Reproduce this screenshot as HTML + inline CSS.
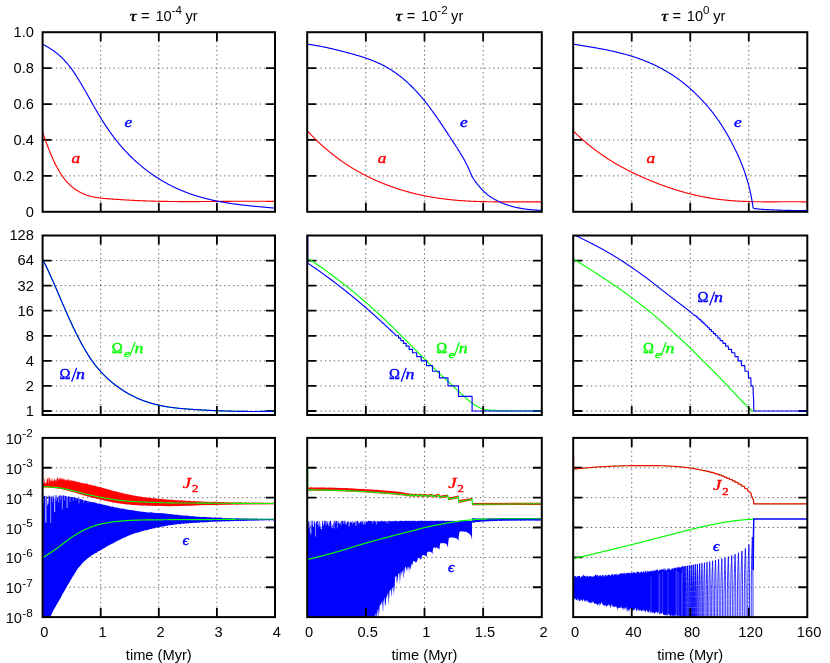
<!DOCTYPE html>
<html><head><meta charset="utf-8"><title>chart</title>
<style>html,body{margin:0;padding:0;background:#fff;}svg{display:block;}</style></head><body>
<svg width="830" height="663" viewBox="0 0 830 663">
<rect width="830" height="663" fill="#fff"/>
<g opacity="0.999">
<defs>
<clipPath id="cp00"><rect x="42.6" y="32.2" width="232.4" height="179.6"/></clipPath>
<clipPath id="cp01"><rect x="42.6" y="235.5" width="232.4" height="179.5"/></clipPath>
<clipPath id="cp02"><rect x="42.6" y="437.9" width="232.4" height="179.2"/></clipPath>
<clipPath id="cp10"><rect x="307.2" y="32.2" width="234.6" height="179.6"/></clipPath>
<clipPath id="cp11"><rect x="307.2" y="235.5" width="234.6" height="179.5"/></clipPath>
<clipPath id="cp12"><rect x="307.2" y="437.9" width="234.6" height="179.2"/></clipPath>
<clipPath id="cp20"><rect x="573.2" y="32.2" width="234.1" height="179.6"/></clipPath>
<clipPath id="cp21"><rect x="573.2" y="235.5" width="234.1" height="179.5"/></clipPath>
<clipPath id="cp22"><rect x="573.2" y="437.9" width="234.1" height="179.2"/></clipPath>
</defs>
<path d="M100.7 32.2 V211.8 M158.8 32.2 V211.8 M216.9 32.2 V211.8 M42.6 175.88 H275 M42.6 139.96 H275 M42.6 104.04 H275 M42.6 68.12 H275" stroke="#000" stroke-opacity="0.62" stroke-width="1" stroke-dasharray="1.35 3.08" fill="none"/>
<path d="M42.6 175.88 h9 M275 175.88 h-9 M42.6 139.96 h9 M275 139.96 h-9 M42.6 104.04 h9 M275 104.04 h-9 M42.6 68.12 h9 M275 68.12 h-9" stroke="#000" stroke-width="1.8" fill="none"/>
<g clip-path="url(#cp00)">
<path d="M42.56 132.08 L43.06 133.54 L43.57 134.98 L44.07 136.41 L44.57 137.83 L45.07 139.23 L45.57 140.61 L46.07 141.98 L46.57 143.34 L47.07 144.68 L47.57 146 L48.07 147.31 L48.57 148.6 L49.07 149.87 L49.58 151.12 L50.08 152.36 L50.58 153.57 L51.08 154.77 L51.58 155.95 L52.08 157.11 L52.58 158.25 L53.08 159.37 L53.58 160.46 L54.08 161.54 L54.58 162.6 L55.08 163.63 L55.58 164.64 L56.09 165.63 L56.59 166.59 L57.09 167.54 L57.59 168.46 L58.09 169.35 L58.59 170.23 L59.09 171.08 L59.59 171.92 L60.09 172.73 L60.59 173.52 L61.09 174.29 L61.59 175.04 L62.1 175.77 L62.6 176.48 L63.1 177.18 L63.6 177.85 L64.1 178.51 L64.6 179.15 L65.1 179.77 L65.6 180.38 L66.1 180.97 L66.6 181.54 L67.1 182.1 L67.6 182.64 L68.1 183.17 L68.61 183.68 L69.11 184.18 L69.61 184.66 L70.11 185.13 L70.61 185.59 L71.11 186.03 L71.61 186.47 L72.11 186.89 L72.61 187.3 L73.11 187.7 L73.61 188.08 L74.11 188.46 L74.62 188.83 L75.12 189.18 L75.62 189.53 L76.12 189.87 L76.62 190.2 L77.12 190.52 L77.62 190.83 L78.12 191.13 L78.62 191.43 L79.12 191.72 L79.62 191.99 L80.12 192.26 L80.62 192.52 L81.13 192.78 L81.63 193.03 L82.13 193.26 L82.63 193.5 L83.13 193.72 L83.63 193.94 L84.13 194.15 L84.63 194.35 L85.13 194.55 L85.63 194.74 L86.13 194.92 L86.63 195.1 L87.14 195.27 L87.64 195.44 L88.14 195.6 L88.64 195.75 L89.14 195.9 L89.64 196.04 L90.14 196.18 L90.64 196.31 L91.14 196.44 L91.64 196.56 L92.14 196.68 L92.64 196.79 L93.14 196.9 L93.65 197 L94.15 197.1 L94.65 197.2 L95.15 197.29 L95.65 197.38 L96.15 197.47 L96.65 197.55 L97.15 197.62 L97.65 197.7 L98.15 197.77 L98.65 197.84 L99.15 197.91 L99.66 197.97 L100.16 198.03 L100.66 198.09 L101.16 198.14 L101.66 198.2 L102.16 198.25 L102.66 198.3 L103.16 198.35 L103.66 198.39 L104.16 198.44 L104.66 198.48 L105.16 198.53 L105.66 198.57 L106.17 198.61 L106.67 198.65 L107.17 198.69 L107.67 198.73 L108.17 198.77 L108.67 198.81 L109.17 198.84 L109.67 198.88 L110.17 198.92 L110.67 198.96 L111.17 199 L111.67 199.03 L112.18 199.07 L112.68 199.11 L113.18 199.14 L113.68 199.18 L114.18 199.21 L114.68 199.25 L115.18 199.28 L115.68 199.32 L116.18 199.35 L116.68 199.39 L117.18 199.42 L117.68 199.45 L118.18 199.49 L118.69 199.52 L119.19 199.55 L119.69 199.59 L120.19 199.62 L120.69 199.65 L121.19 199.68 L121.69 199.71 L122.19 199.74 L122.69 199.78 L123.19 199.81 L123.69 199.84 L124.19 199.87 L124.7 199.9 L125.2 199.93 L125.7 199.95 L126.2 199.98 L126.7 200.01 L127.2 200.04 L127.7 200.07 L128.2 200.1 L128.7 200.12 L129.2 200.15 L129.7 200.18 L130.2 200.21 L130.7 200.23 L131.21 200.26 L131.71 200.28 L132.21 200.31 L132.71 200.33 L133.21 200.36 L133.71 200.38 L134.21 200.41 L134.71 200.43 L135.21 200.46 L135.71 200.48 L136.21 200.51 L136.71 200.53 L137.22 200.55 L137.72 200.57 L138.22 200.6 L138.72 200.62 L139.22 200.64 L139.72 200.66 L140.22 200.68 L140.72 200.7 L141.22 200.73 L141.72 200.75 L142.22 200.77 L142.72 200.79 L143.22 200.81 L143.73 200.83 L144.23 200.84 L144.73 200.86 L145.23 200.88 L145.73 200.9 L146.23 200.92 L146.73 200.94 L147.23 200.95 L147.73 200.97 L148.23 200.99 L148.73 201.01 L149.23 201.02 L149.74 201.04 L150.24 201.05 L150.74 201.07 L151.24 201.09 L151.74 201.1 L152.24 201.12 L152.74 201.13 L153.24 201.14 L153.74 201.16 L154.24 201.17 L154.74 201.19 L155.24 201.2 L155.74 201.21 L156.25 201.23 L156.75 201.24 L157.25 201.25 L157.75 201.26 L158.25 201.27 L158.75 201.29 L159.25 201.3 L159.75 201.31 L160.25 201.32 L160.75 201.33 L161.25 201.34 L161.75 201.35 L162.26 201.36 L162.76 201.37 L163.26 201.38 L163.76 201.39 L164.26 201.4 L164.76 201.4 L165.26 201.41 L165.76 201.42 L166.26 201.43 L166.76 201.44 L167.26 201.44 L167.76 201.45 L168.26 201.46 L168.77 201.46 L169.27 201.47 L169.77 201.48 L170.27 201.48 L170.77 201.49 L171.27 201.5 L171.77 201.5 L172.27 201.51 L172.77 201.51 L173.27 201.52 L173.77 201.52 L174.27 201.52 L174.78 201.53 L175.28 201.53 L175.78 201.54 L176.28 201.54 L176.78 201.54 L177.28 201.55 L177.78 201.55 L178.28 201.55 L178.78 201.56 L179.28 201.56 L179.78 201.56 L180.28 201.56 L180.78 201.57 L181.29 201.57 L181.79 201.57 L182.29 201.57 L182.79 201.57 L183.29 201.57 L183.79 201.57 L184.29 201.58 L184.79 201.58 L185.29 201.58 L185.79 201.58 L186.29 201.58 L186.79 201.58 L187.3 201.58 L187.8 201.58 L188.3 201.58 L188.8 201.58 L189.3 201.58 L189.8 201.58 L190.3 201.58 L190.8 201.58 L191.3 201.58 L191.8 201.57 L192.3 201.57 L192.8 201.57 L193.3 201.57 L193.81 201.57 L194.31 201.57 L194.81 201.57 L195.31 201.56 L195.81 201.56 L196.31 201.56 L196.81 201.56 L197.31 201.56 L197.81 201.55 L198.31 201.55 L198.81 201.55 L199.31 201.55 L199.82 201.54 L200.32 201.54 L200.82 201.54 L201.32 201.53 L201.82 201.53 L202.32 201.53 L202.82 201.53 L203.32 201.52 L203.82 201.52 L204.32 201.52 L204.82 201.51 L205.32 201.51 L205.82 201.51 L206.33 201.5 L206.83 201.5 L207.33 201.49 L207.83 201.49 L208.33 201.49 L208.83 201.48 L209.33 201.48 L209.83 201.48 L210.33 201.47 L210.83 201.47 L211.33 201.46 L211.83 201.46 L212.34 201.46 L212.84 201.45 L213.34 201.45 L213.84 201.44 L214.34 201.44 L214.84 201.43 L215.34 201.43 L215.84 201.43 L216.34 201.42 L216.84 201.42 L217.34 201.41 L217.84 201.41 L218.34 201.4 L218.85 201.4 L219.35 201.4 L219.85 201.39 L220.35 201.39 L220.85 201.38 L221.35 201.38 L221.85 201.37 L222.35 201.37 L222.85 201.37 L223.35 201.36 L223.85 201.36 L224.35 201.35 L224.86 201.35 L225.36 201.35 L225.86 201.34 L226.36 201.34 L226.86 201.33 L227.36 201.33 L227.86 201.33 L228.36 201.32 L228.86 201.32 L229.36 201.31 L229.86 201.31 L230.36 201.31 L230.86 201.3 L231.37 201.3 L231.87 201.3 L232.37 201.29 L232.87 201.29 L233.37 201.29 L233.87 201.28 L234.37 201.28 L234.87 201.28 L235.37 201.27 L235.87 201.27 L236.37 201.27 L236.87 201.26 L237.38 201.26 L237.88 201.26 L238.38 201.26 L238.88 201.25 L239.38 201.25 L239.88 201.25 L240.38 201.25 L240.88 201.24 L241.38 201.24 L241.88 201.24 L242.38 201.24 L242.88 201.24 L243.38 201.23 L243.89 201.23 L244.39 201.23 L244.89 201.23 L245.39 201.23 L245.89 201.23 L246.39 201.23 L246.89 201.22 L247.39 201.22 L247.89 201.22 L248.39 201.22 L248.89 201.22 L249.39 201.22 L249.9 201.22 L250.4 201.22 L250.9 201.22 L251.4 201.22 L251.9 201.22 L252.4 201.22 L252.9 201.22 L253.4 201.22 L253.9 201.23 L254.4 201.23 L254.9 201.23 L255.4 201.23 L255.9 201.23 L256.41 201.23 L256.91 201.23 L257.41 201.24 L257.91 201.24 L258.41 201.24 L258.91 201.24 L259.41 201.25 L259.91 201.25 L260.41 201.25 L260.91 201.26 L261.41 201.26 L261.91 201.26 L262.42 201.27 L262.92 201.27 L263.42 201.28 L263.92 201.28 L264.42 201.28 L264.92 201.29 L265.42 201.29 L265.92 201.3 L266.42 201.31 L266.92 201.31 L267.42 201.32 L267.92 201.32 L268.42 201.33 L268.93 201.34 L269.43 201.34 L269.93 201.35 L270.43 201.36 L270.93 201.36 L271.43 201.37 L271.93 201.38 L272.43 201.39 L272.93 201.4 L273.43 201.4 L273.93 201.41 L274.43 201.42 L274.94 201.43 L275.44 201.44" fill="none" stroke="#ff0000" stroke-width="1.15" stroke-linejoin="round" />
<path d="M42.56 44.29 L43.06 44.55 L43.57 44.8 L44.07 45.06 L44.57 45.32 L45.07 45.59 L45.57 45.86 L46.07 46.13 L46.57 46.41 L47.07 46.69 L47.57 46.98 L48.07 47.27 L48.57 47.57 L49.07 47.87 L49.58 48.17 L50.08 48.49 L50.58 48.8 L51.08 49.13 L51.58 49.45 L52.08 49.79 L52.58 50.13 L53.08 50.47 L53.58 50.83 L54.08 51.18 L54.58 51.55 L55.08 51.92 L55.58 52.3 L56.09 52.69 L56.59 53.08 L57.09 53.48 L57.59 53.89 L58.09 54.31 L58.59 54.73 L59.09 55.17 L59.59 55.61 L60.09 56.05 L60.59 56.51 L61.09 56.98 L61.59 57.45 L62.1 57.94 L62.6 58.43 L63.1 58.93 L63.6 59.44 L64.1 59.97 L64.6 60.5 L65.1 61.04 L65.6 61.59 L66.1 62.15 L66.6 62.72 L67.1 63.31 L67.6 63.9 L68.1 64.5 L68.61 65.12 L69.11 65.74 L69.61 66.38 L70.11 67.03 L70.61 67.69 L71.11 68.36 L71.61 69.05 L72.11 69.74 L72.61 70.45 L73.11 71.17 L73.61 71.89 L74.11 72.63 L74.62 73.37 L75.12 74.13 L75.62 74.89 L76.12 75.67 L76.62 76.45 L77.12 77.24 L77.62 78.03 L78.12 78.84 L78.62 79.65 L79.12 80.47 L79.62 81.29 L80.12 82.12 L80.62 82.96 L81.13 83.8 L81.63 84.65 L82.13 85.5 L82.63 86.36 L83.13 87.22 L83.63 88.09 L84.13 88.96 L84.63 89.83 L85.13 90.71 L85.63 91.59 L86.13 92.47 L86.63 93.36 L87.14 94.24 L87.64 95.13 L88.14 96.02 L88.64 96.91 L89.14 97.8 L89.64 98.69 L90.14 99.58 L90.64 100.47 L91.14 101.37 L91.64 102.26 L92.14 103.15 L92.64 104.03 L93.14 104.92 L93.65 105.8 L94.15 106.68 L94.65 107.56 L95.15 108.44 L95.65 109.31 L96.15 110.18 L96.65 111.05 L97.15 111.91 L97.65 112.77 L98.15 113.62 L98.65 114.47 L99.15 115.31 L99.66 116.14 L100.16 116.97 L100.66 117.8 L101.16 118.62 L101.66 119.43 L102.16 120.23 L102.66 121.03 L103.16 121.82 L103.66 122.6 L104.16 123.38 L104.66 124.15 L105.16 124.92 L105.66 125.68 L106.17 126.43 L106.67 127.18 L107.17 127.92 L107.67 128.65 L108.17 129.38 L108.67 130.11 L109.17 130.82 L109.67 131.53 L110.17 132.24 L110.67 132.94 L111.17 133.63 L111.67 134.31 L112.18 135 L112.68 135.67 L113.18 136.34 L113.68 137.01 L114.18 137.66 L114.68 138.32 L115.18 138.96 L115.68 139.61 L116.18 140.24 L116.68 140.87 L117.18 141.5 L117.68 142.12 L118.18 142.73 L118.69 143.34 L119.19 143.95 L119.69 144.55 L120.19 145.14 L120.69 145.73 L121.19 146.32 L121.69 146.9 L122.19 147.47 L122.69 148.04 L123.19 148.6 L123.69 149.16 L124.19 149.72 L124.7 150.27 L125.2 150.81 L125.7 151.35 L126.2 151.89 L126.7 152.42 L127.2 152.95 L127.7 153.47 L128.2 153.99 L128.7 154.5 L129.2 155.01 L129.7 155.52 L130.2 156.02 L130.7 156.51 L131.21 157.01 L131.71 157.49 L132.21 157.98 L132.71 158.46 L133.21 158.93 L133.71 159.4 L134.21 159.87 L134.71 160.33 L135.21 160.79 L135.71 161.25 L136.21 161.7 L136.71 162.15 L137.22 162.59 L137.72 163.03 L138.22 163.47 L138.72 163.91 L139.22 164.33 L139.72 164.76 L140.22 165.18 L140.72 165.6 L141.22 166.02 L141.72 166.43 L142.22 166.84 L142.72 167.25 L143.22 167.65 L143.73 168.05 L144.23 168.44 L144.73 168.84 L145.23 169.23 L145.73 169.61 L146.23 170 L146.73 170.38 L147.23 170.76 L147.73 171.13 L148.23 171.51 L148.73 171.87 L149.23 172.24 L149.74 172.6 L150.24 172.97 L150.74 173.32 L151.24 173.68 L151.74 174.03 L152.24 174.38 L152.74 174.73 L153.24 175.07 L153.74 175.41 L154.24 175.75 L154.74 176.09 L155.24 176.42 L155.74 176.75 L156.25 177.08 L156.75 177.41 L157.25 177.73 L157.75 178.05 L158.25 178.37 L158.75 178.68 L159.25 178.99 L159.75 179.3 L160.25 179.61 L160.75 179.92 L161.25 180.22 L161.75 180.52 L162.26 180.81 L162.76 181.11 L163.26 181.4 L163.76 181.69 L164.26 181.98 L164.76 182.26 L165.26 182.55 L165.76 182.83 L166.26 183.1 L166.76 183.38 L167.26 183.65 L167.76 183.92 L168.26 184.19 L168.77 184.45 L169.27 184.72 L169.77 184.98 L170.27 185.24 L170.77 185.49 L171.27 185.75 L171.77 186 L172.27 186.25 L172.77 186.5 L173.27 186.74 L173.77 186.99 L174.27 187.23 L174.78 187.47 L175.28 187.7 L175.78 187.94 L176.28 188.17 L176.78 188.4 L177.28 188.63 L177.78 188.85 L178.28 189.08 L178.78 189.3 L179.28 189.52 L179.78 189.73 L180.28 189.95 L180.78 190.16 L181.29 190.37 L181.79 190.58 L182.29 190.79 L182.79 191 L183.29 191.2 L183.79 191.4 L184.29 191.6 L184.79 191.8 L185.29 192 L185.79 192.19 L186.29 192.38 L186.79 192.57 L187.3 192.76 L187.8 192.95 L188.3 193.13 L188.8 193.31 L189.3 193.49 L189.8 193.67 L190.3 193.85 L190.8 194.03 L191.3 194.2 L191.8 194.37 L192.3 194.54 L192.8 194.71 L193.3 194.88 L193.81 195.05 L194.31 195.21 L194.81 195.37 L195.31 195.53 L195.81 195.69 L196.31 195.85 L196.81 196 L197.31 196.16 L197.81 196.31 L198.31 196.46 L198.81 196.61 L199.31 196.76 L199.82 196.9 L200.32 197.05 L200.82 197.19 L201.32 197.33 L201.82 197.47 L202.32 197.61 L202.82 197.75 L203.32 197.88 L203.82 198.02 L204.32 198.15 L204.82 198.28 L205.32 198.41 L205.82 198.54 L206.33 198.67 L206.83 198.8 L207.33 198.92 L207.83 199.04 L208.33 199.17 L208.83 199.29 L209.33 199.41 L209.83 199.52 L210.33 199.64 L210.83 199.76 L211.33 199.87 L211.83 199.99 L212.34 200.1 L212.84 200.21 L213.34 200.32 L213.84 200.43 L214.34 200.53 L214.84 200.64 L215.34 200.74 L215.84 200.85 L216.34 200.95 L216.84 201.05 L217.34 201.15 L217.84 201.25 L218.34 201.35 L218.85 201.45 L219.35 201.54 L219.85 201.64 L220.35 201.73 L220.85 201.82 L221.35 201.92 L221.85 202.01 L222.35 202.1 L222.85 202.19 L223.35 202.27 L223.85 202.36 L224.35 202.45 L224.86 202.53 L225.36 202.61 L225.86 202.7 L226.36 202.78 L226.86 202.86 L227.36 202.94 L227.86 203.02 L228.36 203.1 L228.86 203.18 L229.36 203.25 L229.86 203.33 L230.36 203.41 L230.86 203.48 L231.37 203.55 L231.87 203.63 L232.37 203.7 L232.87 203.77 L233.37 203.84 L233.87 203.91 L234.37 203.98 L234.87 204.05 L235.37 204.11 L235.87 204.18 L236.37 204.25 L236.87 204.31 L237.38 204.38 L237.88 204.44 L238.38 204.51 L238.88 204.57 L239.38 204.63 L239.88 204.69 L240.38 204.75 L240.88 204.81 L241.38 204.87 L241.88 204.93 L242.38 204.99 L242.88 205.05 L243.38 205.11 L243.89 205.17 L244.39 205.22 L244.89 205.28 L245.39 205.33 L245.89 205.39 L246.39 205.44 L246.89 205.5 L247.39 205.55 L247.89 205.6 L248.39 205.66 L248.89 205.71 L249.39 205.76 L249.9 205.81 L250.4 205.87 L250.9 205.92 L251.4 205.97 L251.9 206.02 L252.4 206.07 L252.9 206.12 L253.4 206.17 L253.9 206.22 L254.4 206.26 L254.9 206.31 L255.4 206.36 L255.9 206.41 L256.41 206.46 L256.91 206.5 L257.41 206.55 L257.91 206.6 L258.41 206.64 L258.91 206.69 L259.41 206.74 L259.91 206.78 L260.41 206.83 L260.91 206.88 L261.41 206.92 L261.91 206.97 L262.42 207.01 L262.92 207.06 L263.42 207.1 L263.92 207.15 L264.42 207.19 L264.92 207.24 L265.42 207.28 L265.92 207.33 L266.42 207.37 L266.92 207.42 L267.42 207.46 L267.92 207.51 L268.42 207.56 L268.93 207.6 L269.43 207.65 L269.93 207.69 L270.43 207.74 L270.93 207.78 L271.43 207.83 L271.93 207.87 L272.43 207.92 L272.93 207.96 L273.43 208.01 L273.93 208.06 L274.43 208.1 L274.94 208.15 L275.44 208.2" fill="none" stroke="#0000ff" stroke-width="1.15" stroke-linejoin="round" />
</g>
<text transform="translate(124.4 127) scale(1.2 1)" font-family='"Liberation Serif", serif' font-size="14.4" fill="#0000ff" stroke="#0000ff" stroke-width="0.42" font-style="italic" >e</text>
<text transform="translate(71.6 163.2) scale(1.2 1)" font-family='"Liberation Serif", serif' font-size="14.4" fill="#ff0000" stroke="#ff0000" stroke-width="0.42" font-style="italic" >a</text>
<path d="M100.7 211.8 v-9 M100.7 32.2 v9 M158.8 211.8 v-9 M158.8 32.2 v9 M216.9 211.8 v-9 M216.9 32.2 v9" stroke="#000" stroke-width="1.8" fill="none"/>
<rect x="42.6" y="32.2" width="232.4" height="179.6" fill="none" stroke="#000" stroke-width="2"/>
<path d="M365.85 32.2 V211.8 M424.5 32.2 V211.8 M483.15 32.2 V211.8 M307.2 175.88 H541.8 M307.2 139.96 H541.8 M307.2 104.04 H541.8 M307.2 68.12 H541.8" stroke="#000" stroke-opacity="0.62" stroke-width="1" stroke-dasharray="1.35 3.08" fill="none"/>
<path d="M307.2 175.88 h9 M541.8 175.88 h-9 M307.2 139.96 h9 M541.8 139.96 h-9 M307.2 104.04 h9 M541.8 104.04 h-9 M307.2 68.12 h9 M541.8 68.12 h-9" stroke="#000" stroke-width="1.8" fill="none"/>
<g clip-path="url(#cp10)">
<path d="M307.57 131.08 L308.07 131.62 L308.57 132.15 L309.07 132.68 L309.57 133.21 L310.07 133.74 L310.57 134.26 L311.07 134.78 L311.57 135.29 L312.07 135.8 L312.57 136.31 L313.07 136.82 L313.58 137.32 L314.08 137.82 L314.58 138.32 L315.08 138.82 L315.58 139.31 L316.08 139.8 L316.58 140.28 L317.08 140.76 L317.58 141.24 L318.08 141.72 L318.58 142.19 L319.08 142.66 L319.59 143.13 L320.09 143.6 L320.59 144.06 L321.09 144.52 L321.59 144.98 L322.09 145.43 L322.59 145.88 L323.09 146.33 L323.59 146.77 L324.09 147.22 L324.59 147.66 L325.09 148.09 L325.59 148.53 L326.1 148.96 L326.6 149.39 L327.1 149.82 L327.6 150.24 L328.1 150.66 L328.6 151.08 L329.1 151.49 L329.6 151.91 L330.1 152.32 L330.6 152.73 L331.1 153.13 L331.6 153.53 L332.1 153.93 L332.61 154.33 L333.11 154.73 L333.61 155.12 L334.11 155.51 L334.61 155.9 L335.11 156.28 L335.61 156.66 L336.11 157.04 L336.61 157.42 L337.11 157.8 L337.61 158.17 L338.11 158.54 L338.62 158.91 L339.12 159.27 L339.62 159.64 L340.12 160 L340.62 160.35 L341.12 160.71 L341.62 161.06 L342.12 161.42 L342.62 161.76 L343.12 162.11 L343.62 162.46 L344.12 162.8 L344.62 163.14 L345.13 163.47 L345.63 163.81 L346.13 164.14 L346.63 164.47 L347.13 164.8 L347.63 165.13 L348.13 165.45 L348.63 165.78 L349.13 166.1 L349.63 166.41 L350.13 166.73 L350.63 167.04 L351.13 167.35 L351.64 167.66 L352.14 167.97 L352.64 168.28 L353.14 168.58 L353.64 168.88 L354.14 169.18 L354.64 169.48 L355.14 169.77 L355.64 170.07 L356.14 170.36 L356.64 170.65 L357.14 170.93 L357.64 171.22 L358.15 171.5 L358.65 171.78 L359.15 172.06 L359.65 172.34 L360.15 172.62 L360.65 172.89 L361.15 173.16 L361.65 173.43 L362.15 173.7 L362.65 173.97 L363.15 174.23 L363.65 174.5 L364.16 174.76 L364.66 175.02 L365.16 175.27 L365.66 175.53 L366.16 175.78 L366.66 176.04 L367.16 176.29 L367.66 176.54 L368.16 176.78 L368.66 177.03 L369.16 177.27 L369.66 177.52 L370.16 177.76 L370.67 178 L371.17 178.23 L371.67 178.47 L372.17 178.71 L372.67 178.94 L373.17 179.17 L373.67 179.4 L374.17 179.63 L374.67 179.85 L375.17 180.08 L375.67 180.3 L376.17 180.52 L376.67 180.75 L377.18 180.96 L377.68 181.18 L378.18 181.4 L378.68 181.61 L379.18 181.83 L379.68 182.04 L380.18 182.25 L380.68 182.46 L381.18 182.67 L381.68 182.87 L382.18 183.08 L382.68 183.28 L383.19 183.48 L383.69 183.68 L384.19 183.88 L384.69 184.08 L385.19 184.28 L385.69 184.47 L386.19 184.67 L386.69 184.86 L387.19 185.05 L387.69 185.24 L388.19 185.43 L388.69 185.62 L389.19 185.8 L389.7 185.99 L390.2 186.17 L390.7 186.35 L391.2 186.53 L391.7 186.71 L392.2 186.89 L392.7 187.07 L393.2 187.24 L393.7 187.42 L394.2 187.59 L394.7 187.76 L395.2 187.93 L395.7 188.1 L396.21 188.27 L396.71 188.43 L397.21 188.6 L397.71 188.76 L398.21 188.92 L398.71 189.08 L399.21 189.24 L399.71 189.4 L400.21 189.56 L400.71 189.72 L401.21 189.87 L401.71 190.02 L402.21 190.18 L402.72 190.33 L403.22 190.48 L403.72 190.63 L404.22 190.77 L404.72 190.92 L405.22 191.06 L405.72 191.21 L406.22 191.35 L406.72 191.49 L407.22 191.63 L407.72 191.77 L408.22 191.91 L408.73 192.05 L409.23 192.18 L409.73 192.32 L410.23 192.45 L410.73 192.58 L411.23 192.71 L411.73 192.84 L412.23 192.97 L412.73 193.1 L413.23 193.22 L413.73 193.35 L414.23 193.47 L414.73 193.59 L415.24 193.72 L415.74 193.84 L416.24 193.96 L416.74 194.07 L417.24 194.19 L417.74 194.31 L418.24 194.42 L418.74 194.54 L419.24 194.65 L419.74 194.76 L420.24 194.87 L420.74 194.98 L421.24 195.09 L421.75 195.2 L422.25 195.3 L422.75 195.41 L423.25 195.51 L423.75 195.61 L424.25 195.72 L424.75 195.82 L425.25 195.92 L425.75 196.02 L426.25 196.11 L426.75 196.21 L427.25 196.31 L427.76 196.4 L428.26 196.5 L428.76 196.59 L429.26 196.68 L429.76 196.77 L430.26 196.86 L430.76 196.95 L431.26 197.04 L431.76 197.12 L432.26 197.21 L432.76 197.29 L433.26 197.38 L433.76 197.46 L434.27 197.54 L434.77 197.62 L435.27 197.7 L435.77 197.78 L436.27 197.86 L436.77 197.94 L437.27 198.01 L437.77 198.09 L438.27 198.16 L438.77 198.23 L439.27 198.31 L439.77 198.38 L440.27 198.45 L440.78 198.52 L441.28 198.59 L441.78 198.65 L442.28 198.72 L442.78 198.79 L443.28 198.85 L443.78 198.92 L444.28 198.98 L444.78 199.04 L445.28 199.1 L445.78 199.16 L446.28 199.22 L446.79 199.28 L447.29 199.34 L447.79 199.4 L448.29 199.45 L448.79 199.51 L449.29 199.56 L449.79 199.62 L450.29 199.67 L450.79 199.72 L451.29 199.77 L451.79 199.82 L452.29 199.87 L452.79 199.92 L453.3 199.97 L453.8 200.02 L454.3 200.06 L454.8 200.11 L455.3 200.15 L455.8 200.2 L456.3 200.24 L456.8 200.29 L457.3 200.33 L457.8 200.37 L458.3 200.41 L458.8 200.45 L459.3 200.49 L459.81 200.53 L460.31 200.56 L460.81 200.6 L461.31 200.64 L461.81 200.67 L462.31 200.71 L462.81 200.74 L463.31 200.77 L463.81 200.81 L464.31 200.84 L464.81 200.87 L465.31 200.9 L465.81 200.93 L466.32 200.96 L466.82 200.99 L467.32 201.02 L467.82 201.05 L468.32 201.07 L468.82 201.1 L469.32 201.13 L469.82 201.15 L470.32 201.18 L470.82 201.2 L471.32 201.22 L471.82 201.25 L472.33 201.27 L472.83 201.29 L473.33 201.31 L473.83 201.33 L474.33 201.36 L474.83 201.38 L475.33 201.39 L475.83 201.41 L476.33 201.43 L476.83 201.45 L477.33 201.47 L477.83 201.48 L478.33 201.5 L478.84 201.52 L479.34 201.53 L479.84 201.55 L480.34 201.56 L480.84 201.58 L481.34 201.59 L481.84 201.6 L482.34 201.62 L482.84 201.63 L483.34 201.64 L483.84 201.65 L484.34 201.66 L484.84 201.67 L485.35 201.68 L485.85 201.69 L486.35 201.7 L486.85 201.71 L487.35 201.72 L487.85 201.73 L488.35 201.74 L488.85 201.75 L489.35 201.75 L489.85 201.76 L490.35 201.77 L490.85 201.77 L491.36 201.78 L491.86 201.79 L492.36 201.79 L492.86 201.8 L493.36 201.8 L493.86 201.81 L494.36 201.81 L494.86 201.81 L495.36 201.82 L495.86 201.82 L496.36 201.83 L496.86 201.83 L497.36 201.83 L497.87 201.83 L498.37 201.84 L498.87 201.84 L499.37 201.84 L499.87 201.84 L500.37 201.84 L500.87 201.85 L501.37 201.85 L501.87 201.85 L502.37 201.85 L502.87 201.85 L503.37 201.85 L503.87 201.85 L504.38 201.85 L504.88 201.85 L505.38 201.85 L505.88 201.85 L506.38 201.85 L506.88 201.85 L507.38 201.85 L507.88 201.85 L508.38 201.85 L508.88 201.85 L509.38 201.84 L509.88 201.84 L510.38 201.84 L510.89 201.84 L511.39 201.84 L511.89 201.84 L512.39 201.84 L512.89 201.84 L513.39 201.83 L513.89 201.83 L514.39 201.83 L514.89 201.83 L515.39 201.83 L515.89 201.83 L516.39 201.83 L516.9 201.82 L517.4 201.82 L517.9 201.82 L518.4 201.82 L518.9 201.82 L519.4 201.82 L519.9 201.81 L520.4 201.81 L520.9 201.81 L521.4 201.81 L521.9 201.81 L522.4 201.81 L522.9 201.81 L523.41 201.81 L523.91 201.81 L524.41 201.8 L524.91 201.8 L525.41 201.8 L525.91 201.8 L526.41 201.8 L526.91 201.8 L527.41 201.8 L527.91 201.8 L528.41 201.8 L528.91 201.8 L529.41 201.8 L529.92 201.81 L530.42 201.81 L530.92 201.81 L531.42 201.81 L531.92 201.81 L532.42 201.81 L532.92 201.81 L533.42 201.82 L533.92 201.82 L534.42 201.82 L534.92 201.82 L535.42 201.83 L535.93 201.83 L536.43 201.83 L536.93 201.84 L537.43 201.84 L537.93 201.85 L538.43 201.85 L538.93 201.86 L539.43 201.86 L539.93 201.87 L540.43 201.87 L540.93 201.88 L541.43 201.88" fill="none" stroke="#ff0000" stroke-width="1.15" stroke-linejoin="round" />
<path d="M307.57 44.22 L308.07 44.28 L308.57 44.35 L309.07 44.41 L309.57 44.48 L310.07 44.55 L310.57 44.62 L311.07 44.69 L311.57 44.76 L312.07 44.84 L312.57 44.91 L313.07 44.99 L313.57 45.07 L314.07 45.15 L314.58 45.23 L315.08 45.31 L315.58 45.4 L316.08 45.48 L316.58 45.57 L317.08 45.66 L317.58 45.75 L318.08 45.84 L318.58 45.93 L319.08 46.02 L319.58 46.11 L320.08 46.21 L320.58 46.3 L321.08 46.4 L321.58 46.5 L322.09 46.6 L322.59 46.7 L323.09 46.8 L323.59 46.9 L324.09 47 L324.59 47.11 L325.09 47.21 L325.59 47.32 L326.09 47.43 L326.59 47.54 L327.09 47.64 L327.59 47.75 L328.09 47.87 L328.59 47.98 L329.09 48.09 L329.6 48.2 L330.1 48.32 L330.6 48.43 L331.1 48.55 L331.6 48.67 L332.1 48.78 L332.6 48.9 L333.1 49.02 L333.6 49.14 L334.1 49.26 L334.6 49.38 L335.1 49.51 L335.6 49.63 L336.1 49.75 L336.6 49.88 L337.11 50 L337.61 50.12 L338.11 50.25 L338.61 50.38 L339.11 50.5 L339.61 50.63 L340.11 50.76 L340.61 50.89 L341.11 51.02 L341.61 51.15 L342.11 51.28 L342.61 51.41 L343.11 51.54 L343.61 51.67 L344.11 51.8 L344.62 51.93 L345.12 52.07 L345.62 52.2 L346.12 52.33 L346.62 52.47 L347.12 52.6 L347.62 52.73 L348.12 52.87 L348.62 53 L349.12 53.14 L349.62 53.27 L350.12 53.41 L350.62 53.54 L351.12 53.68 L351.62 53.82 L352.13 53.96 L352.63 54.09 L353.13 54.23 L353.63 54.37 L354.13 54.51 L354.63 54.65 L355.13 54.79 L355.63 54.94 L356.13 55.08 L356.63 55.22 L357.13 55.37 L357.63 55.52 L358.13 55.66 L358.63 55.81 L359.13 55.96 L359.64 56.11 L360.14 56.26 L360.64 56.42 L361.14 56.57 L361.64 56.73 L362.14 56.88 L362.64 57.04 L363.14 57.2 L363.64 57.37 L364.14 57.53 L364.64 57.69 L365.14 57.86 L365.64 58.03 L366.14 58.2 L366.64 58.37 L367.14 58.55 L367.65 58.72 L368.15 58.9 L368.65 59.08 L369.15 59.26 L369.65 59.44 L370.15 59.63 L370.65 59.82 L371.15 60.01 L371.65 60.2 L372.15 60.4 L372.65 60.59 L373.15 60.79 L373.65 61 L374.15 61.2 L374.65 61.41 L375.16 61.62 L375.66 61.83 L376.16 62.04 L376.66 62.26 L377.16 62.48 L377.66 62.71 L378.16 62.93 L378.66 63.16 L379.16 63.39 L379.66 63.63 L380.16 63.86 L380.66 64.11 L381.16 64.35 L381.66 64.6 L382.16 64.85 L382.67 65.1 L383.17 65.36 L383.67 65.62 L384.17 65.88 L384.67 66.15 L385.17 66.42 L385.67 66.69 L386.17 66.97 L386.67 67.25 L387.17 67.54 L387.67 67.82 L388.17 68.12 L388.67 68.41 L389.17 68.71 L389.67 69.02 L390.18 69.32 L390.68 69.63 L391.18 69.95 L391.68 70.27 L392.18 70.59 L392.68 70.92 L393.18 71.25 L393.68 71.59 L394.18 71.92 L394.68 72.27 L395.18 72.62 L395.68 72.97 L396.18 73.32 L396.68 73.68 L397.18 74.05 L397.69 74.42 L398.19 74.79 L398.69 75.16 L399.19 75.55 L399.69 75.93 L400.19 76.32 L400.69 76.71 L401.19 77.11 L401.69 77.52 L402.19 77.92 L402.69 78.33 L403.19 78.75 L403.69 79.17 L404.19 79.59 L404.69 80.02 L405.2 80.46 L405.7 80.9 L406.2 81.34 L406.7 81.79 L407.2 82.24 L407.7 82.69 L408.2 83.15 L408.7 83.62 L409.2 84.09 L409.7 84.57 L410.2 85.04 L410.7 85.53 L411.2 86.02 L411.7 86.51 L412.2 87.01 L412.71 87.51 L413.21 88.02 L413.71 88.54 L414.21 89.05 L414.71 89.58 L415.21 90.1 L415.71 90.64 L416.21 91.17 L416.71 91.72 L417.21 92.26 L417.71 92.82 L418.21 93.37 L418.71 93.94 L419.21 94.5 L419.71 95.08 L420.22 95.65 L420.72 96.24 L421.22 96.82 L421.72 97.42 L422.22 98.02 L422.72 98.62 L423.22 99.23 L423.72 99.84 L424.22 100.46 L424.72 101.08 L425.22 101.71 L425.72 102.35 L426.22 102.98 L426.72 103.63 L427.22 104.27 L427.72 104.92 L428.23 105.58 L428.73 106.24 L429.23 106.9 L429.73 107.57 L430.23 108.24 L430.73 108.92 L431.23 109.6 L431.73 110.28 L432.23 110.97 L432.73 111.66 L433.23 112.36 L433.73 113.06 L434.23 113.76 L434.73 114.46 L435.23 115.17 L435.74 115.88 L436.24 116.6 L436.74 117.31 L437.24 118.03 L437.74 118.76 L438.24 119.48 L438.74 120.21 L439.24 120.94 L439.74 121.67 L440.24 122.41 L440.74 123.15 L441.24 123.89 L441.74 124.63 L442.24 125.37 L442.74 126.12 L443.25 126.87 L443.75 127.62 L444.25 128.37 L444.75 129.12 L445.25 129.88 L445.75 130.64 L446.25 131.39 L446.75 132.15 L447.25 132.91 L447.75 133.68 L448.25 134.44 L448.75 135.2 L449.25 135.97 L449.75 136.73 L450.25 137.5 L450.76 138.27 L451.26 139.04 L451.76 139.8 L452.26 140.57 L452.76 141.34 L453.26 142.11 L453.76 142.88 L454.26 143.65 L454.76 144.42 L455.26 145.19 L455.76 145.96 L456.26 146.73 L456.76 147.5 L457.26 148.28 L457.76 149.05 L458.27 149.84 L458.77 150.62 L459.27 151.42 L459.77 152.22 L460.27 153.02 L460.77 153.84 L461.27 154.67 L461.77 155.51 L462.27 156.36 L462.77 157.22 L463.27 158.1 L463.77 158.99 L464.27 159.89 L464.77 160.81 L465.27 161.75 L465.78 162.71 L466.28 163.69 L466.78 164.69 L467.28 165.7 L467.78 166.74 L468.28 167.81 L468.78 168.89 L469.28 170.01 L469.78 171.14 L470.28 172.31 L470.78 173.5 L471.28 174.72 L471.78 175.97 L471.78 176.09 L472.28 176.9 L472.79 177.69 L473.29 178.47 L473.79 179.23 L474.29 179.97 L474.79 180.7 L475.29 181.41 L475.79 182.11 L476.29 182.79 L476.79 183.46 L477.3 184.11 L477.8 184.75 L478.3 185.37 L478.8 185.98 L479.3 186.58 L479.8 187.16 L480.3 187.73 L480.8 188.28 L481.3 188.83 L481.8 189.36 L482.31 189.88 L482.81 190.38 L483.31 190.88 L483.81 191.36 L484.31 191.83 L484.81 192.3 L485.31 192.74 L485.81 193.18 L486.31 193.61 L486.82 194.03 L487.32 194.44 L487.82 194.84 L488.32 195.22 L488.82 195.6 L489.32 195.97 L489.82 196.33 L490.32 196.69 L490.82 197.03 L491.33 197.37 L491.83 197.69 L492.33 198.01 L492.83 198.33 L493.33 198.63 L493.83 198.93 L494.33 199.22 L494.83 199.5 L495.33 199.78 L495.84 200.05 L496.34 200.32 L496.84 200.58 L497.34 200.83 L497.84 201.08 L498.34 201.32 L498.84 201.56 L499.34 201.8 L499.84 202.03 L500.34 202.25 L500.85 202.47 L501.35 202.69 L501.85 202.9 L502.35 203.11 L502.85 203.31 L503.35 203.52 L503.85 203.71 L504.35 203.91 L504.85 204.09 L505.36 204.28 L505.86 204.46 L506.36 204.64 L506.86 204.81 L507.36 204.98 L507.86 205.15 L508.36 205.31 L508.86 205.47 L509.36 205.63 L509.87 205.78 L510.37 205.93 L510.87 206.07 L511.37 206.22 L511.87 206.36 L512.37 206.49 L512.87 206.62 L513.37 206.75 L513.87 206.88 L514.38 207 L514.88 207.13 L515.38 207.24 L515.88 207.36 L516.38 207.47 L516.88 207.58 L517.38 207.68 L517.88 207.79 L518.38 207.89 L518.88 207.99 L519.39 208.08 L519.89 208.18 L520.39 208.27 L520.89 208.35 L521.39 208.44 L521.89 208.52 L522.39 208.6 L522.89 208.68 L523.39 208.76 L523.9 208.83 L524.4 208.9 L524.9 208.97 L525.4 209.04 L525.9 209.11 L526.4 209.17 L526.9 209.23 L527.4 209.29 L527.9 209.35 L528.41 209.41 L528.91 209.46 L529.41 209.51 L529.91 209.56 L530.41 209.61 L530.91 209.66 L531.41 209.71 L531.91 209.75 L532.41 209.79 L532.92 209.84 L533.42 209.88 L533.92 209.91 L534.42 209.95 L534.92 209.99 L535.42 210.02 L535.92 210.06 L536.42 210.09 L536.92 210.12 L537.43 210.15 L537.93 210.18 L538.43 210.21 L538.93 210.24 L539.43 210.27 L539.93 210.29 L540.43 210.32 L540.93 210.34 L541.43 210.37" fill="none" stroke="#0000ff" stroke-width="1.15" stroke-linejoin="round" />
</g>
<text transform="translate(460 127) scale(1.2 1)" font-family='"Liberation Serif", serif' font-size="14.4" fill="#0000ff" stroke="#0000ff" stroke-width="0.42" font-style="italic" >e</text>
<text transform="translate(377.8 163.2) scale(1.2 1)" font-family='"Liberation Serif", serif' font-size="14.4" fill="#ff0000" stroke="#ff0000" stroke-width="0.42" font-style="italic" >a</text>
<path d="M365.85 211.8 v-9 M365.85 32.2 v9 M424.5 211.8 v-9 M424.5 32.2 v9 M483.15 211.8 v-9 M483.15 32.2 v9" stroke="#000" stroke-width="1.8" fill="none"/>
<rect x="307.2" y="32.2" width="234.6" height="179.6" fill="none" stroke="#000" stroke-width="2"/>
<path d="M631.73 32.2 V211.8 M690.25 32.2 V211.8 M748.77 32.2 V211.8 M573.2 175.88 H807.3 M573.2 139.96 H807.3 M573.2 104.04 H807.3 M573.2 68.12 H807.3" stroke="#000" stroke-opacity="0.62" stroke-width="1" stroke-dasharray="1.35 3.08" fill="none"/>
<path d="M573.2 175.88 h9 M807.3 175.88 h-9 M573.2 139.96 h9 M807.3 139.96 h-9 M573.2 104.04 h9 M807.3 104.04 h-9 M573.2 68.12 h9 M807.3 68.12 h-9" stroke="#000" stroke-width="1.8" fill="none"/>
<g clip-path="url(#cp20)">
<path d="M573.57 131.26 L574.07 131.75 L574.57 132.24 L575.07 132.73 L575.57 133.21 L576.07 133.7 L576.57 134.17 L577.07 134.65 L577.57 135.12 L578.07 135.59 L578.57 136.05 L579.07 136.52 L579.58 136.98 L580.08 137.44 L580.58 137.89 L581.08 138.34 L581.58 138.79 L582.08 139.24 L582.58 139.68 L583.08 140.12 L583.58 140.56 L584.08 140.99 L584.58 141.43 L585.08 141.86 L585.59 142.28 L586.09 142.71 L586.59 143.13 L587.09 143.55 L587.59 143.97 L588.09 144.38 L588.59 144.79 L589.09 145.2 L589.59 145.61 L590.09 146.01 L590.59 146.41 L591.09 146.81 L591.59 147.21 L592.1 147.6 L592.6 147.99 L593.1 148.38 L593.6 148.77 L594.1 149.15 L594.6 149.53 L595.1 149.91 L595.6 150.29 L596.1 150.66 L596.6 151.04 L597.1 151.41 L597.6 151.77 L598.1 152.14 L598.61 152.5 L599.11 152.86 L599.61 153.22 L600.11 153.58 L600.61 153.93 L601.11 154.28 L601.61 154.63 L602.11 154.98 L602.61 155.32 L603.11 155.67 L603.61 156.01 L604.11 156.35 L604.62 156.68 L605.12 157.02 L605.62 157.35 L606.12 157.68 L606.62 158.01 L607.12 158.34 L607.62 158.66 L608.12 158.98 L608.62 159.3 L609.12 159.62 L609.62 159.94 L610.12 160.25 L610.62 160.56 L611.13 160.88 L611.63 161.18 L612.13 161.49 L612.63 161.8 L613.13 162.1 L613.63 162.4 L614.13 162.7 L614.63 163 L615.13 163.29 L615.63 163.59 L616.13 163.88 L616.63 164.17 L617.13 164.46 L617.64 164.75 L618.14 165.03 L618.64 165.32 L619.14 165.6 L619.64 165.88 L620.14 166.16 L620.64 166.44 L621.14 166.71 L621.64 166.99 L622.14 167.26 L622.64 167.53 L623.14 167.8 L623.64 168.07 L624.15 168.33 L624.65 168.6 L625.15 168.86 L625.65 169.12 L626.15 169.39 L626.65 169.64 L627.15 169.9 L627.65 170.16 L628.15 170.41 L628.65 170.67 L629.15 170.92 L629.65 171.17 L630.16 171.42 L630.66 171.67 L631.16 171.91 L631.66 172.16 L632.16 172.4 L632.66 172.65 L633.16 172.89 L633.66 173.13 L634.16 173.37 L634.66 173.61 L635.16 173.84 L635.66 174.08 L636.16 174.31 L636.67 174.55 L637.17 174.78 L637.67 175.01 L638.17 175.24 L638.67 175.47 L639.17 175.7 L639.67 175.93 L640.17 176.15 L640.67 176.38 L641.17 176.6 L641.67 176.83 L642.17 177.05 L642.67 177.27 L643.18 177.49 L643.68 177.71 L644.18 177.93 L644.68 178.14 L645.18 178.36 L645.68 178.58 L646.18 178.79 L646.68 179 L647.18 179.22 L647.68 179.43 L648.18 179.64 L648.68 179.85 L649.19 180.06 L649.69 180.27 L650.19 180.48 L650.69 180.68 L651.19 180.89 L651.69 181.09 L652.19 181.3 L652.69 181.5 L653.19 181.7 L653.69 181.9 L654.19 182.1 L654.69 182.3 L655.19 182.5 L655.7 182.69 L656.2 182.89 L656.7 183.09 L657.2 183.28 L657.7 183.47 L658.2 183.67 L658.7 183.86 L659.2 184.05 L659.7 184.24 L660.2 184.43 L660.7 184.61 L661.2 184.8 L661.7 184.99 L662.21 185.17 L662.71 185.35 L663.21 185.54 L663.71 185.72 L664.21 185.9 L664.71 186.08 L665.21 186.26 L665.71 186.44 L666.21 186.61 L666.71 186.79 L667.21 186.96 L667.71 187.14 L668.21 187.31 L668.72 187.48 L669.22 187.65 L669.72 187.82 L670.22 187.99 L670.72 188.16 L671.22 188.33 L671.72 188.49 L672.22 188.66 L672.72 188.82 L673.22 188.98 L673.72 189.14 L674.22 189.31 L674.73 189.47 L675.23 189.62 L675.73 189.78 L676.23 189.94 L676.73 190.09 L677.23 190.25 L677.73 190.4 L678.23 190.56 L678.73 190.71 L679.23 190.86 L679.73 191.01 L680.23 191.16 L680.73 191.3 L681.24 191.45 L681.74 191.6 L682.24 191.74 L682.74 191.88 L683.24 192.03 L683.74 192.17 L684.24 192.31 L684.74 192.45 L685.24 192.58 L685.74 192.72 L686.24 192.86 L686.74 192.99 L687.24 193.13 L687.75 193.26 L688.25 193.39 L688.75 193.52 L689.25 193.65 L689.75 193.78 L690.25 193.91 L690.75 194.03 L691.25 194.16 L691.75 194.28 L692.25 194.41 L692.75 194.53 L693.25 194.65 L693.76 194.77 L694.26 194.89 L694.76 195.01 L695.26 195.12 L695.76 195.24 L696.26 195.35 L696.76 195.47 L697.26 195.58 L697.76 195.69 L698.26 195.8 L698.76 195.91 L699.26 196.02 L699.76 196.12 L700.27 196.23 L700.77 196.34 L701.27 196.44 L701.77 196.54 L702.27 196.64 L702.77 196.74 L703.27 196.84 L703.77 196.94 L704.27 197.04 L704.77 197.13 L705.27 197.23 L705.77 197.32 L706.27 197.41 L706.78 197.5 L707.28 197.59 L707.78 197.68 L708.28 197.77 L708.78 197.86 L709.28 197.94 L709.78 198.03 L710.28 198.11 L710.78 198.19 L711.28 198.28 L711.78 198.35 L712.28 198.43 L712.79 198.51 L713.29 198.59 L713.79 198.66 L714.29 198.74 L714.79 198.81 L715.29 198.88 L715.79 198.95 L716.29 199.02 L716.79 199.09 L717.29 199.16 L717.79 199.22 L718.29 199.29 L718.79 199.35 L719.3 199.42 L719.8 199.48 L720.3 199.54 L720.8 199.6 L721.3 199.66 L721.8 199.72 L722.3 199.77 L722.8 199.83 L723.3 199.88 L723.8 199.94 L724.3 199.99 L724.8 200.04 L725.3 200.09 L725.81 200.14 L726.31 200.19 L726.81 200.24 L727.31 200.29 L727.81 200.33 L728.31 200.38 L728.81 200.42 L729.31 200.47 L729.81 200.51 L730.31 200.55 L730.81 200.59 L731.31 200.63 L731.81 200.67 L732.32 200.71 L732.82 200.75 L733.32 200.78 L733.82 200.82 L734.32 200.86 L734.82 200.89 L735.32 200.92 L735.82 200.96 L736.32 200.99 L736.82 201.02 L737.32 201.05 L737.82 201.08 L738.33 201.11 L738.83 201.14 L739.33 201.16 L739.83 201.19 L740.33 201.22 L740.83 201.24 L741.33 201.27 L741.83 201.29 L742.33 201.31 L742.83 201.34 L743.33 201.36 L743.83 201.38 L744.33 201.4 L744.84 201.42 L745.34 201.44 L745.84 201.46 L746.34 201.48 L746.84 201.5 L747.34 201.51 L747.84 201.53 L748.34 201.54 L748.84 201.56 L749.34 201.57 L749.84 201.59 L750.34 201.6 L750.84 201.62 L751.35 201.63 L751.85 201.64 L752.35 201.65 L752.85 201.66 L753.35 201.67 L753.85 201.69 L754.35 201.7 L754.85 201.7 L755.35 201.71 L755.85 201.72 L756.35 201.73 L756.85 201.74 L757.36 201.74 L757.86 201.75 L758.36 201.76 L758.86 201.76 L759.36 201.77 L759.86 201.78 L760.36 201.78 L760.86 201.78 L761.36 201.79 L761.86 201.79 L762.36 201.8 L762.86 201.8 L763.36 201.8 L763.87 201.81 L764.37 201.81 L764.87 201.81 L765.37 201.81 L765.87 201.81 L766.37 201.82 L766.87 201.82 L767.37 201.82 L767.87 201.82 L768.37 201.82 L768.87 201.82 L769.37 201.82 L769.87 201.82 L770.38 201.82 L770.88 201.82 L771.38 201.82 L771.88 201.82 L772.38 201.82 L772.88 201.81 L773.38 201.81 L773.88 201.81 L774.38 201.81 L774.88 201.81 L775.38 201.81 L775.88 201.81 L776.38 201.8 L776.89 201.8 L777.39 201.8 L777.89 201.8 L778.39 201.8 L778.89 201.79 L779.39 201.79 L779.89 201.79 L780.39 201.79 L780.89 201.78 L781.39 201.78 L781.89 201.78 L782.39 201.78 L782.9 201.78 L783.4 201.77 L783.9 201.77 L784.4 201.77 L784.9 201.77 L785.4 201.77 L785.9 201.76 L786.4 201.76 L786.9 201.76 L787.4 201.76 L787.9 201.76 L788.4 201.76 L788.9 201.76 L789.41 201.76 L789.91 201.75 L790.41 201.75 L790.91 201.75 L791.41 201.75 L791.91 201.75 L792.41 201.75 L792.91 201.75 L793.41 201.75 L793.91 201.76 L794.41 201.76 L794.91 201.76 L795.41 201.76 L795.92 201.76 L796.42 201.76 L796.92 201.77 L797.42 201.77 L797.92 201.77 L798.42 201.77 L798.92 201.78 L799.42 201.78 L799.92 201.79 L800.42 201.79 L800.92 201.8 L801.42 201.8 L801.93 201.81 L802.43 201.81 L802.93 201.82 L803.43 201.83 L803.93 201.83 L804.43 201.84 L804.93 201.85 L805.43 201.86 L805.93 201.87 L806.43 201.87 L806.93 201.88 L807.43 201.89" fill="none" stroke="#ff0000" stroke-width="1.15" stroke-linejoin="round" />
<path d="M573.57 44.2 L574.07 44.28 L574.57 44.36 L575.07 44.44 L575.57 44.52 L576.07 44.61 L576.57 44.69 L577.07 44.77 L577.57 44.85 L578.07 44.93 L578.57 45.01 L579.07 45.09 L579.57 45.18 L580.07 45.26 L580.57 45.34 L581.07 45.42 L581.57 45.5 L582.07 45.58 L582.57 45.66 L583.07 45.74 L583.57 45.83 L584.07 45.91 L584.57 45.99 L585.07 46.07 L585.57 46.15 L586.07 46.23 L586.57 46.32 L587.07 46.4 L587.57 46.48 L588.07 46.56 L588.57 46.65 L589.07 46.73 L589.57 46.81 L590.07 46.9 L590.57 46.98 L591.07 47.07 L591.57 47.15 L592.07 47.24 L592.57 47.32 L593.07 47.41 L593.57 47.49 L594.07 47.58 L594.57 47.67 L595.07 47.76 L595.57 47.84 L596.07 47.93 L596.57 48.02 L597.07 48.11 L597.57 48.2 L598.07 48.29 L598.57 48.38 L599.07 48.47 L599.57 48.56 L600.07 48.65 L600.57 48.75 L601.07 48.84 L601.57 48.93 L602.07 49.03 L602.57 49.12 L603.07 49.22 L603.57 49.31 L604.07 49.41 L604.57 49.51 L605.07 49.61 L605.57 49.71 L606.07 49.81 L606.57 49.91 L607.07 50.01 L607.57 50.11 L608.07 50.21 L608.57 50.32 L609.07 50.42 L609.57 50.53 L610.07 50.63 L610.57 50.74 L611.07 50.85 L611.57 50.95 L612.07 51.06 L612.57 51.17 L613.07 51.29 L613.57 51.4 L614.07 51.51 L614.57 51.62 L615.07 51.74 L615.57 51.86 L616.07 51.97 L616.57 52.09 L617.07 52.21 L617.57 52.33 L618.07 52.45 L618.57 52.57 L619.07 52.7 L619.57 52.82 L620.07 52.95 L620.57 53.07 L621.07 53.2 L621.57 53.33 L622.07 53.46 L622.57 53.59 L623.07 53.72 L623.57 53.85 L624.07 53.99 L624.57 54.12 L625.07 54.26 L625.57 54.4 L626.07 54.54 L626.57 54.68 L627.07 54.82 L627.57 54.97 L628.07 55.11 L628.57 55.26 L629.07 55.41 L629.57 55.55 L630.07 55.7 L630.57 55.86 L631.07 56.01 L631.57 56.16 L632.07 56.32 L632.57 56.48 L633.07 56.64 L633.57 56.8 L634.07 56.96 L634.57 57.12 L635.07 57.29 L635.57 57.45 L636.07 57.62 L636.57 57.79 L637.07 57.96 L637.57 58.13 L638.07 58.31 L638.57 58.48 L639.07 58.66 L639.57 58.84 L640.07 59.02 L640.57 59.2 L641.07 59.39 L641.57 59.57 L642.07 59.76 L642.57 59.95 L643.07 60.14 L643.57 60.33 L644.07 60.53 L644.57 60.72 L645.07 60.92 L645.57 61.12 L646.07 61.32 L646.57 61.53 L647.07 61.73 L647.57 61.94 L648.07 62.15 L648.57 62.36 L649.07 62.57 L649.57 62.79 L650.07 63 L650.57 63.22 L651.07 63.44 L651.57 63.67 L652.07 63.89 L652.57 64.12 L653.07 64.35 L653.57 64.58 L654.07 64.81 L654.57 65.05 L655.07 65.29 L655.57 65.53 L656.07 65.77 L656.57 66.01 L657.07 66.26 L657.57 66.51 L658.07 66.76 L658.57 67.02 L659.07 67.27 L659.57 67.53 L660.07 67.79 L660.57 68.05 L661.07 68.32 L661.57 68.59 L662.07 68.86 L662.57 69.13 L663.07 69.41 L663.57 69.68 L664.07 69.96 L664.57 70.25 L665.07 70.53 L665.57 70.82 L666.07 71.11 L666.57 71.4 L667.07 71.7 L667.57 72 L668.07 72.3 L668.57 72.6 L669.07 72.91 L669.57 73.22 L670.07 73.53 L670.57 73.85 L671.07 74.17 L671.57 74.49 L672.07 74.81 L672.57 75.14 L673.07 75.47 L673.57 75.8 L674.07 76.13 L674.57 76.47 L675.07 76.81 L675.57 77.16 L676.07 77.5 L676.57 77.85 L677.07 78.21 L677.57 78.56 L678.07 78.92 L678.57 79.28 L679.07 79.65 L679.57 80.02 L680.07 80.39 L680.57 80.76 L681.07 81.14 L681.57 81.52 L682.07 81.91 L682.57 82.3 L683.07 82.69 L683.57 83.08 L684.07 83.48 L684.57 83.88 L685.07 84.28 L685.57 84.69 L686.07 85.1 L686.57 85.52 L687.07 85.94 L687.57 86.36 L688.07 86.78 L688.57 87.21 L689.07 87.64 L689.57 88.08 L690.07 88.52 L690.57 88.96 L691.07 89.4 L691.57 89.85 L692.07 90.31 L692.57 90.76 L693.07 91.23 L693.57 91.69 L694.07 92.16 L694.57 92.63 L695.07 93.1 L695.57 93.58 L696.07 94.07 L696.57 94.55 L697.07 95.04 L697.57 95.54 L698.07 96.04 L698.57 96.54 L699.07 97.05 L699.57 97.56 L700.07 98.07 L700.57 98.59 L701.07 99.11 L701.57 99.64 L702.07 100.17 L702.57 100.7 L703.07 101.24 L703.57 101.79 L704.07 102.34 L704.57 102.89 L705.07 103.45 L705.57 104.01 L706.07 104.58 L706.57 105.15 L707.07 105.73 L707.57 106.32 L708.07 106.91 L708.57 107.5 L709.07 108.1 L709.57 108.71 L710.07 109.32 L710.57 109.94 L711.07 110.56 L711.57 111.19 L712.07 111.83 L712.57 112.47 L713.07 113.12 L713.57 113.77 L714.07 114.43 L714.57 115.1 L715.07 115.77 L715.57 116.46 L716.07 117.14 L716.57 117.84 L717.07 118.54 L717.57 119.25 L718.07 119.96 L718.57 120.68 L719.07 121.41 L719.57 122.15 L720.07 122.9 L720.57 123.65 L721.07 124.41 L721.57 125.18 L722.07 125.95 L722.57 126.74 L723.07 127.53 L723.57 128.33 L724.07 129.13 L724.57 129.95 L725.07 130.77 L725.57 131.61 L726.07 132.45 L726.57 133.3 L727.07 134.16 L727.57 135.02 L728.07 135.9 L728.57 136.79 L729.07 137.68 L729.57 138.58 L730.07 139.5 L730.57 140.42 L731.07 141.35 L731.57 142.29 L732.07 143.24 L732.57 144.2 L733.07 145.17 L733.57 146.15 L734.07 147.14 L734.57 148.14 L735.07 149.14 L735.57 150.16 L736.07 151.2 L736.57 152.24 L737.07 153.3 L737.57 154.37 L738.07 155.46 L738.57 156.57 L739.07 157.7 L739.57 158.86 L740.07 160.03 L740.57 161.23 L741.07 162.46 L741.57 163.71 L742.07 164.99 L742.57 166.3 L743.07 167.64 L743.57 169.02 L744.07 170.43 L744.57 171.88 L745.07 173.36 L745.57 174.89 L746.07 176.45 L746.57 178.06 L747.07 179.71 L747.57 181.4 L748.07 183.14 L748.57 184.94 L749.07 186.83 L749.57 188.83 L750.07 190.94 L750.57 193.21 L751.07 195.64 L751.57 198.27 L752.07 201.1 L752.57 204.16 L753.07 207.48 L753.07 207.83 L753.58 208.12 L754.08 208.36 L754.58 208.47 L755.09 208.56 L755.59 208.65 L756.09 208.73 L756.6 208.8 L757.1 208.87 L757.6 208.93 L758.11 208.99 L758.61 209.05 L759.11 209.1 L759.62 209.14 L760.12 209.19 L760.62 209.23 L761.13 209.26 L761.63 209.3 L762.13 209.33 L762.64 209.36 L763.14 209.39 L763.64 209.42 L764.15 209.45 L764.65 209.47 L765.15 209.5 L765.66 209.53 L766.16 209.56 L766.66 209.59 L767.17 209.62 L767.67 209.64 L768.17 209.67 L768.68 209.69 L769.18 209.72 L769.68 209.75 L770.19 209.77 L770.69 209.79 L771.19 209.82 L771.7 209.84 L772.2 209.86 L772.7 209.89 L773.21 209.91 L773.71 209.93 L774.21 209.95 L774.72 209.97 L775.22 209.99 L775.72 210.01 L776.23 210.03 L776.73 210.05 L777.23 210.07 L777.74 210.08 L778.24 210.1 L778.74 210.12 L779.25 210.14 L779.75 210.15 L780.25 210.17 L780.76 210.18 L781.26 210.2 L781.76 210.21 L782.27 210.23 L782.77 210.24 L783.27 210.26 L783.78 210.27 L784.28 210.28 L784.78 210.3 L785.29 210.31 L785.79 210.32 L786.29 210.33 L786.8 210.34 L787.3 210.35 L787.8 210.37 L788.31 210.38 L788.81 210.39 L789.31 210.4 L789.82 210.41 L790.32 210.42 L790.82 210.43 L791.33 210.44 L791.83 210.45 L792.33 210.46 L792.84 210.47 L793.34 210.48 L793.84 210.49 L794.35 210.5 L794.85 210.5 L795.35 210.51 L795.86 210.52 L796.36 210.53 L796.86 210.54 L797.37 210.55 L797.87 210.56 L798.37 210.56 L798.88 210.57 L799.38 210.58 L799.88 210.59 L800.39 210.59 L800.89 210.6 L801.39 210.61 L801.9 210.61 L802.4 210.62 L802.9 210.62 L803.41 210.63 L803.91 210.63 L804.41 210.64 L804.92 210.64 L805.42 210.65 L805.92 210.65 L806.43 210.65 L806.93 210.65 L807.43 210.66" fill="none" stroke="#0000ff" stroke-width="1.15" stroke-linejoin="round" />
</g>
<text transform="translate(734 127) scale(1.2 1)" font-family='"Liberation Serif", serif' font-size="14.4" fill="#0000ff" stroke="#0000ff" stroke-width="0.42" font-style="italic" >e</text>
<text transform="translate(646.6 163.2) scale(1.2 1)" font-family='"Liberation Serif", serif' font-size="14.4" fill="#ff0000" stroke="#ff0000" stroke-width="0.42" font-style="italic" >a</text>
<path d="M631.73 211.8 v-9 M631.73 32.2 v9 M690.25 211.8 v-9 M690.25 32.2 v9 M748.77 211.8 v-9 M748.77 32.2 v9" stroke="#000" stroke-width="1.8" fill="none"/>
<rect x="573.2" y="32.2" width="234.1" height="179.6" fill="none" stroke="#000" stroke-width="2"/>
<path d="M100.7 235.5 V415 M158.8 235.5 V415 M216.9 235.5 V415 M42.6 411 H275 M42.6 385.93 H275 M42.6 360.86 H275 M42.6 335.79 H275 M42.6 310.71 H275 M42.6 285.64 H275 M42.6 260.57 H275" stroke="#000" stroke-opacity="0.62" stroke-width="1" stroke-dasharray="1.35 3.08" fill="none"/>
<path d="M42.6 411 h9 M275 411 h-9 M42.6 385.93 h9 M275 385.93 h-9 M42.6 360.86 h9 M275 360.86 h-9 M42.6 335.79 h9 M275 335.79 h-9 M42.6 310.71 h9 M275 310.71 h-9 M42.6 285.64 h9 M275 285.64 h-9 M42.6 260.57 h9 M275 260.57 h-9" stroke="#000" stroke-width="1.8" fill="none"/>
<g clip-path="url(#cp01)">
<path d="M42.85 259.84 L43.35 260.8 L43.85 261.78 L44.35 262.76 L44.85 263.76 L45.35 264.77 L45.85 265.79 L46.35 266.82 L46.85 267.86 L47.35 268.91 L47.85 269.97 L48.35 271.04 L48.85 272.11 L49.35 273.2 L49.85 274.29 L50.35 275.39 L50.85 276.5 L51.35 277.61 L51.85 278.73 L52.35 279.86 L52.85 280.99 L53.35 282.13 L53.85 283.27 L54.35 284.41 L54.85 285.56 L55.35 286.71 L55.85 287.87 L56.35 289.03 L56.85 290.19 L57.35 291.35 L57.85 292.52 L58.35 293.69 L58.85 294.85 L59.35 296.02 L59.85 297.19 L60.35 298.36 L60.85 299.52 L61.35 300.69 L61.85 301.86 L62.35 303.02 L62.85 304.18 L63.35 305.34 L63.85 306.49 L64.35 307.64 L64.85 308.79 L65.35 309.94 L65.85 311.08 L66.35 312.21 L66.86 313.34 L67.36 314.47 L67.86 315.59 L68.36 316.7 L68.86 317.81 L69.36 318.91 L69.86 320.01 L70.36 321.1 L70.86 322.18 L71.36 323.26 L71.86 324.33 L72.36 325.4 L72.86 326.45 L73.36 327.51 L73.86 328.55 L74.36 329.59 L74.86 330.62 L75.36 331.64 L75.86 332.66 L76.36 333.67 L76.86 334.67 L77.36 335.66 L77.86 336.65 L78.36 337.62 L78.86 338.59 L79.36 339.56 L79.86 340.51 L80.36 341.45 L80.86 342.39 L81.36 343.31 L81.86 344.23 L82.36 345.14 L82.86 346.04 L83.36 346.93 L83.86 347.81 L84.36 348.68 L84.86 349.54 L85.36 350.39 L85.86 351.24 L86.36 352.07 L86.86 352.89 L87.36 353.7 L87.86 354.5 L88.36 355.29 L88.86 356.07 L89.36 356.84 L89.86 357.6 L90.36 358.34 L90.86 359.08 L91.36 359.81 L91.86 360.52 L92.37 361.23 L92.87 361.92 L93.37 362.61 L93.87 363.28 L94.37 363.95 L94.87 364.6 L95.37 365.25 L95.87 365.89 L96.37 366.52 L96.87 367.14 L97.37 367.75 L97.87 368.35 L98.37 368.94 L98.87 369.53 L99.37 370.1 L99.87 370.67 L100.37 371.23 L100.87 371.79 L101.37 372.33 L101.87 372.87 L102.37 373.4 L102.87 373.92 L103.37 374.44 L103.87 374.95 L104.37 375.45 L104.87 375.95 L105.37 376.43 L105.87 376.92 L106.37 377.39 L106.87 377.86 L107.37 378.33 L107.87 378.78 L108.37 379.24 L108.87 379.68 L109.37 380.12 L109.87 380.56 L110.37 380.99 L110.87 381.42 L111.37 381.84 L111.87 382.26 L112.37 382.67 L112.87 383.07 L113.37 383.48 L113.87 383.88 L114.37 384.27 L114.87 384.66 L115.37 385.05 L115.87 385.43 L116.37 385.81 L116.87 386.18 L117.37 386.55 L117.87 386.91 L118.38 387.27 L118.88 387.63 L119.38 387.98 L119.88 388.33 L120.38 388.68 L120.88 389.02 L121.38 389.35 L121.88 389.69 L122.38 390.02 L122.88 390.34 L123.38 390.66 L123.88 390.98 L124.38 391.29 L124.88 391.6 L125.38 391.91 L125.88 392.21 L126.38 392.51 L126.88 392.8 L127.38 393.1 L127.88 393.38 L128.38 393.67 L128.88 393.95 L129.38 394.23 L129.88 394.5 L130.38 394.77 L130.88 395.03 L131.38 395.3 L131.88 395.56 L132.38 395.81 L132.88 396.07 L133.38 396.32 L133.88 396.56 L134.38 396.81 L134.88 397.04 L135.38 397.28 L135.88 397.51 L136.38 397.74 L136.88 397.97 L137.38 398.19 L137.88 398.42 L138.38 398.63 L138.88 398.85 L139.38 399.06 L139.88 399.27 L140.38 399.47 L140.88 399.67 L141.38 399.87 L141.88 400.07 L142.38 400.26 L142.88 400.45 L143.38 400.64 L143.89 400.83 L144.39 401.01 L144.89 401.19 L145.39 401.37 L145.89 401.54 L146.39 401.71 L146.89 401.88 L147.39 402.05 L147.89 402.21 L148.39 402.37 L148.89 402.53 L149.39 402.69 L149.89 402.84 L150.39 402.99 L150.89 403.14 L151.39 403.28 L151.89 403.43 L152.39 403.57 L152.89 403.71 L153.39 403.84 L153.89 403.98 L154.39 404.11 L154.89 404.24 L155.39 404.37 L155.89 404.49 L156.39 404.61 L156.89 404.73 L157.39 404.85 L157.89 404.97 L158.39 405.08 L158.89 405.2 L159.39 405.31 L159.89 405.42 L160.39 405.52 L160.89 405.63 L161.39 405.73 L161.89 405.83 L162.39 405.93 L162.89 406.03 L163.39 406.12 L163.89 406.21 L164.39 406.31 L164.89 406.4 L165.39 406.48 L165.89 406.57 L166.39 406.65 L166.89 406.74 L167.39 406.82 L167.89 406.9 L168.39 406.98 L168.89 407.05 L169.39 407.13 L169.9 407.2 L170.4 407.27 L170.9 407.35 L171.4 407.41 L171.9 407.48 L172.4 407.55 L172.9 407.61 L173.4 407.68 L173.9 407.74 L174.4 407.8 L174.9 407.86 L175.4 407.92 L175.9 407.98 L176.4 408.04 L176.9 408.09 L177.4 408.15 L177.9 408.2 L178.4 408.25 L178.9 408.3 L179.4 408.35 L179.9 408.4 L180.4 408.45 L180.9 408.5 L181.4 408.54 L181.9 408.59 L182.4 408.63 L182.9 408.68 L183.4 408.72 L183.9 408.76 L184.4 408.81 L184.9 408.85 L185.4 408.89 L185.9 408.93 L186.4 408.96 L186.9 409 L187.4 409.04 L187.9 409.08 L188.4 409.11 L188.9 409.15 L189.4 409.18 L189.9 409.22 L190.4 409.25 L190.9 409.29 L191.4 409.32 L191.9 409.35 L192.4 409.39 L192.9 409.42 L193.4 409.45 L193.9 409.48 L194.4 409.52 L194.9 409.55 L195.41 409.58 L195.91 409.61 L196.41 409.64 L196.91 409.67 L197.41 409.7 L197.91 409.73 L198.41 409.76 L198.91 409.79 L199.41 409.82 L199.91 409.85 L200.41 409.88 L200.91 409.91 L201.41 409.93 L201.91 409.96 L202.41 409.99 L202.91 410.02 L203.41 410.05 L203.91 410.07 L204.41 410.1 L204.91 410.13 L205.41 410.15 L205.91 410.18 L206.41 410.2 L206.91 410.23 L207.41 410.26 L207.91 410.28 L208.41 410.31 L208.91 410.33 L209.41 410.36 L209.91 410.38 L210.41 410.4 L210.91 410.43 L211.41 410.45 L211.91 410.47 L212.41 410.5 L212.91 410.52 L213.41 410.54 L213.91 410.56 L214.41 410.59 L214.91 410.61 L215.41 410.63 L215.91 410.65 L216.41 410.67 L216.91 410.69 L217.41 410.71 L217.91 410.73 L218.41 410.75 L218.91 410.77 L219.41 410.79 L219.91 410.81 L220.41 410.83 L220.91 410.85 L221.42 410.86 L221.92 410.88 L222.42 410.9 L222.92 410.92 L223.42 410.93 L223.92 410.95 L224.42 410.97 L224.92 410.98 L225.42 411 L225.92 411.02 L226.42 411.03 L226.92 411.05 L227.42 411.06 L227.92 411.08 L228.42 411.09 L228.92 411.11 L229.42 411.12 L229.92 411.13 L230.42 411.15 L230.92 411.16 L231.42 411.17 L231.92 411.19 L232.42 411.2 L232.92 411.21 L233.42 411.22 L233.92 411.23 L234.42 411.24 L234.92 411.26 L235.42 411.27 L235.92 411.28 L236.42 411.29 L236.92 411.3 L237.42 411.31 L237.92 411.32 L238.42 411.33 L238.92 411.33 L239.42 411.34 L239.92 411.35 L240.42 411.36 L240.92 411.37 L241.42 411.37 L241.92 411.38 L242.42 411.39 L242.92 411.39 L243.42 411.4 L243.92 411.41 L244.42 411.41 L244.92 411.42 L245.42 411.42 L245.92 411.43 L246.42 411.43 L246.93 411.44 L247.43 411.44 L247.93 411.45 L248.43 411.45 L248.93 411.45 L249.43 411.45 L249.93 411.46 L250.43 411.46 L250.93 411.46 L251.43 411.46 L251.93 411.47 L252.43 411.47 L252.93 411.47 L253.43 411.47 L253.93 411.47 L254.43 411.47 L254.93 411.47 L255.43 411.47 L255.93 411.47 L256.43 411.47 L256.93 411.46 L257.43 411.46 L257.93 411.46 L258.43 411.46 L258.93 411.46 L259.43 411.45 L259.93 411.45 L260.43 411.45 L260.93 411.44 L261.43 411.44 L261.93 411.43 L262.43 411.43 L262.93 411.42 L263.43 411.42 L263.93 411.41 L264.43 411.41 L264.93 411.4 L265.43 411.4 L265.93 411.39 L266.43 411.38 L266.93 411.37 L267.43 411.37 L267.93 411.36 L268.43 411.35 L268.93 411.34 L269.43 411.33 L269.93 411.32 L270.43 411.31 L270.93 411.31 L271.43 411.3 L271.93 411.28 L272.43 411.27 L272.94 411.26 L273.44 411.25 L273.94 411.24 L274.44 411.23 L274.94 411.22 L275.44 411.2" fill="none" stroke="#00ff00" stroke-width="1.15" stroke-linejoin="round" />
<path d="M42.85 259.84 L43.35 260.8 L43.85 261.78 L44.35 262.76 L44.85 263.76 L45.35 264.77 L45.85 265.79 L46.35 266.82 L46.85 267.86 L47.35 268.91 L47.85 269.97 L48.35 271.04 L48.85 272.11 L49.35 273.2 L49.85 274.29 L50.35 275.39 L50.85 276.5 L51.35 277.61 L51.85 278.73 L52.35 279.86 L52.85 280.99 L53.35 282.13 L53.85 283.27 L54.35 284.41 L54.85 285.56 L55.35 286.71 L55.85 287.87 L56.35 289.03 L56.85 290.19 L57.35 291.35 L57.85 292.52 L58.35 293.69 L58.85 294.85 L59.35 296.02 L59.85 297.19 L60.35 298.36 L60.85 299.52 L61.35 300.69 L61.85 301.86 L62.35 303.02 L62.85 304.18 L63.35 305.34 L63.85 306.49 L64.35 307.64 L64.85 308.79 L65.35 309.94 L65.85 311.08 L66.35 312.21 L66.86 313.34 L67.36 314.47 L67.86 315.59 L68.36 316.7 L68.86 317.81 L69.36 318.91 L69.86 320.01 L70.36 321.1 L70.86 322.18 L71.36 323.26 L71.86 324.33 L72.36 325.4 L72.86 326.45 L73.36 327.51 L73.86 328.55 L74.36 329.59 L74.86 330.62 L75.36 331.64 L75.86 332.66 L76.36 333.67 L76.86 334.67 L77.36 335.66 L77.86 336.65 L78.36 337.62 L78.86 338.59 L79.36 339.56 L79.86 340.51 L80.36 341.45 L80.86 342.39 L81.36 343.31 L81.86 344.23 L82.36 345.14 L82.86 346.04 L83.36 346.93 L83.86 347.81 L84.36 348.68 L84.86 349.54 L85.36 350.39 L85.86 351.24 L86.36 352.07 L86.86 352.89 L87.36 353.7 L87.86 354.5 L88.36 355.29 L88.86 356.07 L89.36 356.84 L89.86 357.6 L90.36 358.34 L90.86 359.08 L91.36 359.81 L91.86 360.52 L92.37 361.23 L92.87 361.92 L93.37 362.61 L93.87 363.28 L94.37 363.95 L94.87 364.6 L95.37 365.25 L95.87 365.89 L96.37 366.52 L96.87 367.14 L97.37 367.75 L97.87 368.35 L98.37 368.94 L98.87 369.53 L99.37 370.1 L99.87 370.67 L100.37 371.23 L100.87 371.79 L101.37 372.33 L101.87 372.87 L102.37 373.4 L102.87 373.92 L103.37 374.44 L103.87 374.95 L104.37 375.45 L104.87 375.95 L105.37 376.43 L105.87 376.92 L106.37 377.39 L106.87 377.86 L107.37 378.33 L107.87 378.78 L108.37 379.24 L108.87 379.68 L109.37 380.12 L109.87 380.56 L110.37 380.99 L110.87 381.42 L111.37 381.84 L111.87 382.26 L112.37 382.67 L112.87 383.07 L113.37 383.48 L113.87 383.88 L114.37 384.27 L114.87 384.66 L115.37 385.05 L115.87 385.43 L116.37 385.81 L116.87 386.18 L117.37 386.55 L117.87 386.91 L118.38 387.27 L118.88 387.63 L119.38 387.98 L119.88 388.33 L120.38 388.68 L120.88 389.02 L121.38 389.35 L121.88 389.69 L122.38 390.02 L122.88 390.34 L123.38 390.66 L123.88 390.98 L124.38 391.29 L124.88 391.6 L125.38 391.91 L125.88 392.21 L126.38 392.51 L126.88 392.8 L127.38 393.1 L127.88 393.38 L128.38 393.67 L128.88 393.95 L129.38 394.23 L129.88 394.5 L130.38 394.77 L130.88 395.03 L131.38 395.3 L131.88 395.56 L132.38 395.81 L132.88 396.07 L133.38 396.32 L133.88 396.56 L134.38 396.81 L134.88 397.04 L135.38 397.28 L135.88 397.51 L136.38 397.74 L136.88 397.97 L137.38 398.19 L137.88 398.42 L138.38 398.63 L138.88 398.85 L139.38 399.06 L139.88 399.27 L140.38 399.47 L140.88 399.67 L141.38 399.87 L141.88 400.07 L142.38 400.26 L142.88 400.45 L143.38 400.64 L143.89 400.83 L144.39 401.01 L144.89 401.19 L145.39 401.37 L145.89 401.54 L146.39 401.71 L146.89 401.88 L147.39 402.05 L147.89 402.21 L148.39 402.37 L148.89 402.53 L149.39 402.69 L149.89 402.84 L150.39 402.99 L150.89 403.14 L151.39 403.28 L151.89 403.43 L152.39 403.57 L152.89 403.71 L153.39 403.84 L153.89 403.98 L154.39 404.11 L154.89 404.24 L155.39 404.37 L155.89 404.49 L156.39 404.61 L156.89 404.73 L157.39 404.85 L157.89 404.97 L158.39 405.08 L158.89 405.2 L159.39 405.31 L159.89 405.42 L160.39 405.52 L160.89 405.63 L161.39 405.73 L161.89 405.83 L162.39 405.93 L162.89 406.03 L163.39 406.12 L163.89 406.21 L164.39 406.31 L164.89 406.4 L165.39 406.48 L165.89 406.57 L166.39 406.65 L166.89 406.74 L167.39 406.82 L167.89 406.9 L168.39 406.98 L168.89 407.05 L169.39 407.13 L169.9 407.2 L170.4 407.27 L170.9 407.35 L171.4 407.41 L171.9 407.48 L172.4 407.55 L172.9 407.61 L173.4 407.68 L173.9 407.74 L174.4 407.8 L174.9 407.86 L175.4 407.92 L175.9 407.98 L176.4 408.04 L176.9 408.09 L177.4 408.15 L177.9 408.2 L178.4 408.25 L178.9 408.3 L179.4 408.35 L179.9 408.4 L180.4 408.45 L180.9 408.5 L181.4 408.54 L181.9 408.59 L182.4 408.63 L182.9 408.68 L183.4 408.72 L183.9 408.76 L184.4 408.81 L184.9 408.85 L185.4 408.89 L185.9 408.93 L186.4 408.96 L186.9 409 L187.4 409.04 L187.9 409.08 L188.4 409.11 L188.9 409.15 L189.4 409.18 L189.9 409.22 L190.4 409.25 L190.9 409.29 L191.4 409.32 L191.9 409.35 L192.4 409.39 L192.9 409.42 L193.4 409.45 L193.9 409.48 L194.4 409.52 L194.9 409.55 L195.41 409.58 L195.91 409.61 L196.41 409.64 L196.91 409.67 L197.41 409.7 L197.91 409.73 L198.41 409.76 L198.91 409.79 L199.41 409.82 L199.91 409.85 L200.41 409.88 L200.91 409.91 L201.41 409.93 L201.91 409.96 L202.41 409.99 L202.91 410.02 L203.41 410.05 L203.91 410.07 L204.41 410.1 L204.91 410.13 L205.41 410.15 L205.91 410.18 L206.41 410.2 L206.91 410.23 L207.41 410.26 L207.91 410.28 L208.41 410.31 L208.91 410.33 L209.41 410.36 L209.91 410.38 L210.41 410.4 L210.91 410.43 L211.41 410.45 L211.91 410.47 L212.41 410.5 L212.91 410.52 L213.41 410.54 L213.91 410.56 L214.41 410.59 L214.91 410.61 L215.41 410.63 L215.91 410.65 L216.41 410.67 L216.91 410.69 L217.41 410.71 L217.91 410.73 L218.41 410.75 L218.91 410.77 L219.41 410.79 L219.91 410.81 L220.41 410.83 L220.91 410.85 L221.42 410.86 L221.92 410.88 L222.42 410.9 L222.92 410.92 L223.42 410.93 L223.92 410.95 L224.42 410.97 L224.92 410.98 L225.42 411 L225.92 411.02 L226.42 411.03 L226.92 411.05 L227.42 411.06 L227.92 411.08 L228.42 411.09 L228.92 411.11 L229.42 411.12 L229.92 411.13 L230.42 411.15 L230.92 411.16 L231.42 411.17 L231.92 411.19 L232.42 411.2 L232.92 411.21 L233.42 411.22 L233.92 411.23 L234.42 411.24 L234.92 411.26 L235.42 411.27 L235.92 411.28 L236.42 411.29 L236.92 411.3 L237.42 411.31 L237.92 411.32 L238.42 411.33 L238.92 411.33 L239.42 411.34 L239.92 411.35 L240.42 411.36 L240.92 411.37 L241.42 411.37 L241.92 411.38 L242.42 411.39 L242.92 411.39 L243.42 411.4 L243.92 411.41 L244.42 411.41 L244.92 411.42 L245.42 411.42 L245.92 411.43 L246.42 411.43 L246.93 411.44 L247.43 411.44 L247.93 411.45 L248.43 411.45 L248.93 411.45 L249.43 411.45 L249.93 411.46 L250.43 411.46 L250.93 411.46 L251.43 411.46 L251.93 411.47 L252.43 411.47 L252.93 411.47 L253.43 411.47 L253.93 411.47 L254.43 411.47 L254.93 411.47 L255.43 411.47 L255.93 411.47 L256.43 411.47 L256.93 411.46 L257.43 411.46 L257.93 411.46 L258.43 411.46 L258.93 411.46 L259.43 411.45 L259.93 411.45 L260.43 411.45 L260.93 411.44 L261.43 411.44 L261.93 411.43 L262.43 411.43 L262.93 411.42 L263.43 411.42 L263.93 411.41 L264.43 411.41 L264.93 411.4 L265.43 411.4 L265.93 411.39 L266.43 411.38 L266.93 411.37 L267.43 411.37 L267.93 411.36 L268.43 411.35 L268.93 411.34 L269.43 411.33 L269.93 411.32 L270.43 411.31 L270.93 411.31 L271.43 411.3 L271.93 411.28 L272.43 411.27 L272.94 411.26 L273.44 411.25 L273.94 411.24 L274.44 411.23 L274.94 411.22 L275.44 411.2" fill="none" stroke="#0000ff" stroke-width="1.15" stroke-linejoin="round" />
</g>
<text transform="translate(111.8 352.8) scale(1.08 1)" font-family='"Liberation Serif", serif' font-size="13.6" fill="#00ff00" stroke="#00ff00" stroke-width="0.42" >&#937;</text>
<text transform="translate(124 357.4) scale(1.2 1)" font-family='"Liberation Serif", serif' font-size="11.2" fill="#00ff00" stroke="#00ff00" stroke-width="0.42" font-style="italic" >e</text>
<path d="M130.1 355.4L134.8 342.5" stroke="#00ff00" stroke-width="1.25" stroke-linecap="round" fill="none"/>
<text transform="translate(134.4 352.8) scale(1.22 1)" font-family='"Liberation Serif", serif' font-size="14.6" fill="#00ff00" stroke="#00ff00" stroke-width="0.42" font-style="italic" >n</text>
<text transform="translate(59.4 378.6) scale(1.08 1)" font-family='"Liberation Serif", serif' font-size="13.6" fill="#0000ff" stroke="#0000ff" stroke-width="0.42" >&#937;</text>
<path d="M71.8 381.2L76.5 368.3" stroke="#0000ff" stroke-width="1.25" stroke-linecap="round" fill="none"/>
<text transform="translate(76.1 378.6) scale(1.22 1)" font-family='"Liberation Serif", serif' font-size="14.6" fill="#0000ff" stroke="#0000ff" stroke-width="0.42" font-style="italic" >n</text>
<path d="M100.7 415 v-9 M100.7 235.5 v9 M158.8 415 v-9 M158.8 235.5 v9 M216.9 415 v-9 M216.9 235.5 v9" stroke="#000" stroke-width="1.8" fill="none"/>
<rect x="42.6" y="235.5" width="232.4" height="179.5" fill="none" stroke="#000" stroke-width="2"/>
<path d="M365.85 235.5 V415 M424.5 235.5 V415 M483.15 235.5 V415 M307.2 411 H541.8 M307.2 385.93 H541.8 M307.2 360.86 H541.8 M307.2 335.79 H541.8 M307.2 310.71 H541.8 M307.2 285.64 H541.8 M307.2 260.57 H541.8" stroke="#000" stroke-opacity="0.62" stroke-width="1" stroke-dasharray="1.35 3.08" fill="none"/>
<path d="M307.2 411 h9 M541.8 411 h-9 M307.2 385.93 h9 M541.8 385.93 h-9 M307.2 360.86 h9 M541.8 360.86 h-9 M307.2 335.79 h9 M541.8 335.79 h-9 M307.2 310.71 h9 M541.8 310.71 h-9 M307.2 285.64 h9 M541.8 285.64 h-9 M307.2 260.57 h9 M541.8 260.57 h-9" stroke="#000" stroke-width="1.8" fill="none"/>
<g clip-path="url(#cp11)">
<path d="M307.6 258.37 L308.1 258.68 L308.6 258.99 L309.1 259.3 L309.6 259.61 L310.1 259.93 L310.6 260.24 L311.1 260.56 L311.6 260.88 L312.1 261.2 L312.6 261.52 L313.1 261.84 L313.61 262.17 L314.11 262.5 L314.61 262.82 L315.11 263.15 L315.61 263.49 L316.11 263.82 L316.61 264.15 L317.11 264.49 L317.61 264.82 L318.11 265.16 L318.61 265.5 L319.11 265.84 L319.61 266.19 L320.11 266.53 L320.61 266.88 L321.11 267.22 L321.61 267.57 L322.11 267.92 L322.61 268.27 L323.11 268.62 L323.61 268.98 L324.11 269.33 L324.61 269.69 L325.11 270.04 L325.62 270.4 L326.12 270.76 L326.62 271.12 L327.12 271.48 L327.62 271.85 L328.12 272.21 L328.62 272.58 L329.12 272.94 L329.62 273.31 L330.12 273.68 L330.62 274.05 L331.12 274.42 L331.62 274.79 L332.12 275.17 L332.62 275.54 L333.12 275.92 L333.62 276.29 L334.12 276.67 L334.62 277.05 L335.12 277.43 L335.62 277.81 L336.12 278.19 L336.62 278.57 L337.13 278.96 L337.63 279.34 L338.13 279.72 L338.63 280.11 L339.13 280.5 L339.63 280.89 L340.13 281.27 L340.63 281.66 L341.13 282.05 L341.63 282.44 L342.13 282.84 L342.63 283.23 L343.13 283.62 L343.63 284.02 L344.13 284.41 L344.63 284.81 L345.13 285.2 L345.63 285.6 L346.13 286 L346.63 286.4 L347.13 286.8 L347.63 287.2 L348.13 287.6 L348.64 288 L349.14 288.41 L349.64 288.81 L350.14 289.22 L350.64 289.62 L351.14 290.03 L351.64 290.44 L352.14 290.85 L352.64 291.26 L353.14 291.67 L353.64 292.08 L354.14 292.49 L354.64 292.9 L355.14 293.32 L355.64 293.73 L356.14 294.15 L356.64 294.56 L357.14 294.98 L357.64 295.4 L358.14 295.82 L358.64 296.24 L359.14 296.66 L359.64 297.08 L360.14 297.5 L360.65 297.93 L361.15 298.35 L361.65 298.78 L362.15 299.21 L362.65 299.63 L363.15 300.06 L363.65 300.49 L364.15 300.92 L364.65 301.35 L365.15 301.79 L365.65 302.22 L366.15 302.66 L366.65 303.09 L367.15 303.53 L367.65 303.97 L368.15 304.41 L368.65 304.85 L369.15 305.29 L369.65 305.73 L370.15 306.17 L370.65 306.62 L371.15 307.06 L371.65 307.51 L372.16 307.95 L372.66 308.4 L373.16 308.85 L373.66 309.3 L374.16 309.75 L374.66 310.21 L375.16 310.66 L375.66 311.11 L376.16 311.57 L376.66 312.03 L377.16 312.49 L377.66 312.94 L378.16 313.4 L378.66 313.87 L379.16 314.33 L379.66 314.79 L380.16 315.26 L380.66 315.72 L381.16 316.19 L381.66 316.66 L382.16 317.13 L382.66 317.6 L383.16 318.07 L383.66 318.54 L384.17 319.01 L384.67 319.49 L385.17 319.96 L385.67 320.44 L386.17 320.91 L386.67 321.39 L387.17 321.87 L387.67 322.35 L388.17 322.83 L388.67 323.31 L389.17 323.79 L389.67 324.27 L390.17 324.75 L390.67 325.24 L391.17 325.72 L391.67 326.21 L392.17 326.69 L392.67 327.18 L393.17 327.67 L393.67 328.16 L394.17 328.65 L394.67 329.13 L395.17 329.62 L395.68 330.12 L396.18 330.61 L396.68 331.1 L397.18 331.59 L397.68 332.09 L398.18 332.58 L398.68 333.07 L399.18 333.57 L399.68 334.06 L400.18 334.56 L400.68 335.06 L401.18 335.55 L401.68 336.05 L402.18 336.55 L402.68 337.05 L403.18 337.55 L403.68 338.04 L404.18 338.54 L404.68 339.04 L405.18 339.54 L405.68 340.04 L406.18 340.55 L406.68 341.05 L407.19 341.55 L407.69 342.05 L408.19 342.55 L408.69 343.06 L409.19 343.56 L409.69 344.06 L410.19 344.56 L410.69 345.07 L411.19 345.57 L411.69 346.07 L412.19 346.58 L412.69 347.08 L413.19 347.59 L413.69 348.09 L414.19 348.6 L414.69 349.1 L415.19 349.6 L415.69 350.11 L416.19 350.61 L416.69 351.12 L417.19 351.62 L417.69 352.13 L418.19 352.63 L418.69 353.13 L419.2 353.64 L419.7 354.14 L420.2 354.65 L420.7 355.15 L421.2 355.65 L421.7 356.15 L422.2 356.65 L422.7 357.16 L423.2 357.66 L423.7 358.16 L424.2 358.66 L424.7 359.16 L425.2 359.65 L425.7 360.15 L426.2 360.65 L426.7 361.15 L427.2 361.64 L427.7 362.14 L428.2 362.63 L428.7 363.13 L429.2 363.62 L429.7 364.11 L430.2 364.6 L430.71 365.09 L431.21 365.58 L431.71 366.07 L432.21 366.56 L432.71 367.04 L433.21 367.53 L433.71 368.01 L434.21 368.49 L434.71 368.98 L435.21 369.46 L435.71 369.93 L436.21 370.41 L436.71 370.89 L437.21 371.36 L437.71 371.84 L438.21 372.31 L438.71 372.78 L439.21 373.25 L439.71 373.72 L440.21 374.19 L440.71 374.66 L441.21 375.13 L441.71 375.59 L442.21 376.06 L442.72 376.53 L443.22 376.99 L443.72 377.45 L444.22 377.92 L444.72 378.38 L445.22 378.85 L445.72 379.31 L446.22 379.77 L446.72 380.24 L447.22 380.7 L447.72 381.16 L448.22 381.63 L448.72 382.09 L449.22 382.55 L449.72 383.02 L450.22 383.48 L450.72 383.95 L451.22 384.41 L451.72 384.88 L452.22 385.35 L452.72 385.81 L453.22 386.28 L453.72 386.75 L454.23 387.22 L454.73 387.69 L455.23 388.16 L455.73 388.64 L456.23 389.11 L456.73 389.59 L457.23 390.06 L457.73 390.54 L458.23 391.01 L458.73 391.49 L459.23 391.96 L459.73 392.43 L460.23 392.9 L460.73 393.37 L461.23 393.84 L461.73 394.31 L462.23 394.77 L462.73 395.23 L463.23 395.69 L463.73 396.15 L464.23 396.6 L464.73 397.05 L465.23 397.5 L465.74 397.94 L466.24 398.38 L466.74 398.81 L467.24 399.24 L467.74 399.66 L468.24 400.08 L468.74 400.49 L469.24 400.9 L469.74 401.3 L470.24 401.7 L470.74 402.09 L471.24 402.47 L471.74 402.84 L472.24 403.21 L472.74 403.57 L473.24 403.92 L473.74 404.27 L474.24 404.6 L474.74 404.93 L475.24 405.25 L475.74 405.56 L476.24 405.87 L476.74 406.16 L477.24 406.45 L477.75 406.72 L478.25 406.99 L478.75 407.25 L479.25 407.49 L479.75 407.73 L480.25 407.96 L480.75 408.17 L481.25 408.38 L481.75 408.57 L482.25 408.76 L482.75 408.93 L483.25 409.09 L483.75 409.24 L484.25 409.38 L484.75 409.51 L485.25 409.62 L485.75 409.72 L486.25 409.81 L486.75 409.89 L487.25 409.96 L487.75 410.01 L488.25 410.06 L488.75 410.1 L489.26 410.14 L489.76 410.17 L490.26 410.19 L490.76 410.21 L491.26 410.22 L491.76 410.23 L492.26 410.24 L492.76 410.24 L493.26 410.25 L493.76 410.26 L494.26 410.26 L494.76 410.27 L495.26 410.71 L495.76 410.73 L496.26 410.74 L496.76 410.76 L497.26 410.77 L497.76 410.79 L498.26 410.8 L498.76 410.81 L499.26 410.82 L499.76 410.83 L500.26 410.84 L500.76 410.85 L501.27 410.86 L501.77 410.87 L502.27 410.88 L502.77 410.89 L503.27 410.89 L503.77 410.9 L504.27 410.91 L504.77 410.91 L505.27 410.92 L505.77 410.92 L506.27 410.93 L506.77 410.93 L507.27 410.94 L507.77 410.94 L508.27 410.94 L508.77 410.95 L509.27 410.95 L509.77 410.95 L510.27 410.96 L510.77 410.96 L511.27 410.96 L511.77 410.96 L512.27 410.97 L512.78 410.97 L513.28 410.97 L513.78 410.97 L514.28 410.97 L514.78 410.97 L515.28 410.98 L515.78 410.98 L516.28 410.98 L516.78 410.98 L517.28 410.98 L517.78 410.98 L518.28 410.98 L518.78 410.98 L519.28 410.99 L519.78 410.99 L520.28 410.99 L520.78 410.99 L521.28 410.99 L521.78 410.99 L522.28 410.99 L522.78 410.99 L523.28 410.99 L523.78 410.99 L524.29 410.99 L524.79 410.99 L525.29 410.99 L525.79 410.99 L526.29 410.99 L526.79 410.99 L527.29 410.99 L527.79 411 L528.29 411 L528.79 411 L529.29 411 L529.79 411 L530.29 411 L530.79 411 L531.29 411 L531.79 411 L532.29 411 L532.79 411 L533.29 411 L533.79 411 L534.29 411 L534.79 411 L535.29 411 L535.79 411 L536.3 411 L536.8 411 L537.3 411 L537.8 411 L538.3 411 L538.8 411 L539.3 411 L539.8 411 L540.3 411 L540.8 411 L541.3 411 L541.8 411" fill="none" stroke="#00ff00" stroke-width="1.15" stroke-linejoin="round" />
<path d="M307.8 235.5 L307.8 263.14 L307.6 263.14 L308.1 263.47 L308.6 263.79 L309.11 264.12 L309.61 264.45 L310.11 264.78 L310.61 265.11 L311.11 265.45 L311.61 265.78 L312.12 266.12 L312.62 266.46 L313.12 266.8 L313.62 267.14 L314.12 267.48 L314.62 267.82 L315.13 268.17 L315.63 268.51 L316.13 268.86 L316.63 269.21 L317.13 269.56 L317.63 269.91 L318.14 270.26 L318.64 270.62 L319.14 270.97 L319.64 271.33 L320.14 271.69 L320.64 272.04 L321.15 272.4 L321.65 272.76 L322.15 273.13 L322.65 273.49 L323.15 273.85 L323.65 274.22 L324.16 274.58 L324.66 274.95 L325.16 275.32 L325.66 275.69 L326.16 276.06 L326.66 276.43 L327.17 276.8 L327.67 277.17 L328.17 277.54 L328.67 277.92 L329.17 278.29 L329.67 278.67 L330.18 279.05 L330.68 279.42 L331.18 279.8 L331.68 280.18 L332.18 280.56 L332.68 280.94 L333.19 281.32 L333.69 281.7 L334.19 282.08 L334.69 282.47 L335.19 282.85 L335.69 283.23 L336.2 283.62 L336.7 284 L337.2 284.39 L337.7 284.77 L338.2 285.16 L338.71 285.55 L339.21 285.94 L339.71 286.33 L340.21 286.72 L340.71 287.11 L341.21 287.5 L341.72 287.89 L342.22 288.28 L342.72 288.68 L343.22 289.07 L343.72 289.46 L344.22 289.86 L344.73 290.26 L345.23 290.65 L345.73 291.05 L346.23 291.45 L346.73 291.85 L347.23 292.25 L347.74 292.65 L348.24 293.05 L348.74 293.46 L349.24 293.86 L349.74 294.26 L350.24 294.67 L350.75 295.08 L351.25 295.48 L351.75 295.89 L352.25 296.3 L352.75 296.71 L353.25 297.12 L353.76 297.53 L354.26 297.94 L354.76 298.36 L355.26 298.77 L355.76 299.19 L356.26 299.6 L356.77 300.02 L357.27 300.44 L357.77 300.86 L358.27 301.28 L358.77 301.7 L359.27 302.12 L359.78 302.54 L360.28 302.97 L360.78 303.39 L361.28 303.82 L361.78 304.24 L362.28 304.67 L362.79 305.1 L363.29 305.53 L363.79 305.96 L364.29 306.39 L364.79 306.83 L365.29 307.26 L365.8 307.7 L366.3 308.13 L366.8 308.57 L367.3 309.01 L367.8 309.45 L368.31 309.88 L368.81 310.33 L369.31 310.77 L369.81 311.21 L370.31 311.65 L370.81 312.1 L371.32 312.54 L371.82 312.99 L372.32 313.43 L372.82 313.88 L373.32 314.33 L373.82 314.78 L374.33 315.23 L374.83 315.68 L375.33 316.13 L375.83 316.59 L376.33 317.04 L376.83 317.49 L377.34 317.95 L377.84 318.4 L378.34 318.86 L378.84 319.32 L379.34 319.78 L379.84 320.23 L380.35 320.69 L380.85 321.15 L381.35 321.62 L381.85 322.08 L382.35 322.54 L382.85 323 L383.36 323.47 L383.86 323.93 L384.36 324.4 L384.86 324.86 L385.36 325.33 L385.86 325.8 L386.37 326.26 L386.87 326.73 L387.37 327.2 L387.87 327.67 L388.37 328.14 L388.87 328.61 L389.38 329.08 L389.88 329.56 L390.38 330.03 L390.88 330.5 L391.38 330.98 L391.88 331.45 L392.39 331.93 L392.89 332.4 L393.39 332.88 L393.89 333.35 L394.39 333.83 L394.89 334.31 L395.4 334.79 L395.9 335.27 L396.4 335.75 L396.4 335.79 L398.6 335.79 L398.6 338.12 L400.8 338.12 L400.8 340.62 L403.5 340.62 L403.5 343.3 L406.1 343.3 L406.1 346.19 L409.1 346.19 L409.1 349.34 L412.5 349.34 L412.5 352.79 L416.7 352.79 L416.7 356.6 L421.2 356.6 L421.2 360.86 L426.5 360.86 L426.5 365.69 L432.5 365.69 L432.5 371.26 L439.4 371.26 L439.4 377.86 L448 377.86 L448 385.93 L458.5 385.93 L458.5 396.33 L472.1 396.33 L472.1 411 L541.8 411" fill="none" stroke="#0000ff" stroke-width="1.15" stroke-linejoin="round" stroke-linejoin="miter"/>
</g>
<text transform="translate(436.2 353) scale(1.08 1)" font-family='"Liberation Serif", serif' font-size="13.6" fill="#00ff00" stroke="#00ff00" stroke-width="0.42" >&#937;</text>
<text transform="translate(448.4 357.6) scale(1.2 1)" font-family='"Liberation Serif", serif' font-size="11.2" fill="#00ff00" stroke="#00ff00" stroke-width="0.42" font-style="italic" >e</text>
<path d="M454.5 355.6L459.2 342.7" stroke="#00ff00" stroke-width="1.25" stroke-linecap="round" fill="none"/>
<text transform="translate(458.8 353) scale(1.22 1)" font-family='"Liberation Serif", serif' font-size="14.6" fill="#00ff00" stroke="#00ff00" stroke-width="0.42" font-style="italic" >n</text>
<text transform="translate(388.9 378.6) scale(1.08 1)" font-family='"Liberation Serif", serif' font-size="13.6" fill="#0000ff" stroke="#0000ff" stroke-width="0.42" >&#937;</text>
<path d="M401.3 381.2L406 368.3" stroke="#0000ff" stroke-width="1.25" stroke-linecap="round" fill="none"/>
<text transform="translate(405.6 378.6) scale(1.22 1)" font-family='"Liberation Serif", serif' font-size="14.6" fill="#0000ff" stroke="#0000ff" stroke-width="0.42" font-style="italic" >n</text>
<path d="M365.85 415 v-9 M365.85 235.5 v9 M424.5 415 v-9 M424.5 235.5 v9 M483.15 415 v-9 M483.15 235.5 v9" stroke="#000" stroke-width="1.8" fill="none"/>
<rect x="307.2" y="235.5" width="234.6" height="179.5" fill="none" stroke="#000" stroke-width="2"/>
<path d="M631.73 235.5 V415 M690.25 235.5 V415 M748.77 235.5 V415 M573.2 411 H807.3 M573.2 385.93 H807.3 M573.2 360.86 H807.3 M573.2 335.79 H807.3 M573.2 310.71 H807.3 M573.2 285.64 H807.3 M573.2 260.57 H807.3" stroke="#000" stroke-opacity="0.62" stroke-width="1" stroke-dasharray="1.35 3.08" fill="none"/>
<path d="M573.2 411 h9 M807.3 411 h-9 M573.2 385.93 h9 M807.3 385.93 h-9 M573.2 360.86 h9 M807.3 360.86 h-9 M573.2 335.79 h9 M807.3 335.79 h-9 M573.2 310.71 h9 M807.3 310.71 h-9 M573.2 285.64 h9 M807.3 285.64 h-9 M573.2 260.57 h9 M807.3 260.57 h-9" stroke="#000" stroke-width="1.8" fill="none"/>
<g clip-path="url(#cp21)">
<path d="M573.57 259.07 L574.07 259.38 L574.57 259.68 L575.07 259.99 L575.57 260.3 L576.07 260.61 L576.57 260.92 L577.07 261.23 L577.57 261.55 L578.07 261.86 L578.57 262.17 L579.07 262.48 L579.57 262.79 L580.07 263.1 L580.57 263.42 L581.07 263.73 L581.57 264.04 L582.07 264.36 L582.57 264.67 L583.07 264.98 L583.57 265.3 L584.07 265.61 L584.57 265.93 L585.07 266.24 L585.57 266.56 L586.07 266.87 L586.57 267.19 L587.07 267.5 L587.57 267.82 L588.07 268.14 L588.57 268.45 L589.07 268.77 L589.57 269.09 L590.07 269.4 L590.57 269.72 L591.07 270.04 L591.57 270.36 L592.07 270.68 L592.57 270.99 L593.07 271.31 L593.57 271.63 L594.07 271.95 L594.57 272.27 L595.07 272.59 L595.57 272.91 L596.07 273.23 L596.57 273.55 L597.07 273.88 L597.57 274.2 L598.07 274.52 L598.57 274.84 L599.07 275.17 L599.57 275.49 L600.07 275.81 L600.57 276.14 L601.07 276.46 L601.57 276.79 L602.07 277.11 L602.57 277.43 L603.07 277.76 L603.57 278.08 L604.07 278.41 L604.57 278.73 L605.07 279.06 L605.57 279.38 L606.07 279.71 L606.57 280.03 L607.07 280.36 L607.57 280.68 L608.07 281.01 L608.57 281.34 L609.07 281.66 L609.57 281.99 L610.07 282.32 L610.57 282.65 L611.07 282.99 L611.57 283.32 L612.07 283.65 L612.57 283.99 L613.07 284.33 L613.57 284.66 L614.07 285 L614.57 285.34 L615.07 285.69 L615.57 286.03 L616.07 286.38 L616.57 286.72 L617.07 287.07 L617.57 287.42 L618.07 287.77 L618.57 288.13 L619.07 288.48 L619.57 288.83 L620.07 289.19 L620.57 289.55 L621.07 289.91 L621.57 290.27 L622.07 290.63 L622.57 290.99 L623.07 291.35 L623.57 291.71 L624.07 292.08 L624.57 292.44 L625.07 292.81 L625.57 293.17 L626.07 293.54 L626.57 293.91 L627.07 294.27 L627.57 294.64 L628.07 295.01 L628.57 295.38 L629.07 295.75 L629.57 296.13 L630.07 296.5 L630.57 296.87 L631.07 297.24 L631.57 297.61 L632.07 297.99 L632.57 298.36 L633.07 298.74 L633.57 299.11 L634.07 299.49 L634.57 299.86 L635.07 300.24 L635.57 300.62 L636.07 301 L636.57 301.37 L637.07 301.75 L637.57 302.14 L638.07 302.52 L638.57 302.9 L639.07 303.28 L639.57 303.67 L640.07 304.05 L640.57 304.44 L641.07 304.82 L641.57 305.21 L642.07 305.6 L642.57 305.99 L643.07 306.38 L643.57 306.77 L644.07 307.17 L644.57 307.56 L645.07 307.95 L645.57 308.35 L646.07 308.75 L646.57 309.14 L647.07 309.54 L647.57 309.94 L648.07 310.34 L648.57 310.75 L649.07 311.15 L649.57 311.55 L650.07 311.96 L650.57 312.37 L651.07 312.77 L651.57 313.18 L652.07 313.59 L652.57 314 L653.07 314.42 L653.57 314.83 L654.07 315.25 L654.57 315.67 L655.07 316.09 L655.57 316.51 L656.07 316.93 L656.57 317.35 L657.07 317.78 L657.57 318.21 L658.07 318.64 L658.57 319.07 L659.07 319.5 L659.57 319.94 L660.07 320.38 L660.57 320.82 L661.07 321.26 L661.57 321.7 L662.07 322.15 L662.57 322.59 L663.07 323.04 L663.57 323.49 L664.07 323.94 L664.57 324.4 L665.07 324.85 L665.57 325.3 L666.07 325.76 L666.57 326.22 L667.07 326.67 L667.57 327.13 L668.07 327.59 L668.57 328.04 L669.07 328.5 L669.57 328.96 L670.07 329.41 L670.57 329.87 L671.07 330.33 L671.57 330.78 L672.07 331.24 L672.57 331.7 L673.07 332.15 L673.57 332.61 L674.07 333.06 L674.57 333.51 L675.07 333.97 L675.57 334.42 L676.07 334.88 L676.57 335.33 L677.07 335.78 L677.57 336.24 L678.07 336.69 L678.57 337.15 L679.07 337.6 L679.57 338.06 L680.07 338.51 L680.57 338.97 L681.07 339.43 L681.57 339.89 L682.07 340.34 L682.57 340.8 L683.07 341.26 L683.57 341.73 L684.07 342.19 L684.57 342.65 L685.07 343.12 L685.57 343.58 L686.07 344.05 L686.57 344.52 L687.07 344.99 L687.57 345.46 L688.07 345.93 L688.57 346.41 L689.07 346.88 L689.57 347.36 L690.07 347.84 L690.57 348.32 L691.07 348.8 L691.57 349.29 L692.07 349.78 L692.57 350.28 L693.07 350.77 L693.57 351.27 L694.07 351.77 L694.57 352.27 L695.07 352.78 L695.57 353.28 L696.07 353.78 L696.57 354.29 L697.07 354.8 L697.57 355.3 L698.07 355.81 L698.57 356.31 L699.07 356.82 L699.57 357.32 L700.07 357.82 L700.57 358.32 L701.07 358.82 L701.57 359.32 L702.07 359.82 L702.57 360.32 L703.07 360.82 L703.57 361.31 L704.07 361.81 L704.57 362.31 L705.07 362.8 L705.57 363.3 L706.07 363.8 L706.57 364.29 L707.07 364.79 L707.57 365.29 L708.07 365.79 L708.57 366.28 L709.07 366.78 L709.57 367.28 L710.07 367.78 L710.57 368.28 L711.07 368.79 L711.57 369.29 L712.07 369.79 L712.57 370.3 L713.07 370.8 L713.57 371.31 L714.07 371.81 L714.57 372.32 L715.07 372.83 L715.57 373.35 L716.07 373.86 L716.57 374.37 L717.07 374.89 L717.57 375.4 L718.07 375.92 L718.57 376.43 L719.07 376.95 L719.57 377.47 L720.07 377.99 L720.57 378.51 L721.07 379.03 L721.57 379.55 L722.07 380.07 L722.57 380.59 L723.07 381.12 L723.57 381.64 L724.07 382.16 L724.57 382.69 L725.07 383.21 L725.57 383.73 L726.07 384.26 L726.57 384.78 L727.07 385.31 L727.57 385.83 L728.07 386.36 L728.57 386.88 L729.07 387.41 L729.57 387.94 L730.07 388.47 L730.57 389 L731.07 389.54 L731.57 390.07 L732.07 390.61 L732.57 391.15 L733.07 391.69 L733.57 392.23 L734.07 392.77 L734.57 393.31 L735.07 393.85 L735.57 394.39 L736.07 394.93 L736.57 395.47 L737.07 396.01 L737.57 396.54 L738.07 397.08 L738.57 397.61 L739.07 398.14 L739.57 398.66 L740.07 399.18 L740.57 399.7 L741.07 400.22 L741.57 400.73 L742.07 401.24 L742.57 401.74 L743.07 402.24 L743.57 402.74 L744.07 403.23 L744.57 403.72 L745.07 404.21 L745.57 404.69 L746.07 405.17 L746.57 405.65 L747.07 406.13 L747.57 406.61 L748.07 407.08 L748.57 407.55 L749.07 408.02 L749.57 408.48 L750.07 408.95 L750.57 409.41 L751.07 409.86 L751.57 410.32 L752.07 410.77 L752.57 411.23 L753.07 411.67" fill="none" stroke="#00ff00" stroke-width="1.15" stroke-linejoin="round" />
<path d="M573.57 234.43 L573.82 234.56 L574.07 234.68 L574.32 234.8 L574.57 234.93 L574.82 235.05 L575.07 235.17 L575.32 235.29 L575.57 235.42 L575.82 235.54 L576.07 235.67 L576.32 235.79 L576.57 235.91 L576.82 236.04 L577.07 236.16 L577.32 236.28 L577.57 236.41 L577.82 236.53 L578.07 236.66 L578.32 236.78 L578.57 236.91 L578.82 237.03 L579.07 237.15 L579.32 237.28 L579.57 237.4 L579.82 237.53 L580.07 237.65 L580.32 237.78 L580.57 237.9 L580.82 238.03 L581.08 238.16 L581.33 238.28 L581.58 238.41 L581.83 238.53 L582.08 238.66 L582.33 238.78 L582.58 238.91 L582.83 239.04 L583.08 239.16 L583.33 239.29 L583.58 239.41 L583.83 239.54 L584.08 239.67 L584.33 239.79 L584.58 239.92 L584.83 240.05 L585.08 240.17 L585.33 240.3 L585.58 240.43 L585.83 240.55 L586.08 240.68 L586.33 240.81 L586.58 240.94 L586.83 241.06 L587.08 241.19 L587.33 241.32 L587.58 241.45 L587.83 241.57 L588.08 241.7 L588.33 241.83 L588.58 241.96 L588.83 242.08 L589.08 242.21 L589.33 242.34 L589.59 242.46 L589.84 242.59 L590.09 242.72 L590.34 242.85 L590.59 242.97 L590.84 243.1 L591.09 243.23 L591.34 243.36 L591.59 243.48 L591.84 243.61 L592.09 243.74 L592.34 243.87 L592.59 244 L592.84 244.12 L593.09 244.25 L593.34 244.38 L593.59 244.51 L593.84 244.64 L594.09 244.77 L594.34 244.9 L594.59 245.03 L594.84 245.15 L595.09 245.28 L595.34 245.41 L595.59 245.54 L595.84 245.67 L596.09 245.8 L596.34 245.93 L596.59 246.07 L596.84 246.2 L597.09 246.33 L597.34 246.46 L597.59 246.59 L597.85 246.72 L598.1 246.86 L598.35 246.99 L598.6 247.12 L598.85 247.26 L599.1 247.39 L599.35 247.52 L599.6 247.66 L599.85 247.79 L600.1 247.93 L600.35 248.06 L600.6 248.2 L600.85 248.34 L601.1 248.47 L601.35 248.61 L601.6 248.75 L601.85 248.89 L602.1 249.02 L602.35 249.16 L602.6 249.3 L602.85 249.44 L603.1 249.58 L603.35 249.72 L603.6 249.86 L603.85 250 L604.1 250.14 L604.35 250.28 L604.6 250.42 L604.85 250.56 L605.1 250.7 L605.35 250.84 L605.6 250.98 L605.85 251.12 L606.1 251.27 L606.36 251.41 L606.61 251.55 L606.86 251.69 L607.11 251.84 L607.36 251.98 L607.61 252.13 L607.86 252.27 L608.11 252.41 L608.36 252.56 L608.61 252.7 L608.86 252.85 L609.11 253 L609.36 253.14 L609.61 253.29 L609.86 253.43 L610.11 253.58 L610.36 253.73 L610.61 253.88 L610.86 254.02 L611.11 254.17 L611.36 254.32 L611.61 254.47 L611.86 254.62 L612.11 254.77 L612.36 254.92 L612.61 255.07 L612.86 255.22 L613.11 255.37 L613.36 255.52 L613.61 255.67 L613.86 255.82 L614.11 255.97 L614.36 256.13 L614.61 256.28 L614.87 256.43 L615.12 256.58 L615.37 256.74 L615.62 256.89 L615.87 257.05 L616.12 257.2 L616.37 257.36 L616.62 257.51 L616.87 257.67 L617.12 257.82 L617.37 257.98 L617.62 258.14 L617.87 258.29 L618.12 258.45 L618.37 258.61 L618.62 258.77 L618.87 258.93 L619.12 259.09 L619.37 259.24 L619.62 259.4 L619.87 259.56 L620.12 259.73 L620.37 259.89 L620.62 260.05 L620.87 260.21 L621.12 260.37 L621.37 260.53 L621.62 260.69 L621.87 260.86 L622.12 261.02 L622.37 261.18 L622.62 261.35 L622.87 261.51 L623.13 261.68 L623.38 261.84 L623.63 262 L623.88 262.17 L624.13 262.33 L624.38 262.5 L624.63 262.67 L624.88 262.83 L625.13 263 L625.38 263.16 L625.63 263.33 L625.88 263.5 L626.13 263.66 L626.38 263.83 L626.63 264 L626.88 264.17 L627.13 264.33 L627.38 264.5 L627.63 264.67 L627.88 264.84 L628.13 265.01 L628.38 265.18 L628.63 265.35 L628.88 265.51 L629.13 265.68 L629.38 265.85 L629.63 266.02 L629.88 266.19 L630.13 266.36 L630.38 266.53 L630.63 266.7 L630.88 266.87 L631.13 267.04 L631.38 267.21 L631.64 267.39 L631.89 267.56 L632.14 267.73 L632.39 267.9 L632.64 268.07 L632.89 268.24 L633.14 268.41 L633.39 268.59 L633.64 268.76 L633.89 268.93 L634.14 269.1 L634.39 269.28 L634.64 269.45 L634.89 269.62 L635.14 269.8 L635.39 269.97 L635.64 270.14 L635.89 270.32 L636.14 270.49 L636.39 270.67 L636.64 270.84 L636.89 271.02 L637.14 271.2 L637.39 271.37 L637.64 271.55 L637.89 271.72 L638.14 271.9 L638.39 272.08 L638.64 272.25 L638.89 272.43 L639.14 272.61 L639.39 272.79 L639.64 272.97 L639.89 273.14 L640.15 273.32 L640.4 273.5 L640.65 273.68 L640.9 273.86 L641.15 274.04 L641.4 274.22 L641.65 274.4 L641.9 274.58 L642.15 274.76 L642.4 274.94 L642.65 275.12 L642.9 275.31 L643.15 275.49 L643.4 275.67 L643.65 275.85 L643.9 276.04 L644.15 276.22 L644.4 276.4 L644.65 276.59 L644.9 276.77 L645.15 276.95 L645.4 277.14 L645.65 277.32 L645.9 277.51 L646.15 277.69 L646.4 277.88 L646.65 278.06 L646.9 278.25 L647.15 278.44 L647.4 278.63 L647.65 278.81 L647.9 279 L648.15 279.19 L648.41 279.38 L648.66 279.57 L648.91 279.76 L649.16 279.96 L649.41 280.15 L649.66 280.34 L649.91 280.53 L650.16 280.73 L650.41 280.92 L650.66 281.11 L650.91 281.31 L651.16 281.5 L651.41 281.7 L651.66 281.89 L651.91 282.09 L652.16 282.28 L652.41 282.48 L652.66 282.68 L652.91 282.87 L653.16 283.07 L653.41 283.27 L653.66 283.46 L653.91 283.66 L654.16 283.85 L654.41 284.05 L654.66 284.25 L654.91 284.44 L655.16 284.64 L655.41 284.84 L655.66 285.03 L655.91 285.23 L656.16 285.43 L656.41 285.62 L656.66 285.82 L656.92 286.01 L657.17 286.21 L657.42 286.41 L657.67 286.6 L657.92 286.8 L658.17 286.99 L658.42 287.18 L658.67 287.38 L658.92 287.57 L659.17 287.77 L659.42 287.96 L659.67 288.16 L659.92 288.35 L660.17 288.55 L660.42 288.74 L660.67 288.94 L660.92 289.14 L661.17 289.33 L661.42 289.53 L661.67 289.72 L661.92 289.92 L662.17 290.11 L662.42 290.31 L662.67 290.5 L662.92 290.7 L663.17 290.9 L663.42 291.09 L663.67 291.29 L663.92 291.48 L664.17 291.68 L664.42 291.87 L664.67 292.07 L664.92 292.27 L665.17 292.46 L665.43 292.66 L665.68 292.85 L665.93 293.05 L666.18 293.24 L666.43 293.44 L666.68 293.64 L666.93 293.83 L667.18 294.03 L667.43 294.22 L667.68 294.42 L667.93 294.61 L668.18 294.81 L668.43 295 L668.68 295.2 L668.93 295.39 L669.18 295.59 L669.43 295.78 L669.68 295.98 L669.93 296.17 L670.18 296.37 L670.43 296.56 L670.68 296.76 L670.93 296.95 L671.18 297.15 L671.43 297.34 L671.68 297.53 L671.93 297.73 L672.18 297.92 L672.43 298.12 L672.68 298.31 L672.93 298.5 L673.18 298.69 L673.43 298.89 L673.69 299.08 L673.94 299.27 L674.19 299.46 L674.44 299.65 L674.69 299.84 L674.94 300.03 L675.19 300.22 L675.44 300.41 L675.69 300.6 L675.94 300.79 L676.19 300.97 L676.44 301.16 L676.69 301.35 L676.94 301.54 L677.19 301.73 L677.44 301.91 L677.69 302.1 L677.94 302.29 L678.19 302.48 L678.44 302.66 L678.69 302.85 L678.94 303.04 L679.19 303.23 L679.44 303.41 L679.69 303.6 L679.94 303.79 L680.19 303.98 L680.44 304.17 L680.69 304.35 L680.94 304.54 L681.19 304.73 L681.44 304.92 L681.69 305.11 L681.94 305.3 L682.2 305.49 L682.45 305.67 L682.7 305.86 L682.95 306.05 L683.2 306.24 L683.45 306.43 L683.7 306.63 L683.95 306.82 L684.2 307.01 L684.45 307.2 L684.7 307.39 L684.95 307.59 L685.2 307.78 L685.45 307.97 L685.7 308.17 L685.95 308.36 L686.2 308.56 L686.45 308.75 L686.7 308.95 L686.95 309.15 L687.2 309.34 L687.45 309.54 L687.7 309.74 L687.95 309.94 L688.2 310.14 L688.45 310.34 L688.7 310.54 L688.95 310.75 L689.2 310.95 L689.45 311.15 L689.7 311.36 L689.95 311.56 L690.2 311.77 L690.45 311.97 L690.71 312.18 L690.96 312.39 L691.21 312.6 L691.46 312.81 L691.71 313.02 L691.96 313.24 L692.21 313.45 L692.46 313.66 L692.71 313.88 L692.96 314.09 L693.21 314.31 L693.46 314.53 L693.71 314.74 L693.96 314.96 L694.21 315.18 L694.46 315.4 L694.71 315.54 L694.96 315.54 L695.21 315.54 L695.46 315.54 L695.71 315.54 L695.96 315.54 L696.21 316.86 L696.46 316.86 L696.71 316.86 L696.96 316.86 L697.21 316.86 L697.46 316.86 L697.71 318.22 L697.96 318.22 L698.21 318.22 L698.46 318.22 L698.71 318.22 L698.97 318.22 L699.22 319.64 L699.47 319.64 L699.72 319.64 L699.97 319.64 L700.22 319.64 L700.47 319.64 L700.72 319.64 L700.97 321.12 L701.22 321.12 L701.47 321.12 L701.72 321.12 L701.97 321.12 L702.22 321.12 L702.47 322.66 L702.72 322.66 L702.97 322.66 L703.22 322.66 L703.47 322.66 L703.72 322.66 L703.97 322.66 L704.22 324.27 L704.47 324.27 L704.72 324.27 L704.97 324.27 L705.22 324.27 L705.47 324.27 L705.72 324.27 L705.97 325.95 L706.22 325.95 L706.47 325.95 L706.72 325.95 L706.97 325.95 L707.22 325.95 L707.48 325.95 L707.73 327.71 L707.98 327.71 L708.23 327.71 L708.48 327.71 L708.73 327.71 L708.98 327.71 L709.23 327.71 L709.48 329.57 L709.73 329.57 L709.98 329.57 L710.23 329.57 L710.48 329.57 L710.73 329.57 L710.98 329.57 L711.23 329.57 L711.48 331.53 L711.73 331.53 L711.98 331.53 L712.23 331.53 L712.48 331.53 L712.73 331.53 L712.98 331.53 L713.23 331.53 L713.48 333.59 L713.73 333.59 L713.98 333.59 L714.23 333.59 L714.48 333.59 L714.73 333.59 L714.98 333.59 L715.23 333.59 L715.48 333.59 L715.73 335.79 L715.99 335.79 L716.24 335.79 L716.49 335.79 L716.74 335.79 L716.99 335.79 L717.24 335.79 L717.49 335.79 L717.74 335.79 L717.99 338.12 L718.24 338.12 L718.49 338.12 L718.74 338.12 L718.99 338.12 L719.24 338.12 L719.49 338.12 L719.74 338.12 L719.99 338.12 L720.24 340.62 L720.49 340.62 L720.74 340.62 L720.99 340.62 L721.24 340.62 L721.49 340.62 L721.74 340.62 L721.99 340.62 L722.24 340.62 L722.49 340.62 L722.74 340.62 L722.99 343.3 L723.24 343.3 L723.49 343.3 L723.74 343.3 L723.99 343.3 L724.25 343.3 L724.5 343.3 L724.75 343.3 L725 343.3 L725.25 343.3 L725.5 343.3 L725.75 346.19 L726 346.19 L726.25 346.19 L726.5 346.19 L726.75 346.19 L727 346.19 L727.25 346.19 L727.5 346.19 L727.75 346.19 L728 346.19 L728.25 346.19 L728.5 349.34 L728.75 349.34 L729 349.34 L729.25 349.34 L729.5 349.34 L729.75 349.34 L730 349.34 L730.25 349.34 L730.5 349.34 L730.75 349.34 L731 349.34 L731.25 349.34 L731.5 349.34 L731.75 352.79 L732 352.79 L732.25 352.79 L732.5 352.79 L732.76 352.79 L733.01 352.79 L733.26 352.79 L733.51 352.79 L733.76 352.79 L734.01 352.79 L734.26 352.79 L734.51 352.79 L734.76 352.79 L735.01 356.6 L735.26 356.6 L735.51 356.6 L735.76 356.6 L736.01 356.6 L736.26 356.6 L736.51 356.6 L736.76 356.6 L737.01 356.6 L737.26 356.6 L737.51 356.6 L737.76 356.6 L738.01 356.6 L738.26 360.86 L738.51 360.86 L738.76 360.86 L739.01 360.86 L739.26 360.86 L739.51 360.86 L739.76 360.86 L740.01 360.86 L740.26 360.86 L740.51 360.86 L740.76 360.86 L741.01 360.86 L741.27 360.86 L741.52 365.69 L741.77 365.69 L742.02 365.69 L742.27 365.69 L742.52 365.69 L742.77 365.69 L743.02 365.69 L743.27 365.69 L743.52 365.69 L743.77 365.69 L744.02 365.69 L744.27 365.69 L744.52 365.69 L744.77 365.69 L745.02 371.26 L745.27 371.26 L745.52 371.26 L745.77 371.26 L746.02 371.26 L746.27 371.26 L746.52 371.26 L746.77 371.26 L747.02 371.26 L747.27 371.26 L747.52 371.26 L747.77 371.26 L748.02 371.26 L748.27 371.26 L748.52 377.86 L748.77 377.86 L749.02 377.86 L749.27 377.86 L749.53 377.86 L749.78 377.86 L750.03 377.86 L750.28 377.86 L750.53 377.86 L750.78 377.86 L751.03 385.93 L751.28 385.93 L751.53 385.93 L751.78 385.93 L752.03 385.93 L752.28 385.93 L752.53 385.93 L752.78 385.93 L753.03 385.93 L753.28 396.33 L753.53 396.33 L753.78 411 L807.3 411" fill="none" stroke="#0000ff" stroke-width="1.15" stroke-linejoin="round" />
</g>
<text transform="translate(642.9 353) scale(1.08 1)" font-family='"Liberation Serif", serif' font-size="13.6" fill="#00ff00" stroke="#00ff00" stroke-width="0.42" >&#937;</text>
<text transform="translate(655.1 357.6) scale(1.2 1)" font-family='"Liberation Serif", serif' font-size="11.2" fill="#00ff00" stroke="#00ff00" stroke-width="0.42" font-style="italic" >e</text>
<path d="M661.2 355.6L665.9 342.7" stroke="#00ff00" stroke-width="1.25" stroke-linecap="round" fill="none"/>
<text transform="translate(665.5 353) scale(1.22 1)" font-family='"Liberation Serif", serif' font-size="14.6" fill="#00ff00" stroke="#00ff00" stroke-width="0.42" font-style="italic" >n</text>
<text transform="translate(697.4 302.4) scale(1.08 1)" font-family='"Liberation Serif", serif' font-size="13.6" fill="#0000ff" stroke="#0000ff" stroke-width="0.42" >&#937;</text>
<path d="M709.8 305L714.5 292.1" stroke="#0000ff" stroke-width="1.25" stroke-linecap="round" fill="none"/>
<text transform="translate(714.1 302.4) scale(1.22 1)" font-family='"Liberation Serif", serif' font-size="14.6" fill="#0000ff" stroke="#0000ff" stroke-width="0.42" font-style="italic" >n</text>
<path d="M631.73 415 v-9 M631.73 235.5 v9 M690.25 415 v-9 M690.25 235.5 v9 M748.77 415 v-9 M748.77 235.5 v9" stroke="#000" stroke-width="1.8" fill="none"/>
<rect x="573.2" y="235.5" width="234.1" height="179.5" fill="none" stroke="#000" stroke-width="2"/>
<path d="M100.7 437.9 V617.1 M158.8 437.9 V617.1 M216.9 437.9 V617.1 M42.6 467.77 H275 M42.6 497.63 H275 M42.6 527.5 H275 M42.6 557.37 H275 M42.6 587.23 H275" stroke="#000" stroke-opacity="0.62" stroke-width="1" stroke-dasharray="1.35 3.08" fill="none"/>
<path d="M42.6 467.77 h9 M275 467.77 h-9 M42.6 497.63 h9 M275 497.63 h-9 M42.6 527.5 h9 M275 527.5 h-9 M42.6 557.37 h9 M275 557.37 h-9 M42.6 587.23 h9 M275 587.23 h-9" stroke="#000" stroke-width="1.8" fill="none"/>
<g clip-path="url(#cp02)">
<path d="M42.6 497.83 L43.1 503.43 L43.6 500.52 L44.1 495.93 L44.6 495.84 L45.1 495.8 L45.6 496.01 L46.1 495.76 L46.6 496.25 L47.1 499.12 L47.6 506.33 L48.1 503.16 L48.6 495.49 L49.1 495.42 L49.6 495.48 L50.1 498.47 L50.6 497.38 L51.1 495.18 L51.6 498.29 L52.1 495.66 L52.6 496.24 L53.1 498.82 L53.6 495.32 L54.1 495.24 L54.6 497.66 L55.1 499.79 L55.6 495.11 L56.1 495.07 L56.6 495 L57.1 497.21 L57.6 497.82 L58.1 496.62 L58.6 496.05 L59.1 495.38 L59.6 495.67 L60.1 495.12 L60.6 495.31 L61.1 496.86 L61.6 495.55 L62.1 495.3 L62.6 495.4 L63.1 495.42 L63.6 495.51 L64.1 495.59 L64.6 495.63 L65.1 495.77 L65.6 495.93 L66.1 495.94 L66.6 495.96 L67.1 497.22 L67.6 496.13 L68.1 496.24 L68.6 496.62 L69.1 496.36 L69.6 496.56 L70.1 497.39 L70.6 496.83 L71.1 497.07 L71.6 496.89 L72.1 496.97 L72.6 497.06 L73.1 497.07 L73.6 497.16 L74.1 497.28 L74.6 497.42 L75.1 497.48 L75.6 497.6 L76.1 497.72 L76.6 498 L77.1 497.99 L77.6 498.14 L78.1 498.27 L78.6 498.43 L79.1 498.5 L79.6 498.67 L80.1 498.99 L80.6 498.93 L81.1 499.54 L81.6 499.47 L82.1 499.42 L82.6 499.76 L83.1 499.64 L83.6 500.03 L84.1 500.39 L84.6 500.47 L85.1 500.52 L85.6 500.43 L86.1 500.61 L86.6 500.64 L87.1 501.06 L87.6 501.06 L88.1 501.3 L88.6 501.2 L89.1 501.26 L89.6 501.67 L90.1 501.87 L90.6 501.92 L91.1 502.01 L91.6 502.13 L92.1 502.2 L92.6 502.06 L93.1 502.31 L93.6 502.34 L94.1 502.29 L94.6 502.4 L95.1 502.64 L95.6 502.74 L96.1 503.07 L96.6 503.31 L97.1 503.17 L97.6 503.52 L98.1 503.66 L98.6 503.75 L99.1 503.57 L99.6 503.61 L100.1 503.72 L100.6 503.82 L101.1 503.94 L101.6 504.26 L102.1 504.51 L102.6 504.6 L103.1 504.54 L103.6 504.74 L104.1 504.93 L104.6 504.69 L105.1 505.09 L105.6 505.34 L106.1 505.39 L106.6 505.49 L107.1 505.47 L107.6 505.44 L108.1 505.86 L108.6 505.75 L109.1 506.1 L109.6 506.3 L110.1 506.13 L110.6 506.25 L111.1 506.63 L111.6 506.63 L112.1 506.47 L112.6 506.56 L113.1 506.68 L113.6 507.17 L114.1 507.23 L114.6 507 L115.1 507.45 L115.6 507.63 L116.1 507.57 L116.6 507.52 L117.1 507.72 L117.6 507.6 L118.1 507.64 L118.6 508.22 L119.1 508.15 L119.6 508.19 L120.1 508.48 L120.6 508.33 L121.1 508.64 L121.6 508.71 L122.1 508.49 L122.6 508.6 L123.1 508.71 L123.6 508.78 L124.1 509.04 L124.6 508.96 L125.1 509.13 L125.6 509.07 L126.1 509.54 L126.6 509.35 L127.1 509.49 L127.6 509.63 L128.1 509.87 L128.6 509.71 L129.1 510.04 L129.6 509.91 L130.1 510 L130.6 510.08 L131.1 509.9 L131.6 510.19 L132.1 510.13 L132.6 510.12 L133.1 510.59 L133.6 510.35 L134.1 510.57 L134.6 510.77 L135.1 510.76 L135.6 510.71 L136.1 510.88 L136.6 510.97 L137.1 511.15 L137.6 510.88 L138.1 511.18 L138.6 511.09 L139.1 511.17 L139.6 511.49 L140.1 511.42 L140.6 511.51 L141.1 511.67 L141.6 511.81 L142.1 511.64 L142.6 511.79 L143.1 511.79 L143.6 511.85 L144.1 512 L144.6 511.93 L145.1 512.03 L145.6 512.05 L146.1 512.34 L146.6 512.26 L147.1 512.4 L147.6 512.48 L148.1 512.18 L148.6 512.38 L149.1 512.61 L149.6 512.6 L150.1 512.28 L150.6 512.31 L151.1 512.51 L151.6 512.36 L152.1 512.48 L152.6 512.43 L153.1 512.76 L153.6 512.85 L154.1 512.93 L154.6 512.6 L155.1 512.91 L155.6 512.91 L156.1 512.69 L156.6 513.09 L157.1 513.17 L157.6 512.83 L158.1 513.23 L158.6 512.99 L159.1 513.07 L159.6 513.36 L160.1 513.32 L160.6 513.03 L161.1 513.21 L161.6 513.29 L162.1 513.25 L162.6 513.22 L163.1 513.33 L163.6 513.58 L164.1 513.28 L164.6 513.59 L165.1 513.58 L165.6 513.42 L166.1 513.63 L166.6 513.82 L167.1 513.82 L167.6 513.64 L168.1 514.15 L168.6 514.1 L169.1 514.25 L169.6 513.86 L170.1 513.99 L170.6 513.93 L171.1 514.35 L171.6 514.15 L172.1 514.13 L172.6 514.33 L173.1 514.62 L173.6 514.63 L174.1 514.41 L174.6 514.41 L175.1 514.84 L175.6 514.73 L176.1 514.85 L176.6 514.59 L177.1 514.63 L177.6 515 L178.1 514.93 L178.6 514.8 L179.1 515.29 L179.6 515.19 L180.1 515.33 L180.6 515.02 L181.1 515.46 L181.6 515.12 L182.1 515.57 L182.6 515.41 L183.1 515.4 L183.6 515.56 L184.1 515.79 L184.6 515.51 L185.1 515.48 L185.6 515.72 L186.1 515.62 L186.6 515.6 L187.1 515.67 L187.6 515.66 L188.1 515.77 L188.6 515.87 L189.1 515.91 L189.6 516.18 L190.1 515.98 L190.6 516.13 L191.1 516 L191.6 516.13 L192.1 516 L192.6 516.15 L193.1 516.07 L193.6 516.47 L194.1 516.42 L194.6 516.27 L195.1 516.45 L195.6 516.72 L196.1 516.34 L196.6 516.73 L197.1 516.57 L197.6 516.63 L198.1 516.83 L198.6 516.65 L199.1 516.73 L199.6 516.86 L200.1 517.03 L200.6 516.75 L201.1 517.02 L201.6 516.99 L202.1 516.98 L202.6 516.9 L203.1 516.9 L203.6 516.78 L204.1 516.85 L204.6 516.85 L205.1 517.21 L205.6 517 L206.1 516.98 L206.6 516.97 L207.1 517.37 L207.6 517.41 L208.1 517.34 L208.6 517.17 L209.1 517.18 L209.6 517.23 L210.1 517.34 L210.6 517.21 L211.1 517.38 L211.6 517.31 L212.1 517.69 L212.6 517.72 L213.1 517.53 L213.6 517.4 L214.1 517.78 L214.6 517.48 L215.1 517.52 L215.6 517.37 L216.1 517.58 L216.6 517.65 L217.1 517.68 L217.6 517.55 L218.1 517.72 L218.6 517.49 L219.1 517.65 L219.6 517.58 L220.1 517.75 L220.6 517.6 L221.1 517.61 L221.6 517.77 L222.1 517.75 L222.6 517.95 L223.1 517.94 L223.6 518.07 L224.1 518.04 L224.6 518.09 L225.1 518.19 L225.6 517.97 L226.1 517.95 L226.6 518.3 L227.1 517.9 L227.6 518.21 L228.1 518.19 L228.6 517.91 L229.1 518.32 L229.6 518.37 L230.1 518.25 L230.6 518.32 L231.1 518.38 L231.6 518.06 L232.1 518.27 L232.6 518.27 L233.1 518.46 L233.6 518.46 L234.1 518.48 L234.6 518.38 L235.1 518.55 L235.6 518.46 L236.1 518.48 L236.6 518.26 L237.1 518.18 L237.6 518.24 L238.1 518.37 L238.6 518.25 L239.1 518.63 L239.6 518.51 L240.1 518.55 L240.6 518.56 L241.1 518.6 L241.6 518.52 L242.1 518.29 L242.6 518.7 L243.1 518.68 L243.6 518.57 L244.1 518.6 L244.6 518.67 L245.1 518.38 L245.6 518.73 L246.1 518.5 L246.6 518.42 L247.1 518.53 L247.6 518.77 L248.1 518.52 L248.6 518.79 L249.1 518.92 L249.6 518.69 L250.1 518.65 L250.6 518.7 L251.1 518.82 L251.6 518.87 L252.1 518.8 L252.6 518.83 L253.1 518.55 L253.6 518.6 L254.1 518.66 L254.6 518.91 L255.1 518.7 L255.6 518.84 L256.1 518.58 L256.6 518.61 L257.1 518.72 L257.6 518.93 L258.1 518.95 L258.6 518.95 L259.1 518.77 L259.6 518.89 L260.1 518.87 L260.6 518.88 L261.1 518.71 L261.6 519.11 L262.1 518.77 L262.6 519.16 L263.1 519.15 L263.6 518.7 L264.1 518.93 L264.6 519.11 L265.1 519.19 L265.6 518.94 L266.1 518.86 L266.6 518.83 L267.1 519.21 L267.6 518.84 L268.1 519.04 L268.6 518.82 L269.1 519.02 L269.6 519.24 L270.1 518.83 L270.6 519.18 L271.1 519.03 L271.6 519.22 L272.1 519.13 L272.6 518.9 L273.1 519.24 L273.6 519.03 L274.1 518.81 L274.6 518.8 L274.6 520.41 L274.1 520.38 L273.6 520.52 L273.1 520.45 L272.6 520.1 L272.1 520.51 L271.6 520.23 L271.1 520.3 L270.6 520.09 L270.1 520.32 L269.6 520.46 L269.1 520.45 L268.6 520.13 L268.1 520.41 L267.6 520.12 L267.1 520.37 L266.6 520.34 L266.1 520.17 L265.6 520.35 L265.1 520.21 L264.6 520.2 L264.1 520.4 L263.6 520.26 L263.1 520.41 L262.6 520.58 L262.1 520.58 L261.6 520.32 L261.1 520.46 L260.6 520.53 L260.1 520.24 L259.6 520.46 L259.1 520.47 L258.6 520.59 L258.1 520.48 L257.6 520.57 L257.1 520.5 L256.6 520.45 L256.1 520.62 L255.6 520.59 L255.1 520.63 L254.6 520.4 L254.1 520.77 L253.6 520.38 L253.1 520.75 L252.6 520.66 L252.1 520.41 L251.6 520.85 L251.1 520.77 L250.6 520.55 L250.1 520.49 L249.6 520.64 L249.1 520.71 L248.6 520.67 L248.1 520.59 L247.6 520.58 L247.1 520.91 L246.6 520.93 L246.1 520.72 L245.6 520.64 L245.1 520.94 L244.6 520.64 L244.1 520.98 L243.6 520.89 L243.1 521.04 L242.6 520.8 L242.1 521.08 L241.6 520.65 L241.1 520.88 L240.6 521.14 L240.1 521.13 L239.6 520.74 L239.1 520.79 L238.6 521.18 L238.1 521.11 L237.6 520.97 L237.1 520.79 L236.6 521.21 L236.1 521.02 L235.6 520.92 L235.1 520.86 L234.6 521.06 L234.1 521 L233.6 521.14 L233.1 520.89 L232.6 521.31 L232.1 521.19 L231.6 521.16 L231.1 520.91 L230.6 521 L230.1 521.16 L229.6 521.39 L229.1 521.16 L228.6 521.39 L228.1 521.2 L227.6 521.46 L227.1 521.03 L226.6 521.14 L226.1 521.42 L225.6 521.17 L225.1 521.27 L224.6 521.6 L224.1 521.55 L223.6 521.34 L223.1 521.33 L222.6 521.45 L222.1 521.34 L221.6 521.68 L221.1 521.38 L220.6 521.38 L220.1 521.46 L219.6 521.63 L219.1 521.38 L218.6 521.36 L218.1 521.65 L217.6 521.63 L217.1 521.57 L216.6 521.44 L216.1 521.44 L215.6 521.71 L215.1 521.85 L214.6 521.58 L214.1 521.65 L213.6 521.61 L213.1 521.88 L212.6 521.73 L212.1 521.6 L211.6 521.72 L211.1 521.96 L210.6 521.96 L210.1 521.82 L209.6 521.82 L209.1 521.81 L208.6 521.95 L208.1 521.9 L207.6 522.13 L207.1 522.15 L206.6 521.93 L206.1 522.38 L205.6 522.32 L205.1 522.09 L204.6 522.22 L204.1 522.45 L203.6 522.24 L203.1 522.54 L202.6 522.4 L202.1 522.62 L201.6 522.26 L201.1 522.26 L200.6 522.37 L200.1 522.28 L199.6 522.75 L199.1 522.74 L198.6 522.76 L198.1 522.62 L197.6 522.46 L197.1 522.93 L196.6 522.8 L196.1 522.9 L195.6 522.65 L195.1 522.82 L194.6 523.09 L194.1 522.82 L193.6 522.82 L193.1 522.98 L192.6 523.17 L192.1 522.83 L191.6 522.91 L191.1 522.95 L190.6 522.96 L190.1 523.27 L189.6 523.12 L189.1 523.25 L188.6 523.15 L188.1 523.46 L187.6 523.14 L187.1 523.45 L186.6 523.58 L186.1 523.57 L185.6 523.58 L185.1 523.59 L184.6 523.53 L184.1 523.49 L183.6 523.64 L183.1 523.81 L182.6 523.75 L182.1 523.6 L181.6 523.64 L181.1 523.78 L180.6 524.19 L180.1 524.19 L179.6 524.29 L179.1 524.01 L178.6 524.18 L178.1 523.98 L177.6 524.05 L177.1 524.19 L176.6 524.5 L176.1 524.28 L175.6 524.28 L175.1 524.69 L174.6 524.54 L174.1 524.58 L173.6 524.65 L173.1 524.86 L172.6 525 L172.1 525.09 L171.6 525.12 L171.1 525.22 L170.6 524.98 L170.1 525.42 L169.6 525.28 L169.1 525.32 L168.6 525.31 L168.1 525.46 L167.6 525.83 L167.1 525.92 L166.6 525.76 L166.1 525.73 L165.6 525.72 L165.1 526.27 L164.6 526.21 L164.1 526.45 L163.6 526.46 L163.1 526.19 L162.6 526.42 L162.1 526.54 L161.6 526.84 L161.1 526.71 L160.6 526.99 L160.1 527.26 L159.6 527.02 L159.1 527.15 L158.6 527.53 L158.1 527.56 L157.6 527.42 L157.1 527.85 L156.6 527.53 L156.1 527.62 L155.6 527.73 L155.1 528.21 L154.6 528.34 L154.1 528.25 L153.6 528.17 L153.1 528.71 L152.6 528.56 L152.1 528.59 L151.6 529.07 L151.1 528.91 L150.6 529.08 L150.1 528.99 L149.6 529.3 L149.1 529.62 L148.6 529.74 L148.1 529.63 L147.6 529.68 L147.1 530.18 L146.6 529.89 L146.1 530.43 L145.6 530.25 L145.1 530.35 L144.6 530.34 L144.1 530.55 L143.6 530.76 L143.1 530.91 L142.6 531.05 L142.1 531.32 L141.6 531.14 L141.1 531.63 L140.6 531.86 L140.1 531.63 L139.6 531.84 L139.1 532.28 L138.6 532.46 L138.1 532.47 L137.6 532.7 L137.1 532.85 L136.6 532.75 L136.1 532.74 L135.6 532.89 L135.1 533.1 L134.6 533.68 L134.1 533.46 L133.6 533.72 L133.1 533.77 L132.6 534.34 L132.1 534.37 L131.6 534.43 L131.1 534.52 L130.6 534.69 L130.1 535.04 L129.6 535.47 L129.1 535.35 L128.6 535.79 L128.1 535.73 L127.6 535.95 L127.1 536.46 L126.6 536.43 L126.1 536.99 L125.6 536.83 L125.1 537.21 L124.6 537.56 L124.1 537.82 L123.6 537.76 L123.1 538.24 L122.6 538.35 L122.1 538.55 L121.6 538.64 L121.1 538.99 L120.6 539.58 L120.1 539.7 L119.6 539.74 L119.1 540.07 L118.6 540.44 L118.1 540.6 L117.6 540.61 L117.1 541 L116.6 541.45 L116.1 541.83 L115.6 541.73 L115.1 541.98 L114.6 542.35 L114.1 542.82 L113.6 542.96 L113.1 543.38 L112.6 543.39 L112.1 543.58 L111.6 543.7 L111.1 544.27 L110.6 544.35 L110.1 544.7 L109.6 545.07 L109.1 545.32 L108.6 545.37 L108.1 545.67 L107.6 546.24 L107.1 546.49 L106.6 546.58 L106.1 546.81 L105.6 547.18 L105.1 547.64 L104.6 548.06 L104.1 548.01 L103.6 548.57 L103.1 548.49 L102.6 549.04 L102.1 549.28 L101.6 549.73 L101.1 549.97 L100.6 550.3 L100.1 550.71 L99.6 550.87 L99.1 551.08 L98.6 551.19 L98.1 551.45 L97.6 551.81 L97.1 552.46 L96.6 552.69 L96.1 552.97 L95.6 553.31 L95.1 553.34 L94.6 553.44 L94.1 554.04 L93.6 554.28 L93.1 554.8 L92.6 555.02 L92.1 555 L91.6 555.32 L91.1 556.08 L90.6 556.4 L90.1 556.8 L89.6 556.9 L89.1 557.24 L88.6 557.53 L88.1 557.93 L87.6 558.29 L87.1 559.01 L86.6 559.31 L86.1 559.68 L85.6 559.93 L85.1 560.81 L84.6 560.94 L84.1 561.32 L83.6 561.96 L83.1 562.49 L82.6 563.09 L82.1 563.58 L81.6 564.13 L81.1 564.87 L80.6 565.51 L80.1 565.94 L79.6 566.39 L79.1 566.99 L78.6 567.55 L78.1 568.32 L77.6 568.87 L77.1 569.63 L76.6 570.34 L76.1 571.25 L75.6 572.3 L75.1 573.05 L74.6 573.52 L74.1 574.48 L73.6 575.52 L73.1 576.01 L72.6 576.83 L72.1 577.69 L71.6 578.65 L71.1 579.57 L70.6 580.29 L70.1 581.29 L69.6 581.93 L69.1 583.12 L68.6 583.84 L68.1 584.47 L67.6 585.34 L67.1 586.26 L66.6 586.94 L66.1 588.2 L65.6 588.63 L65.1 589.61 L64.6 590.67 L64.1 591.6 L63.6 592.32 L63.1 593.35 L62.6 593.89 L62.1 595.11 L61.6 595.92 L61.1 597.01 L60.6 597.89 L60.1 598.65 L59.6 599.64 L59.1 600.58 L58.6 601.52 L58.1 602.12 L57.6 602.91 L57.1 603.94 L56.6 604.69 L56.1 605.55 L55.6 606.77 L55.1 607.32 L54.6 608.48 L54.1 609.02 L53.6 609.9 L53.1 610.95 L52.6 611.98 L52.1 612.92 L51.6 614.04 L51.1 615.28 L50.6 616.04 L50.1 617.13 L49.6 618.24 L49.1 619.1 L48.6 619.1 L48.1 619.1 L47.6 619.1 L47.1 619.1 L46.6 619.1 L46.1 619.1 L45.6 619.1 L45.1 619.1 L44.6 619.1 L44.1 619.1 L43.6 619.1 L43.1 619.1 L42.6 619.1Z" fill="#0000ff" stroke="none" />
<path d="M45.9 494.64V522.64" stroke="#fff" stroke-opacity="0.85" stroke-width="1" fill="none"/>
<path d="M48.2 494.39V504.39" stroke="#fff" stroke-opacity="0.85" stroke-width="0.5" fill="none"/>
<path d="M50.7 494.19V523.19" stroke="#fff" stroke-opacity="0.85" stroke-width="0.65" fill="none"/>
<path d="M52.6 494.09V502.09" stroke="#fff" stroke-opacity="0.85" stroke-width="0.5" fill="none"/>
<path d="M54.7 494.02V512.02" stroke="#fff" stroke-opacity="0.85" stroke-width="0.9" fill="none"/>
<path d="M56.6 494V501" stroke="#fff" stroke-opacity="0.85" stroke-width="0.5" fill="none"/>
<path d="M58.7 494.03V503.03" stroke="#fff" stroke-opacity="0.85" stroke-width="0.55" fill="none"/>
<path d="M60.4 494.14V500.14" stroke="#fff" stroke-opacity="0.85" stroke-width="0.45" fill="none"/>
<path d="M62.3 494.32V509.32" stroke="#fff" stroke-opacity="0.85" stroke-width="0.65" fill="none"/>
<path d="M64.6 494.63V500.63" stroke="#fff" stroke-opacity="0.85" stroke-width="0.5" fill="none"/>
<path d="M67.1 495.02V508.02" stroke="#fff" stroke-opacity="0.85" stroke-width="0.8" fill="none"/>
<path d="M70 495.52V502.52" stroke="#fff" stroke-opacity="0.85" stroke-width="0.5" fill="none"/>
<path d="M73.2 496.08V501.08" stroke="#fff" stroke-opacity="0.85" stroke-width="0.5" fill="none"/>
<path d="M76 496.69V500.69" stroke="#fff" stroke-opacity="0.85" stroke-width="0.45" fill="none"/>
<path d="M79 497.47V503.47" stroke="#fff" stroke-opacity="0.85" stroke-width="0.6" fill="none"/>
<path d="M83.5 498.74V502.74" stroke="#fff" stroke-opacity="0.85" stroke-width="0.45" fill="none"/>
<path d="M88 499.89V503.39" stroke="#fff" stroke-opacity="0.85" stroke-width="0.45" fill="none"/>
<path d="M42.6 478.33 L43.1 481.16 L43.6 484.69 L44.1 483.58 L44.6 476.76 L45.1 482.59 L45.6 483.61 L46.1 482.7 L46.6 480.38 L47.1 477.8 L47.6 479.97 L48.1 476.49 L48.6 477.66 L49.1 481.09 L49.6 477.63 L50.1 477.19 L50.6 480.28 L51.1 481.66 L51.6 480 L52.1 477.35 L52.6 479.93 L53.1 480.68 L53.6 481.69 L54.1 478.58 L54.6 478.71 L55.1 480.02 L55.6 480.38 L56.1 479.83 L56.6 479.44 L57.1 478.05 L57.6 477.03 L58.1 479.41 L58.6 479.21 L59.1 477.59 L59.6 479.37 L60.1 477.34 L60.6 477.76 L61.1 478.3 L61.6 479.33 L62.1 479.58 L62.6 478.4 L63.1 478.48 L63.6 478.36 L64.1 480.54 L64.6 479.19 L65.1 478.46 L65.6 479.76 L66.1 480.07 L66.6 480.9 L67.1 479.53 L67.6 479.05 L68.1 479.78 L68.6 479.4 L69.1 479.33 L69.6 481 L70.1 479.92 L70.6 480.57 L71.1 480.98 L71.6 480.27 L72.1 480.18 L72.6 481.34 L73.1 480.31 L73.6 481.33 L74.1 481.4 L74.6 480.65 L75.1 480.74 L75.6 481.26 L76.1 481.85 L76.6 481.74 L77.1 481.72 L77.6 482.12 L78.1 481.7 L78.6 482.39 L79.1 482.32 L79.6 481.9 L80.1 482.77 L80.6 482.64 L81.1 482.87 L81.6 482.65 L82.1 483.03 L82.6 483.29 L83.1 483.19 L83.6 483.5 L84.1 483.36 L84.6 483.42 L85.1 483.41 L85.6 483.56 L86.1 483.38 L86.6 483.84 L87.1 483.8 L87.6 483.69 L88.1 484.44 L88.6 484.6 L89.1 484.31 L89.6 484.68 L90.1 485.07 L90.6 484.8 L91.1 485.36 L91.6 484.8 L92.1 484.86 L92.6 485.63 L93.1 485.66 L93.6 485.56 L94.1 485.39 L94.6 485.82 L95.1 485.86 L95.6 485.81 L96.1 486.22 L96.6 486.22 L97.1 486.62 L97.6 486.75 L98.1 486.53 L98.6 486.93 L99.1 487.01 L99.6 486.99 L100.1 487.16 L100.6 487.31 L101.1 487.23 L101.6 487.87 L102.1 487.62 L102.6 488 L103.1 487.94 L103.6 488.25 L104.1 488.42 L104.6 488.27 L105.1 488.61 L105.6 488.69 L106.1 488.88 L106.6 489.14 L107.1 489.09 L107.6 489.21 L108.1 489.31 L108.6 489.43 L109.1 489.55 L109.6 489.9 L110.1 490.11 L110.6 490.06 L111.1 490.36 L111.6 490.49 L112.1 490.44 L112.6 490.76 L113.1 490.92 L113.6 490.87 L114.1 491.13 L114.6 491.15 L115.1 491.27 L115.6 491.35 L116.1 491.75 L116.6 491.54 L117.1 491.74 L117.6 491.82 L118.1 491.94 L118.6 492.33 L119.1 492.47 L119.6 492.36 L120.1 492.71 L120.6 492.66 L121.1 492.82 L121.6 492.76 L122.1 492.83 L122.6 493.24 L123.1 493.26 L123.6 493.36 L124.1 493.49 L124.6 493.68 L125.1 493.69 L125.6 493.91 L126.1 493.8 L126.6 494.19 L127.1 494.22 L127.6 494.32 L128.1 494.33 L128.6 494.49 L129.1 494.49 L129.6 494.74 L130.1 494.65 L130.6 494.82 L131.1 494.91 L131.6 495.21 L132.1 495.18 L132.6 495.19 L133.1 495.5 L133.6 495.41 L134.1 495.6 L134.6 495.61 L135.1 495.7 L135.6 495.86 L136.1 495.91 L136.6 495.96 L137.1 496.21 L137.6 496.19 L138.1 496.31 L138.6 496.48 L139.1 496.2 L139.6 496.41 L140.1 496.5 L140.6 496.7 L141.1 496.61 L141.6 496.87 L142.1 496.88 L142.6 497.05 L143.1 496.89 L143.6 497.19 L144.1 497.21 L144.6 497.25 L145.1 497.48 L145.6 497.42 L146.1 497.56 L146.6 497.41 L147.1 497.4 L147.6 497.56 L148.1 497.58 L148.6 497.63 L149.1 497.66 L149.6 497.92 L150.1 497.79 L150.6 497.93 L151.1 498.05 L151.6 497.99 L152.1 498.24 L152.6 498.27 L153.1 498.3 L153.6 498.36 L154.1 498.08 L154.6 498.5 L155.1 498.27 L155.6 498.27 L156.1 498.56 L156.6 498.36 L157.1 498.66 L157.6 498.74 L158.1 498.74 L158.6 498.83 L159.1 498.86 L159.6 498.84 L160.1 498.91 L160.6 499.01 L161.1 498.81 L161.6 498.8 L162.1 498.81 L162.6 498.89 L163.1 499.08 L163.6 499.27 L164.1 499.3 L164.6 499.24 L165.1 499.39 L165.6 499.27 L166.1 499.17 L166.6 499.44 L167.1 499.47 L167.6 499.64 L168.1 499.7 L168.6 499.54 L169.1 499.41 L169.6 499.68 L170.1 499.81 L170.6 499.7 L171.1 499.85 L171.6 499.76 L172.1 499.84 L172.6 499.78 L173.1 499.86 L173.6 499.85 L174.1 500.16 L174.6 500.13 L175.1 499.97 L175.6 500.12 L176.1 500.24 L176.6 500.25 L177.1 500.21 L177.6 500.15 L178.1 500.14 L178.6 500.34 L179.1 500.45 L179.6 500.41 L180.1 500.45 L180.6 500.47 L181.1 500.35 L181.6 500.48 L182.1 500.37 L182.6 500.38 L183.1 500.76 L183.6 500.57 L184.1 500.77 L184.6 500.59 L185.1 500.68 L185.6 500.71 L186.1 500.94 L186.6 500.82 L187.1 500.67 L187.6 500.88 L188.1 500.85 L188.6 500.86 L189.1 501.1 L189.6 500.94 L190.1 500.82 L190.6 500.89 L191.1 500.83 L191.6 501.13 L192.1 501.26 L192.6 501.25 L193.1 500.93 L193.6 501.04 L194.1 501.05 L194.6 501.3 L195.1 501.36 L195.6 501.07 L196.1 501.34 L196.6 501.45 L197.1 501.49 L197.6 501.13 L198.1 501.41 L198.6 501.2 L199.1 501.48 L199.6 501.55 L200.1 501.25 L200.6 501.48 L201.1 501.54 L201.6 501.61 L202.1 501.57 L202.6 501.5 L203.1 501.66 L203.6 501.68 L204.1 501.51 L204.6 501.8 L205.1 501.76 L205.6 501.69 L206.1 501.8 L206.6 501.61 L207.1 501.86 L207.6 501.8 L208.1 501.9 L208.6 501.67 L209.1 501.68 L209.6 501.83 L210.1 501.97 L210.6 501.96 L211.1 501.99 L211.6 501.77 L212.1 502 L212.6 502.06 L213.1 501.74 L213.6 502.04 L214.1 502.04 L214.6 501.85 L215.1 502.04 L215.6 501.86 L216.1 502.09 L216.6 501.99 L217.1 502.14 L217.6 501.92 L218.1 502.2 L218.6 502.06 L219.1 502.1 L219.6 501.96 L220.1 502.17 L220.6 502.13 L221.1 502.12 L221.6 501.94 L222.1 502.09 L222.6 502.2 L223.1 502.02 L223.6 502.11 L224.1 501.99 L224.6 502.39 L225.1 502.2 L225.6 502.12 L226.1 502.19 L226.6 502.34 L227.1 502.43 L227.6 502.07 L228.1 502.14 L228.6 502.09 L229.1 502.43 L229.6 502.47 L230.1 502.13 L230.6 502.27 L231.1 502.5 L231.6 502.36 L232.1 502.52 L232.6 502.3 L233.1 502.22 L233.6 502.56 L234.1 502.19 L234.6 502.32 L235.1 502.55 L235.6 502.22 L236.1 502.49 L236.6 502.61 L237.1 502.28 L237.6 502.6 L238.1 502.36 L238.6 502.55 L239.1 502.38 L239.6 502.31 L240.1 502.33 L240.6 502.33 L241.1 502.28 L241.6 502.36 L242.1 502.66 L242.6 502.67 L243.1 502.66 L243.6 502.49 L244.1 502.69 L244.6 502.58 L245.1 502.47 L245.6 502.53 L246.1 502.4 L246.6 502.37 L247.1 502.58 L247.6 502.71 L248.1 502.53 L248.6 502.48 L249.1 502.51 L249.6 502.58 L250.1 502.75 L250.6 502.79 L251.1 502.76 L251.6 502.49 L252.1 502.53 L252.6 502.5 L253.1 502.82 L253.6 502.8 L254.1 502.55 L254.6 502.46 L255.1 502.56 L255.6 502.46 L256.1 502.59 L256.6 502.46 L257.1 502.68 L257.6 502.65 L258.1 502.57 L258.6 502.54 L259.1 502.8 L259.6 502.57 L260.1 502.53 L260.6 502.7 L261.1 502.59 L261.6 502.79 L262.1 502.75 L262.6 502.55 L263.1 502.69 L263.6 502.55 L264.1 502.67 L264.6 502.88 L265.1 502.55 L265.6 502.74 L266.1 502.65 L266.6 502.88 L267.1 502.62 L267.6 502.8 L268.1 502.77 L268.6 502.77 L269.1 502.86 L269.6 502.92 L270.1 502.86 L270.6 502.88 L271.1 502.93 L271.6 502.78 L272.1 502.8 L272.6 502.6 L273.1 502.68 L273.6 502.64 L274.1 502.92 L274.6 502.64 L274.6 504.31 L274.1 504.12 L273.6 504.34 L273.1 504.15 L272.6 504.39 L272.1 504.27 L271.6 504.25 L271.1 504.33 L270.6 504.15 L270.1 504.27 L269.6 504.32 L269.1 504.39 L268.6 504.37 L268.1 504.35 L267.6 504.43 L267.1 504.28 L266.6 504.44 L266.1 504.19 L265.6 504.25 L265.1 504.42 L264.6 504.4 L264.1 504.3 L263.6 504.39 L263.1 504.21 L262.6 504.42 L262.1 504.47 L261.6 504.26 L261.1 504.44 L260.6 504.24 L260.1 504.29 L259.6 504.23 L259.1 504.41 L258.6 504.49 L258.1 504.25 L257.6 504.33 L257.1 504.48 L256.6 504.5 L256.1 504.25 L255.6 504.36 L255.1 504.47 L254.6 504.4 L254.1 504.35 L253.6 504.49 L253.1 504.46 L252.6 504.54 L252.1 504.35 L251.6 504.49 L251.1 504.4 L250.6 504.32 L250.1 504.43 L249.6 504.41 L249.1 504.39 L248.6 504.38 L248.1 504.35 L247.6 504.36 L247.1 504.56 L246.6 504.58 L246.1 504.63 L245.6 504.4 L245.1 504.43 L244.6 504.57 L244.1 504.49 L243.6 504.64 L243.1 504.47 L242.6 504.61 L242.1 504.6 L241.6 504.54 L241.1 504.52 L240.6 504.62 L240.1 504.64 L239.6 504.45 L239.1 504.53 L238.6 504.49 L238.1 504.71 L237.6 504.73 L237.1 504.7 L236.6 504.75 L236.1 504.6 L235.6 504.57 L235.1 504.71 L234.6 504.54 L234.1 504.58 L233.6 504.61 L233.1 504.54 L232.6 504.62 L232.1 504.69 L231.6 504.65 L231.1 504.72 L230.6 504.59 L230.1 504.77 L229.6 504.67 L229.1 504.84 L228.6 504.64 L228.1 504.62 L227.6 504.72 L227.1 504.71 L226.6 504.79 L226.1 504.83 L225.6 504.75 L225.1 504.88 L224.6 504.74 L224.1 504.83 L223.6 504.83 L223.1 504.72 L222.6 504.95 L222.1 504.76 L221.6 504.89 L221.1 504.79 L220.6 504.83 L220.1 504.91 L219.6 505.01 L219.1 504.83 L218.6 504.97 L218.1 504.81 L217.6 504.91 L217.1 504.86 L216.6 504.95 L216.1 505.09 L215.6 504.88 L215.1 505.11 L214.6 504.95 L214.1 505.06 L213.6 504.96 L213.1 504.91 L212.6 505.12 L212.1 505.14 L211.6 505.03 L211.1 504.95 L210.6 505.17 L210.1 505.01 L209.6 504.97 L209.1 505.16 L208.6 505.01 L208.1 505.08 L207.6 505.19 L207.1 505.01 L206.6 505.08 L206.1 505.11 L205.6 505.09 L205.1 505.12 L204.6 505.17 L204.1 505.32 L203.6 505.12 L203.1 505.12 L202.6 505.23 L202.1 505.24 L201.6 505.3 L201.1 505.19 L200.6 505.34 L200.1 505.27 L199.6 505.49 L199.1 505.26 L198.6 505.33 L198.1 505.29 L197.6 505.33 L197.1 505.51 L196.6 505.43 L196.1 505.57 L195.6 505.41 L195.1 505.4 L194.6 505.57 L194.1 505.49 L193.6 505.46 L193.1 505.7 L192.6 505.58 L192.1 505.74 L191.6 505.65 L191.1 505.58 L190.6 505.75 L190.1 505.79 L189.6 505.63 L189.1 505.81 L188.6 505.85 L188.1 505.61 L187.6 505.69 L187.1 505.81 L186.6 505.78 L186.1 505.95 L185.6 505.85 L185.1 505.96 L184.6 505.73 L184.1 505.84 L183.6 505.88 L183.1 505.86 L182.6 505.95 L182.1 506.07 L181.6 505.84 L181.1 505.91 L180.6 505.9 L180.1 505.98 L179.6 506.1 L179.1 506 L178.6 506.16 L178.1 505.95 L177.6 505.98 L177.1 506.22 L176.6 506.18 L176.1 506.25 L175.6 506.18 L175.1 506.09 L174.6 506.08 L174.1 506.09 L173.6 506.3 L173.1 506.12 L172.6 506.12 L172.1 506.21 L171.6 506.27 L171.1 506.4 L170.6 506.26 L170.1 506.29 L169.6 506.18 L169.1 506.26 L168.6 506.23 L168.1 506.13 L167.6 506.26 L167.1 506.22 L166.6 506.28 L166.1 506.11 L165.6 506 L165.1 506.19 L164.6 506.05 L164.1 506.18 L163.6 506.05 L163.1 505.92 L162.6 506.08 L162.1 506.16 L161.6 505.95 L161.1 506.01 L160.6 506.01 L160.1 505.86 L159.6 505.85 L159.1 505.93 L158.6 505.92 L158.1 505.84 L157.6 505.79 L157.1 505.86 L156.6 505.99 L156.1 506.01 L155.6 505.94 L155.1 505.89 L154.6 505.94 L154.1 505.7 L153.6 505.81 L153.1 505.89 L152.6 505.93 L152.1 505.72 L151.6 505.66 L151.1 505.84 L150.6 505.75 L150.1 505.68 L149.6 505.86 L149.1 505.73 L148.6 505.67 L148.1 505.66 L147.6 505.79 L147.1 505.75 L146.6 505.64 L146.1 505.62 L145.6 505.56 L145.1 505.53 L144.6 505.43 L144.1 505.54 L143.6 505.57 L143.1 505.63 L142.6 505.43 L142.1 505.49 L141.6 505.39 L141.1 505.38 L140.6 505.45 L140.1 505.38 L139.6 505.35 L139.1 505.47 L138.6 505.31 L138.1 505.36 L137.6 505.38 L137.1 505.22 L136.6 505.22 L136.1 505.03 L135.6 505 L135.1 505.24 L134.6 505.06 L134.1 504.96 L133.6 505.16 L133.1 505.09 L132.6 505.06 L132.1 504.87 L131.6 505.01 L131.1 504.72 L130.6 504.83 L130.1 504.79 L129.6 504.61 L129.1 504.61 L128.6 504.53 L128.1 504.55 L127.6 504.52 L127.1 504.57 L126.6 504.49 L126.1 504.29 L125.6 504.25 L125.1 504.24 L124.6 504.13 L124.1 504.04 L123.6 504.1 L123.1 503.96 L122.6 503.89 L122.1 503.8 L121.6 503.8 L121.1 503.8 L120.6 503.71 L120.1 503.52 L119.6 503.5 L119.1 503.54 L118.6 503.33 L118.1 503.28 L117.6 503.26 L117.1 502.96 L116.6 503.14 L116.1 502.83 L115.6 502.99 L115.1 502.84 L114.6 502.77 L114.1 502.59 L113.6 502.58 L113.1 502.48 L112.6 502.39 L112.1 502.22 L111.6 502.21 L111.1 502.12 L110.6 501.95 L110.1 501.86 L109.6 501.66 L109.1 501.54 L108.6 501.38 L108.1 501.45 L107.6 501.4 L107.1 501.07 L106.6 500.92 L106.1 501 L105.6 500.8 L105.1 500.67 L104.6 500.46 L104.1 500.46 L103.6 500.47 L103.1 500.11 L102.6 500.03 L102.1 500.1 L101.6 499.84 L101.1 499.93 L100.6 499.61 L100.1 499.56 L99.6 499.46 L99.1 499.25 L98.6 499.32 L98.1 499.05 L97.6 498.83 L97.1 498.89 L96.6 498.71 L96.1 498.63 L95.6 498.42 L95.1 498.3 L94.6 498.2 L94.1 498.13 L93.6 498.05 L93.1 497.9 L92.6 497.75 L92.1 497.7 L91.6 497.42 L91.1 497.42 L90.6 497.27 L90.1 497.15 L89.6 497.09 L89.1 496.87 L88.6 496.6 L88.1 496.52 L87.6 496.39 L87.1 496.29 L86.6 496.12 L86.1 495.93 L85.6 495.79 L85.1 495.65 L84.6 495.62 L84.1 495.44 L83.6 495.23 L83.1 495.15 L82.6 495.13 L82.1 494.86 L81.6 494.56 L81.1 494.56 L80.6 494.3 L80.1 494.14 L79.6 494.18 L79.1 493.86 L78.6 493.73 L78.1 493.49 L77.6 493.45 L77.1 493.38 L76.6 493.12 L76.1 492.88 L75.6 492.85 L75.1 492.58 L74.6 492.55 L74.1 492.22 L73.6 492.34 L73.1 492.2 L72.6 492.05 L72.1 491.86 L71.6 491.83 L71.1 491.65 L70.6 491.57 L70.1 491.19 L69.6 491.02 L69.1 491.03 L68.6 490.88 L68.1 490.63 L67.6 490.64 L67.1 490.46 L66.6 490.41 L66.1 490.21 L65.6 490.03 L65.1 490.11 L64.6 490 L64.1 489.74 L63.6 489.49 L63.1 489.61 L62.6 489.49 L62.1 489.41 L61.6 489.27 L61.1 489.22 L60.6 488.96 L60.1 488.84 L59.6 488.72 L59.1 488.67 L58.6 488.73 L58.1 488.71 L57.6 488.48 L57.1 488.46 L56.6 488.5 L56.1 488.32 L55.6 488.25 L55.1 488.36 L54.6 488.28 L54.1 488.03 L53.6 488.15 L53.1 488.05 L52.6 487.87 L52.1 488.03 L51.6 487.91 L51.1 487.73 L50.6 487.76 L50.1 487.64 L49.6 487.64 L49.1 487.67 L48.6 487.64 L48.1 487.49 L47.6 487.44 L47.1 487.61 L46.6 487.64 L46.1 487.39 L45.6 487.55 L45.1 487.48 L44.6 487.48 L44.1 487.48 L43.6 487.31 L43.1 487.36 L42.6 487.51Z" fill="#ff0000" stroke="none" />
<path d="M43.8 476.74V482.6" stroke="#fff" stroke-opacity="0.8" stroke-width="0.68" fill="none"/>
<path d="M46.07 476.31V483.03" stroke="#fff" stroke-opacity="0.8" stroke-width="0.49" fill="none"/>
<path d="M48.66 475.92V483.13" stroke="#fff" stroke-opacity="0.8" stroke-width="0.6" fill="none"/>
<path d="M50.67 475.7V480.66" stroke="#fff" stroke-opacity="0.8" stroke-width="0.4" fill="none"/>
<path d="M52.41 475.56V481.2" stroke="#fff" stroke-opacity="0.8" stroke-width="0.43" fill="none"/>
<path d="M55 475.43V479.86" stroke="#fff" stroke-opacity="0.8" stroke-width="0.49" fill="none"/>
<path d="M56.08 475.41V481.27" stroke="#fff" stroke-opacity="0.8" stroke-width="0.7" fill="none"/>
<path d="M58.83 475.44V480.16" stroke="#fff" stroke-opacity="0.8" stroke-width="0.41" fill="none"/>
<path d="M60.49 475.56V479.91" stroke="#fff" stroke-opacity="0.8" stroke-width="0.45" fill="none"/>
<path d="M63.39 475.9V479.84" stroke="#fff" stroke-opacity="0.8" stroke-width="0.46" fill="none"/>
<path d="M66.03 476.31V479.85" stroke="#fff" stroke-opacity="0.8" stroke-width="0.77" fill="none"/>
<path d="M67.93 476.64V480.49" stroke="#fff" stroke-opacity="0.8" stroke-width="0.54" fill="none"/>
<path d="M69.9 477V480.46" stroke="#fff" stroke-opacity="0.8" stroke-width="0.41" fill="none"/>
<path d="M42.6 486.7 L43.1 486.7 L43.6 486.7 L44.1 486.71 L44.6 486.71 L45.1 486.73 L45.6 486.74 L46.1 486.76 L46.6 486.78 L47.1 486.8 L47.6 486.82 L48.1 486.85 L48.6 486.88 L49.1 486.91 L49.6 486.95 L50.1 486.98 L50.6 487.02 L51.1 487.06 L51.6 487.1 L52.1 487.14 L52.6 487.18 L53.1 487.22 L53.6 487.27 L54.1 487.31 L54.6 487.36 L55.1 487.41 L55.6 487.45 L56.1 487.5 L56.6 487.55 L57.1 487.6 L57.6 487.65 L58.1 487.71 L58.6 487.77 L59.1 487.84 L59.6 487.91 L60.1 487.98 L60.6 488.06 L61.1 488.14 L61.6 488.23 L62.1 488.32 L62.6 488.41 L63.1 488.5 L63.6 488.6 L64.1 488.7 L64.6 488.81 L65.1 488.91 L65.6 489.02 L66.1 489.13 L66.6 489.24 L67.1 489.35 L67.6 489.46 L68.1 489.57 L68.6 489.69 L69.1 489.8 L69.6 489.91 L70.1 490.03 L70.6 490.14 L71.1 490.25 L71.6 490.37 L72.1 490.48 L72.6 490.59 L73.1 490.7 L73.6 490.82 L74.1 490.94 L74.6 491.07 L75.1 491.19 L75.6 491.32 L76.1 491.45 L76.6 491.58 L77.1 491.72 L77.6 491.85 L78.1 491.99 L78.6 492.13 L79.1 492.26 L79.6 492.4 L80.1 492.54 L80.6 492.68 L81.1 492.82 L81.6 492.95 L82.1 493.09 L82.6 493.23 L83.1 493.36 L83.6 493.5 L84.1 493.63 L84.6 493.76 L85.1 493.89 L85.6 494.01 L86.1 494.14 L86.6 494.26 L87.1 494.38 L87.6 494.49 L88.1 494.61 L88.6 494.72 L89.1 494.84 L89.6 494.95 L90.1 495.06 L90.6 495.17 L91.1 495.28 L91.6 495.39 L92.1 495.5 L92.6 495.61 L93.1 495.72 L93.6 495.82 L94.1 495.93 L94.6 496.03 L95.1 496.14 L95.6 496.24 L96.1 496.34 L96.6 496.44 L97.1 496.54 L97.6 496.64 L98.1 496.74 L98.6 496.84 L99.1 496.94 L99.6 497.03 L100.1 497.13 L100.6 497.22 L101.1 497.31 L101.6 497.4 L102.1 497.5 L102.6 497.59 L103.1 497.68 L103.6 497.78 L104.1 497.87 L104.6 497.96 L105.1 498.05 L105.6 498.14 L106.1 498.23 L106.6 498.32 L107.1 498.41 L107.6 498.5 L108.1 498.59 L108.6 498.67 L109.1 498.76 L109.6 498.84 L110.1 498.93 L110.6 499.01 L111.1 499.09 L111.6 499.17 L112.1 499.25 L112.6 499.33 L113.1 499.4 L113.6 499.48 L114.1 499.55 L114.6 499.63 L115.1 499.7 L115.6 499.77 L116.1 499.83 L116.6 499.9 L117.1 499.96 L117.6 500.02 L118.1 500.09 L118.6 500.15 L119.1 500.21 L119.6 500.27 L120.1 500.33 L120.6 500.39 L121.1 500.44 L121.6 500.5 L122.1 500.56 L122.6 500.61 L123.1 500.67 L123.6 500.72 L124.1 500.78 L124.6 500.83 L125.1 500.88 L125.6 500.93 L126.1 500.98 L126.6 501.03 L127.1 501.07 L127.6 501.12 L128.1 501.16 L128.6 501.21 L129.1 501.25 L129.6 501.29 L130.1 501.33 L130.6 501.37 L131.1 501.41 L131.6 501.44 L132.1 501.47 L132.6 501.51 L133.1 501.54 L133.6 501.57 L134.1 501.6 L134.6 501.63 L135.1 501.65 L135.6 501.68 L136.1 501.71 L136.6 501.73 L137.1 501.76 L137.6 501.79 L138.1 501.81 L138.6 501.83 L139.1 501.86 L139.6 501.88 L140.1 501.9 L140.6 501.92 L141.1 501.95 L141.6 501.97 L142.1 501.99 L142.6 502.01 L143.1 502.03 L143.6 502.05 L144.1 502.07 L144.6 502.09 L145.1 502.11 L145.6 502.13 L146.1 502.15 L146.6 502.17 L147.1 502.18 L147.6 502.2 L148.1 502.22 L148.6 502.24 L149.1 502.26 L149.6 502.28 L150.1 502.29 L150.6 502.31 L151.1 502.33 L151.6 502.34 L152.1 502.36 L152.6 502.38 L153.1 502.39 L153.6 502.41 L154.1 502.42 L154.6 502.44 L155.1 502.45 L155.6 502.47 L156.1 502.48 L156.6 502.5 L157.1 502.51 L157.6 502.53 L158.1 502.54 L158.6 502.56 L159.1 502.57 L159.6 502.59 L160.1 502.6 L160.6 502.62 L161.1 502.63 L161.6 502.65 L162.1 502.67 L162.6 502.68 L163.1 502.7 L163.6 502.72 L164.1 502.74 L164.6 502.75 L165.1 502.77 L165.6 502.79 L166.1 502.8 L166.6 502.82 L167.1 502.83 L167.6 502.84 L168.1 502.86 L168.6 502.87 L169.1 502.88 L169.6 502.89 L170.1 502.89 L170.6 502.9 L171.1 502.91 L171.6 502.91 L172.1 502.92 L172.6 502.92 L173.1 502.93 L173.6 502.93 L174.1 502.93 L174.6 502.94 L175.1 502.94 L175.6 502.95 L176.1 502.95 L176.6 502.95 L177.1 502.95 L177.6 502.96 L178.1 502.96 L178.6 502.96 L179.1 502.97 L179.6 502.97 L180.1 502.97 L180.6 502.97 L181.1 502.98 L181.6 502.98 L182.1 502.98 L182.6 502.99 L183.1 502.99 L183.6 502.99 L184.1 502.99 L184.6 503 L185.1 503 L185.6 503 L186.1 503.01 L186.6 503.01 L187.1 503.02 L187.6 503.02 L188.1 503.02 L188.6 503.03 L189.1 503.03 L189.6 503.03 L190.1 503.04 L190.6 503.04 L191.1 503.04 L191.6 503.05 L192.1 503.05 L192.6 503.05 L193.1 503.06 L193.6 503.06 L194.1 503.06 L194.6 503.07 L195.1 503.07 L195.6 503.07 L196.1 503.08 L196.6 503.08 L197.1 503.09 L197.6 503.09 L198.1 503.09 L198.6 503.09 L199.1 503.1 L199.6 503.1 L200.1 503.1 L200.6 503.11 L201.1 503.11 L201.6 503.11 L202.1 503.12 L202.6 503.12 L203.1 503.12 L203.6 503.13 L204.1 503.13 L204.6 503.13 L205.1 503.13 L205.6 503.14 L206.1 503.14 L206.6 503.14 L207.1 503.15 L207.6 503.15 L208.1 503.15 L208.6 503.15 L209.1 503.16 L209.6 503.16 L210.1 503.16 L210.6 503.16 L211.1 503.17 L211.6 503.17 L212.1 503.17 L212.6 503.18 L213.1 503.18 L213.6 503.18 L214.1 503.19 L214.6 503.19 L215.1 503.19 L215.6 503.19 L216.1 503.2 L216.6 503.2 L217.1 503.2 L217.6 503.21 L218.1 503.21 L218.6 503.22 L219.1 503.22 L219.6 503.22 L220.1 503.23 L220.6 503.23 L221.1 503.23 L221.6 503.24 L222.1 503.24 L222.6 503.25 L223.1 503.25 L223.6 503.26 L224.1 503.26 L224.6 503.26 L225.1 503.27 L225.6 503.27 L226.1 503.28 L226.6 503.28 L227.1 503.29 L227.6 503.29 L228.1 503.29 L228.6 503.3 L229.1 503.3 L229.6 503.31 L230.1 503.31 L230.6 503.32 L231.1 503.32 L231.6 503.32 L232.1 503.33 L232.6 503.33 L233.1 503.34 L233.6 503.34 L234.1 503.34 L234.6 503.35 L235.1 503.35 L235.6 503.36 L236.1 503.36 L236.6 503.36 L237.1 503.37 L237.6 503.37 L238.1 503.37 L238.6 503.38 L239.1 503.38 L239.6 503.38 L240.1 503.39 L240.6 503.39 L241.1 503.39 L241.6 503.39 L242.1 503.4 L242.6 503.4 L243.1 503.4 L243.6 503.4 L244.1 503.41 L244.6 503.41 L245.1 503.41 L245.6 503.41 L246.1 503.42 L246.6 503.42 L247.1 503.42 L247.6 503.42 L248.1 503.42 L248.6 503.43 L249.1 503.43 L249.6 503.43 L250.1 503.43 L250.6 503.43 L251.1 503.44 L251.6 503.44 L252.1 503.44 L252.6 503.44 L253.1 503.44 L253.6 503.45 L254.1 503.45 L254.6 503.45 L255.1 503.45 L255.6 503.45 L256.1 503.46 L256.6 503.46 L257.1 503.46 L257.6 503.46 L258.1 503.46 L258.6 503.46 L259.1 503.47 L259.6 503.47 L260.1 503.47 L260.6 503.47 L261.1 503.47 L261.6 503.47 L262.1 503.48 L262.6 503.48 L263.1 503.48 L263.6 503.48 L264.1 503.48 L264.6 503.48 L265.1 503.48 L265.6 503.49 L266.1 503.49 L266.6 503.49 L267.1 503.49 L267.6 503.49 L268.1 503.49 L268.6 503.49 L269.1 503.49 L269.6 503.49 L270.1 503.49 L270.6 503.5 L271.1 503.5 L271.6 503.5 L272.1 503.5 L272.6 503.5 L273.1 503.5 L273.6 503.5 L274.1 503.5 L274.6 503.5" fill="none" stroke="#00ff00" stroke-width="1.1" stroke-linejoin="round" />
<path d="M42.6 557.76 L43.1 557.45 L43.6 557.14 L44.1 556.83 L44.6 556.51 L45.1 556.2 L45.6 555.88 L46.1 555.57 L46.6 555.25 L47.1 554.93 L47.6 554.6 L48.1 554.28 L48.6 553.95 L49.1 553.63 L49.6 553.3 L50.1 552.97 L50.6 552.64 L51.1 552.31 L51.6 551.97 L52.1 551.64 L52.6 551.3 L53.1 550.96 L53.6 550.62 L54.1 550.28 L54.6 549.94 L55.1 549.59 L55.6 549.25 L56.1 548.9 L56.6 548.55 L57.1 548.2 L57.6 547.85 L58.1 547.49 L58.6 547.12 L59.1 546.75 L59.6 546.37 L60.1 545.99 L60.6 545.61 L61.1 545.22 L61.6 544.83 L62.1 544.44 L62.6 544.04 L63.1 543.65 L63.6 543.26 L64.1 542.86 L64.6 542.47 L65.1 542.07 L65.6 541.68 L66.1 541.29 L66.6 540.9 L67.1 540.52 L67.6 540.14 L68.1 539.76 L68.6 539.39 L69.1 539.02 L69.6 538.66 L70.1 538.31 L70.6 537.96 L71.1 537.62 L71.6 537.29 L72.1 536.96 L72.6 536.65 L73.1 536.33 L73.6 536.01 L74.1 535.7 L74.6 535.39 L75.1 535.08 L75.6 534.77 L76.1 534.46 L76.6 534.16 L77.1 533.86 L77.6 533.56 L78.1 533.26 L78.6 532.97 L79.1 532.68 L79.6 532.4 L80.1 532.12 L80.6 531.84 L81.1 531.56 L81.6 531.29 L82.1 531.03 L82.6 530.76 L83.1 530.51 L83.6 530.26 L84.1 530.01 L84.6 529.77 L85.1 529.53 L85.6 529.3 L86.1 529.07 L86.6 528.86 L87.1 528.64 L87.6 528.43 L88.1 528.23 L88.6 528.02 L89.1 527.82 L89.6 527.62 L90.1 527.42 L90.6 527.22 L91.1 527.03 L91.6 526.84 L92.1 526.65 L92.6 526.47 L93.1 526.29 L93.6 526.11 L94.1 525.93 L94.6 525.76 L95.1 525.6 L95.6 525.44 L96.1 525.28 L96.6 525.13 L97.1 524.98 L97.6 524.83 L98.1 524.69 L98.6 524.56 L99.1 524.43 L99.6 524.31 L100.1 524.19 L100.6 524.08 L101.1 523.97 L101.6 523.86 L102.1 523.76 L102.6 523.65 L103.1 523.55 L103.6 523.45 L104.1 523.35 L104.6 523.26 L105.1 523.16 L105.6 523.07 L106.1 522.98 L106.6 522.89 L107.1 522.8 L107.6 522.72 L108.1 522.63 L108.6 522.55 L109.1 522.47 L109.6 522.39 L110.1 522.32 L110.6 522.24 L111.1 522.17 L111.6 522.1 L112.1 522.03 L112.6 521.96 L113.1 521.89 L113.6 521.83 L114.1 521.77 L114.6 521.71 L115.1 521.65 L115.6 521.59 L116.1 521.54 L116.6 521.48 L117.1 521.43 L117.6 521.38 L118.1 521.33 L118.6 521.28 L119.1 521.23 L119.6 521.19 L120.1 521.14 L120.6 521.1 L121.1 521.05 L121.6 521.01 L122.1 520.96 L122.6 520.92 L123.1 520.88 L123.6 520.84 L124.1 520.8 L124.6 520.76 L125.1 520.72 L125.6 520.69 L126.1 520.65 L126.6 520.62 L127.1 520.59 L127.6 520.55 L128.1 520.52 L128.6 520.49 L129.1 520.46 L129.6 520.44 L130.1 520.41 L130.6 520.38 L131.1 520.36 L131.6 520.34 L132.1 520.32 L132.6 520.3 L133.1 520.28 L133.6 520.26 L134.1 520.24 L134.6 520.22 L135.1 520.2 L135.6 520.19 L136.1 520.17 L136.6 520.15 L137.1 520.14 L137.6 520.12 L138.1 520.1 L138.6 520.09 L139.1 520.07 L139.6 520.06 L140.1 520.05 L140.6 520.03 L141.1 520.02 L141.6 520.01 L142.1 520 L142.6 519.99 L143.1 519.97 L143.6 519.96 L144.1 519.95 L144.6 519.94 L145.1 519.94 L145.6 519.93 L146.1 519.92 L146.6 519.91 L147.1 519.91 L147.6 519.9 L148.1 519.89 L148.6 519.89 L149.1 519.88 L149.6 519.88 L150.1 519.87 L150.6 519.87 L151.1 519.86 L151.6 519.86 L152.1 519.86 L152.6 519.85 L153.1 519.85 L153.6 519.85 L154.1 519.84 L154.6 519.84 L155.1 519.84 L155.6 519.83 L156.1 519.83 L156.6 519.83 L157.1 519.82 L157.6 519.82 L158.1 519.82 L158.6 519.81 L159.1 519.81 L159.6 519.8 L160.1 519.8 L160.6 519.79 L161.1 519.79 L161.6 519.79 L162.1 519.78 L162.6 519.78 L163.1 519.77 L163.6 519.77 L164.1 519.76 L164.6 519.76 L165.1 519.75 L165.6 519.75 L166.1 519.74 L166.6 519.74 L167.1 519.73 L167.6 519.73 L168.1 519.72 L168.6 519.72 L169.1 519.71 L169.6 519.71 L170.1 519.7 L170.6 519.7 L171.1 519.7 L171.6 519.69 L172.1 519.69 L172.6 519.68 L173.1 519.68 L173.6 519.67 L174.1 519.67 L174.6 519.66 L175.1 519.66 L175.6 519.65 L176.1 519.65 L176.6 519.64 L177.1 519.64 L177.6 519.64 L178.1 519.63 L178.6 519.63 L179.1 519.62 L179.6 519.62 L180.1 519.62 L180.6 519.61 L181.1 519.61 L181.6 519.61 L182.1 519.61 L182.6 519.6 L183.1 519.6 L183.6 519.6 L184.1 519.6 L184.6 519.6 L185.1 519.6 L185.6 519.6 L186.1 519.6 L186.6 519.6 L187.1 519.6 L187.6 519.6 L188.1 519.6 L188.6 519.6 L189.1 519.6 L189.6 519.6 L190.1 519.6 L190.6 519.6 L191.1 519.6 L191.6 519.6 L192.1 519.6 L192.6 519.6 L193.1 519.6 L193.6 519.6 L194.1 519.6 L194.6 519.6 L195.1 519.6 L195.6 519.6 L196.1 519.6 L196.6 519.6 L197.1 519.6 L197.6 519.6 L198.1 519.6 L198.6 519.6 L199.1 519.6 L199.6 519.6 L200.1 519.6 L200.6 519.6 L201.1 519.6 L201.6 519.6 L202.1 519.59 L202.6 519.59 L203.1 519.59 L203.6 519.59 L204.1 519.59 L204.6 519.58 L205.1 519.58 L205.6 519.58 L206.1 519.57 L206.6 519.57 L207.1 519.57 L207.6 519.56 L208.1 519.56 L208.6 519.55 L209.1 519.55 L209.6 519.55 L210.1 519.54 L210.6 519.54 L211.1 519.53 L211.6 519.53 L212.1 519.53 L212.6 519.52 L213.1 519.52 L213.6 519.52 L214.1 519.51 L214.6 519.51 L215.1 519.51 L215.6 519.5 L216.1 519.5 L216.6 519.5 L217.1 519.5 L217.6 519.49 L218.1 519.49 L218.6 519.49 L219.1 519.49 L219.6 519.49 L220.1 519.48 L220.6 519.48 L221.1 519.48 L221.6 519.48 L222.1 519.47 L222.6 519.47 L223.1 519.47 L223.6 519.47 L224.1 519.47 L224.6 519.46 L225.1 519.46 L225.6 519.46 L226.1 519.46 L226.6 519.46 L227.1 519.45 L227.6 519.45 L228.1 519.45 L228.6 519.45 L229.1 519.45 L229.6 519.45 L230.1 519.44 L230.6 519.44 L231.1 519.44 L231.6 519.44 L232.1 519.44 L232.6 519.43 L233.1 519.43 L233.6 519.43 L234.1 519.43 L234.6 519.43 L235.1 519.43 L235.6 519.42 L236.1 519.42 L236.6 519.42 L237.1 519.42 L237.6 519.42 L238.1 519.42 L238.6 519.41 L239.1 519.41 L239.6 519.41 L240.1 519.41 L240.6 519.41 L241.1 519.41 L241.6 519.4 L242.1 519.4 L242.6 519.4 L243.1 519.4 L243.6 519.4 L244.1 519.4 L244.6 519.39 L245.1 519.39 L245.6 519.39 L246.1 519.39 L246.6 519.39 L247.1 519.39 L247.6 519.38 L248.1 519.38 L248.6 519.38 L249.1 519.38 L249.6 519.38 L250.1 519.38 L250.6 519.37 L251.1 519.37 L251.6 519.37 L252.1 519.37 L252.6 519.37 L253.1 519.37 L253.6 519.36 L254.1 519.36 L254.6 519.36 L255.1 519.36 L255.6 519.36 L256.1 519.36 L256.6 519.35 L257.1 519.35 L257.6 519.35 L258.1 519.35 L258.6 519.35 L259.1 519.35 L259.6 519.34 L260.1 519.34 L260.6 519.34 L261.1 519.34 L261.6 519.34 L262.1 519.34 L262.6 519.34 L263.1 519.33 L263.6 519.33 L264.1 519.33 L264.6 519.33 L265.1 519.33 L265.6 519.33 L266.1 519.33 L266.6 519.32 L267.1 519.32 L267.6 519.32 L268.1 519.32 L268.6 519.32 L269.1 519.32 L269.6 519.32 L270.1 519.31 L270.6 519.31 L271.1 519.31 L271.6 519.31 L272.1 519.31 L272.6 519.31 L273.1 519.31 L273.6 519.3 L274.1 519.3 L274.6 519.3" fill="none" stroke="#00ff00" stroke-width="1.2" stroke-linejoin="round" />
<path d="M235 519.4H275" stroke="#0000ff" stroke-opacity="0.45" stroke-width="1.2" fill="none"/>
</g>
<text transform="translate(182.7 487.5) scale(1.25 1)" font-family='"Liberation Serif", serif' font-size="15.2" fill="#ff0000" stroke="#ff0000" stroke-width="0.42" font-style="italic" >J</text>
<text transform="translate(191.9 491.6) scale(1.25 1)" font-family='"Liberation Serif", serif' font-size="10.2" fill="#ff0000" stroke="#ff0000" stroke-width="0.42" >2</text>
<text transform="translate(182.4 545) scale(1.1 1)" font-family='"Liberation Serif", serif' font-size="14.5" fill="#0000ff" stroke="#0000ff" stroke-width="0.42" font-style="italic" >&#1013;</text>
<path d="M100.7 617.1 v-9 M100.7 437.9 v9 M158.8 617.1 v-9 M158.8 437.9 v9 M216.9 617.1 v-9 M216.9 437.9 v9" stroke="#000" stroke-width="1.8" fill="none"/>
<rect x="42.6" y="437.9" width="232.4" height="179.2" fill="none" stroke="#000" stroke-width="2"/>
<path d="M365.85 437.9 V617.1 M424.5 437.9 V617.1 M483.15 437.9 V617.1 M307.2 467.77 H541.8 M307.2 497.63 H541.8 M307.2 527.5 H541.8 M307.2 557.37 H541.8 M307.2 587.23 H541.8" stroke="#000" stroke-opacity="0.62" stroke-width="1" stroke-dasharray="1.35 3.08" fill="none"/>
<path d="M307.2 467.77 h9 M541.8 467.77 h-9 M307.2 497.63 h9 M541.8 497.63 h-9 M307.2 527.5 h9 M541.8 527.5 h-9 M307.2 557.37 h9 M541.8 557.37 h-9 M307.2 587.23 h9 M541.8 587.23 h-9" stroke="#000" stroke-width="1.8" fill="none"/>
<g clip-path="url(#cp12)">
<path d="M307.2 528.12 L307.55 527.59 L307.9 520.82 L308.25 523.22 L308.6 520.61 L308.95 520.83 L309.3 520.81 L309.65 522.32 L310 533.16 L310.35 532.63 L310.7 520.95 L311.05 520.71 L311.4 521.09 L311.75 520.74 L312.1 520.6 L312.45 520.76 L312.8 521.04 L313.15 521.01 L313.5 520.64 L313.85 521.03 L314.2 520.76 L314.55 520.65 L314.9 524.04 L315.25 523.51 L315.6 522.99 L315.95 522.47 L316.3 521.94 L316.65 521.42 L317 521.07 L317.35 520.73 L317.7 520.77 L318.05 520.66 L318.4 520.89 L318.75 528.06 L319.1 520.91 L319.45 520.91 L319.8 527.03 L320.15 526.5 L320.5 525.98 L320.85 520.9 L321.2 529.83 L321.55 529.3 L321.9 528.77 L322.25 520.94 L322.6 520.8 L322.95 520.93 L323.3 520.61 L323.65 526.5 L324 524.44 L324.35 520.85 L324.7 520.72 L325.05 520.9 L325.4 520.9 L325.75 520.73 L326.1 520.63 L326.45 520.91 L326.8 525.98 L327.15 520.63 L327.5 524.43 L327.85 520.77 L328.2 520.69 L328.55 524.93 L328.9 524.41 L329.25 520.71 L329.6 522.86 L329.95 520.73 L330.3 521.08 L330.65 520.85 L331 521.18 L331.35 522.56 L331.7 526.26 L332.05 525.73 L332.4 525.21 L332.75 524.68 L333.1 524.16 L333.45 523.63 L333.8 520.83 L334.15 520.84 L334.5 521.01 L334.85 520.66 L335.2 524.25 L335.55 520.74 L335.9 520.63 L336.25 520.65 L336.6 520.92 L336.95 520.91 L337.3 520.76 L337.65 524.23 L338 520.67 L338.35 520.94 L338.7 520.71 L339.05 520.72 L339.4 522.9 L339.75 524.34 L340.1 523.81 L340.45 522.62 L340.8 522.1 L341.15 521.57 L341.5 520.7 L341.85 520.78 L342.2 520.71 L342.55 520.92 L342.9 520.94 L343.25 520.67 L343.6 520.81 L343.95 520.78 L344.3 520.8 L344.65 520.62 L345 524.94 L345.35 520.91 L345.7 520.77 L346.05 522.84 L346.4 522.32 L346.75 522.93 L347.1 520.64 L347.45 522.03 L347.8 521.51 L348.15 522.05 L348.5 520.82 L348.85 520.81 L349.2 523.18 L349.55 522.65 L349.9 522.13 L350.25 522.83 L350.6 520.75 L350.95 521.65 L351.3 522.79 L351.65 522.01 L352 521.49 L352.35 520.81 L352.7 520.65 L353.05 523.4 L353.4 522.87 L353.75 522.35 L354.1 520.75 L354.45 522.64 L354.8 522.62 L355.15 521.64 L355.5 520.85 L355.85 520.74 L356.2 520.94 L356.55 523.33 L356.9 520.74 L357.25 520.84 L357.6 520.74 L357.95 521.25 L358.3 522.14 L358.65 521.62 L359 520.8 L359.35 523.43 L359.7 522.91 L360.05 522.39 L360.4 521.86 L360.75 521.19 L361.1 520.94 L361.45 520.82 L361.8 521.92 L362.15 521.4 L362.5 521.58 L362.85 520.75 L363.2 520.73 L363.55 520.8 L363.9 520.7 L364.25 520.67 L364.6 522.7 L364.95 522.18 L365.3 521.66 L365.65 520.69 L366 520.85 L366.35 520.89 L366.7 521.72 L367.05 521.37 L367.4 520.85 L367.75 520.75 L368.1 520.95 L368.45 520.68 L368.8 520.87 L369.15 521.07 L369.5 520.82 L369.85 521.14 L370.2 520.62 L370.55 521.28 L370.9 520.76 L371.25 520.79 L371.6 521.21 L371.95 520.89 L372.3 522.04 L372.65 521.12 L373 521.79 L373.35 520.86 L373.7 520.97 L374.05 520.83 L374.4 520.7 L374.75 520.97 L375.1 521.78 L375.45 521.26 L375.8 521.69 L376.15 521.16 L376.5 520.71 L376.85 522.25 L377.2 521.73 L377.55 520.9 L377.9 520.89 L378.25 521.83 L378.6 521.28 L378.95 520.83 L379.3 521.4 L379.65 521.75 L380 520.65 L380.35 520.69 L380.7 520.78 L381.05 521.17 L381.4 521.33 L381.75 520.74 L382.1 520.9 L382.45 520.91 L382.8 520.78 L383.15 520.75 L383.5 521.7 L383.85 521.18 L384.2 520.66 L384.55 521.46 L384.9 521.14 L385.25 520.7 L385.6 521.48 L385.95 520.81 L386.3 521.32 L386.65 521.84 L387 521.32 L387.35 520.94 L387.7 521.17 L388.05 520.83 L388.4 521.05 L388.75 520.81 L389.1 520.86 L389.45 520.82 L389.8 521.03 L390.15 521.64 L390.5 521.11 L390.85 521.23 L391.2 520.71 L391.55 521.48 L391.9 521.15 L392.25 520.71 L392.6 520.91 L392.95 521.15 L393.3 521.77 L393.65 521.25 L394 520.76 L394.35 520.88 L394.7 520.7 L395.05 520.7 L395.4 521.15 L395.75 520.72 L396.1 520.85 L396.45 520.63 L396.8 521.3 L397.15 521.44 L397.5 520.92 L397.85 521.47 L398.2 520.87 L398.55 520.88 L398.9 521.4 L399.25 520.88 L399.6 520.97 L399.95 521.14 L400.3 520.66 L400.65 520.79 L401 520.65 L401.35 520.78 L401.7 520.67 L402.05 520.67 L402.4 521.15 L402.75 520.73 L403.1 521.34 L403.45 520.8 L403.8 521.56 L404.15 520.64 L404.5 521.27 L404.85 520.66 L405.2 520.67 L405.55 520.83 L405.9 520.86 L406.25 520.88 L406.6 520.85 L406.95 520.66 L407.3 520.98 L407.65 520.99 L408 520.76 L408.35 520.84 L408.7 520.77 L409.05 520.9 L409.4 521.17 L409.75 520.75 L410.1 520.86 L410.45 520.81 L410.8 520.89 L411.15 520.94 L411.5 520.78 L411.85 520.82 L412.2 520.94 L412.55 520.75 L412.9 521.16 L413.25 521.04 L413.6 520.6 L413.95 520.72 L414.3 520.74 L414.65 520.62 L415 520.71 L415.35 520.94 L415.7 521 L416.05 521.13 L416.4 521.39 L416.75 520.67 L417.1 520.87 L417.45 520.9 L417.8 521.22 L418.15 520.75 L418.5 520.72 L418.85 520.73 L419.2 520.81 L419.55 521.28 L419.9 520.63 L420.25 520.96 L420.6 520.7 L420.95 520.63 L421.3 520.69 L421.65 520.67 L422 520.61 L422.35 520.73 L422.7 520.82 L423.05 521.11 L423.4 520.9 L423.75 520.93 L424.1 520.66 L424.45 520.99 L424.8 520.68 L425.15 520.96 L425.5 520.85 L425.85 520.66 L426.2 520.9 L426.55 520.93 L426.9 520.79 L427.25 520.73 L427.6 520.98 L427.95 520.63 L428.3 520.7 L428.65 520.88 L429 520.76 L429.35 521 L429.7 520.98 L430.05 520.99 L430.4 520.73 L430.75 520.87 L431.1 520.84 L431.45 521.08 L431.8 520.81 L432.15 520.82 L432.5 520.9 L432.85 520.76 L433.2 520.73 L433.55 520.73 L433.9 520.7 L434.25 521.05 L434.6 520.67 L434.95 520.93 L435.3 520.72 L435.65 520.85 L436 520.95 L436.35 520.85 L436.7 520.79 L437.05 520.71 L437.4 520.62 L437.75 520.65 L438.1 520.8 L438.45 520.89 L438.8 520.65 L439.15 520.94 L439.5 520.68 L439.85 520.64 L440.2 520.8 L440.55 520.7 L440.9 520.68 L441.25 520.93 L441.6 520.79 L441.95 520.74 L442.3 520.7 L442.65 520.85 L443 520.81 L443.35 520.85 L443.7 520.61 L444.05 520.75 L444.4 520.9 L444.75 520.72 L445.1 520.69 L445.45 520.91 L445.8 521.06 L446.15 520.82 L446.5 520.93 L446.85 520.88 L447.2 520.71 L447.55 520.65 L447.9 520.84 L448.25 520.74 L448.6 520.94 L448.95 520.89 L449.3 520.96 L449.65 520.84 L450 520.89 L450.35 520.77 L450.7 520.9 L451.05 520.74 L451.4 520.64 L451.75 520.85 L452.1 520.95 L452.45 520.9 L452.8 520.97 L453.15 520.69 L453.5 520.91 L453.85 520.8 L454.2 520.82 L454.55 520.64 L454.9 520.68 L455.25 521.04 L455.6 520.89 L455.95 521.18 L456.3 520.66 L456.65 521.11 L457 520.79 L457.35 520.92 L457.7 520.87 L458.05 520.74 L458.4 520.88 L458.75 520.93 L459.1 520.72 L459.45 520.65 L459.8 520.79 L460.15 520.62 L460.5 520.67 L460.85 520.67 L461.2 520.94 L461.55 520.92 L461.9 521.12 L462.25 521.03 L462.6 520.66 L462.95 520.86 L463.3 520.96 L463.65 520.88 L464 520.74 L464.35 520.87 L464.7 520.96 L465.05 520.81 L465.4 520.78 L465.75 520.73 L466.1 520.95 L466.45 520.9 L466.8 520.79 L467.15 520.66 L467.5 520.78 L467.85 521.02 L468.2 520.71 L468.55 520.97 L468.9 520.9 L469.25 521.05 L469.6 520.99 L469.95 520.73 L470.3 521.01 L470.65 520.78 L471 521 L471.35 520.75 L471.7 520.89 L472.05 520.86 L472.05 540.63 L471.7 538.27 L471.35 536.79 L471 535.8 L470.65 535.14 L470.3 534.66 L469.95 534.51 L469.6 533.96 L469.25 533.51 L468.9 533.24 L468.55 533.13 L468.2 533.19 L467.85 532.6 L467.5 532.77 L467.15 532.6 L466.8 532.25 L466.45 531.99 L466.1 531.87 L465.75 531.92 L465.4 531.69 L465.05 531.6 L464.7 531.73 L464.35 531.63 L464 531.52 L463.65 531.81 L463.3 531.53 L462.95 531.3 L462.6 531.29 L462.25 531.73 L461.9 531.46 L461.55 531.23 L461.2 531.27 L460.85 531.25 L460.5 531.47 L460.15 531.4 L459.8 531.65 L459.45 532.73 L459.1 533.6 L458.75 536.81 L458.4 541.23 L458.05 540.06 L457.7 539.44 L457.35 539.12 L457 538.71 L456.65 538.65 L456.3 538.29 L455.95 538.21 L455.6 538.1 L455.25 537.93 L454.9 538.1 L454.55 538.14 L454.2 537.64 L453.85 537.58 L453.5 537.56 L453.15 537.48 L452.8 537.85 L452.45 537.41 L452.1 537.38 L451.75 537.41 L451.4 537.34 L451.05 537.63 L450.7 537.33 L450.35 537.82 L450 537.67 L449.65 537.54 L449.3 537.75 L448.95 538.34 L448.6 539.81 L448.25 542.88 L447.9 547.76 L447.55 545.91 L447.2 545.46 L446.85 544.9 L446.5 544.3 L446.15 543.97 L445.8 543.79 L445.45 543.55 L445.1 543.51 L444.75 543.45 L444.4 543.18 L444.05 543.09 L443.7 543.02 L443.35 542.96 L443 542.96 L442.65 542.89 L442.3 543.4 L441.95 543.69 L441.6 542.86 L441.25 542.89 L440.9 543 L440.55 543.32 L440.2 543.81 L439.85 545.14 L439.5 548.51 L439.15 549.95 L438.8 548.64 L438.45 548.29 L438.1 548.19 L437.75 548.65 L437.4 547.72 L437.05 547.62 L436.7 547.59 L436.35 547.47 L436 547.42 L435.65 547.63 L435.3 548.64 L434.95 547.47 L434.6 547.36 L434.25 547.43 L433.9 547.52 L433.55 547.8 L433.2 548.45 L432.85 550.2 L432.5 553.55 L432.15 554.1 L431.8 552.98 L431.45 552.13 L431.1 552.1 L430.75 551.78 L430.4 552.2 L430.05 551.68 L429.7 551.53 L429.35 551.67 L429 551.47 L428.65 551.8 L428.3 552.32 L427.95 551.59 L427.6 551.84 L427.25 552.75 L426.9 553.68 L426.55 556.64 L426.2 556.68 L425.85 556.12 L425.5 555.7 L425.15 555.42 L424.8 556.24 L424.45 555.09 L424.1 555 L423.75 554.94 L423.4 554.9 L423.05 554.91 L422.7 555.06 L422.35 555.16 L422 556.64 L421.65 556.68 L421.3 559.13 L420.95 559.75 L420.6 559.09 L420.25 558.66 L419.9 559.43 L419.55 558.16 L419.2 558.03 L418.85 557.96 L418.5 557.94 L418.15 557.99 L417.8 558.18 L417.45 560.89 L417.1 560.32 L416.75 562.24 L416.4 562.2 L416.05 561.65 L415.7 562.69 L415.35 562.47 L415 560.87 L414.65 561.14 L414.3 561.68 L413.95 561.12 L413.6 561.04 L413.25 561.38 L412.9 562.38 L412.55 564.68 L412.2 564.61 L411.85 564.07 L411.5 563.75 L411.15 566.75 L410.8 568.51 L410.45 569.82 L410.1 566.29 L409.75 569.89 L409.4 565.26 L409.05 573.87 L408.7 566.67 L408.35 566.97 L408 569.1 L407.65 565.87 L407.3 570.82 L406.95 568.49 L406.6 572.63 L406.25 568.27 L405.9 566.78 L405.55 567.02 L405.2 567.35 L404.85 572.71 L404.5 574.13 L404.15 568.35 L403.8 568.68 L403.45 577.52 L403.1 578.31 L402.75 571.15 L402.4 571.48 L402.05 570.82 L401.7 572.41 L401.35 575.7 L401 572.75 L400.65 571.68 L400.3 582.72 L399.95 572.34 L399.6 585.59 L399.25 573.01 L398.9 573.34 L398.55 573.67 L398.2 574 L397.85 583.46 L397.5 581.02 L397.15 576.06 L396.8 584.82 L396.45 575.67 L396.1 576 L395.75 576.33 L395.4 577.35 L395.05 577 L394.7 584.77 L394.35 593.04 L394 585.55 L393.65 588.05 L393.3 595.24 L392.95 591.17 L392.6 587.16 L392.25 587.58 L391.9 588 L391.55 594.9 L391.2 597.07 L390.85 589.29 L390.5 589.9 L390.15 590.16 L389.8 590.6 L389.45 592.68 L389.1 599.36 L388.75 605.52 L388.4 598.33 L388.05 592.87 L387.7 593.33 L387.35 596.89 L387 594.28 L386.65 597.36 L386.3 597.81 L385.95 601.68 L385.6 604.92 L385.25 606.11 L384.9 604.96 L384.55 597.75 L384.2 598.27 L383.85 601.74 L383.5 599.38 L383.15 611.14 L382.8 610.98 L382.45 604.38 L382.1 601.52 L381.75 602.08 L381.4 602.66 L381.05 605.39 L380.7 604.26 L380.35 604.43 L380 605.04 L379.65 606.1 L379.3 614.84 L378.95 607.39 L378.6 611.45 L378.25 617.11 L377.9 618.36 L377.55 609.61 L377.2 610.31 L376.85 618.56 L376.5 619.1 L376.15 612.47 L375.8 613.21 L375.45 619.1 L375.1 614.73 L374.75 615.5 L374.4 616.29 L374.05 619.1 L373.7 619.1 L373.35 618.72 L373 619.1 L372.65 619.1 L372.3 619.1 L371.95 619.1 L371.6 619.1 L371.25 619.1 L370.9 619.1 L370.55 619.1 L370.2 619.1 L369.85 619.1 L369.5 619.1 L369.15 619.1 L368.8 619.1 L368.45 619.1 L368.1 619.1 L367.75 619.1 L367.4 619.1 L367.05 619.1 L366.7 619.1 L366.35 619.1 L366 619.1 L365.65 619.1 L365.3 619.1 L364.95 619.1 L364.6 619.1 L364.25 619.1 L363.9 619.1 L363.55 619.1 L363.2 619.1 L362.85 619.1 L362.5 619.1 L362.15 619.1 L361.8 619.1 L361.45 619.1 L361.1 619.1 L360.75 619.1 L360.4 619.1 L360.05 619.1 L359.7 619.1 L359.35 619.1 L359 619.1 L358.65 619.1 L358.3 619.1 L357.95 619.1 L357.6 619.1 L357.25 619.1 L356.9 619.1 L356.55 619.1 L356.2 619.1 L355.85 619.1 L355.5 619.1 L355.15 619.1 L354.8 619.1 L354.45 619.1 L354.1 619.1 L353.75 619.1 L353.4 619.1 L353.05 619.1 L352.7 619.1 L352.35 619.1 L352 619.1 L351.65 619.1 L351.3 619.1 L350.95 619.1 L350.6 619.1 L350.25 619.1 L349.9 619.1 L349.55 619.1 L349.2 619.1 L348.85 619.1 L348.5 619.1 L348.15 619.1 L347.8 619.1 L347.45 619.1 L347.1 619.1 L346.75 619.1 L346.4 619.1 L346.05 619.1 L345.7 619.1 L345.35 619.1 L345 619.1 L344.65 619.1 L344.3 619.1 L343.95 619.1 L343.6 619.1 L343.25 619.1 L342.9 619.1 L342.55 619.1 L342.2 619.1 L341.85 619.1 L341.5 619.1 L341.15 619.1 L340.8 619.1 L340.45 619.1 L340.1 619.1 L339.75 619.1 L339.4 619.1 L339.05 619.1 L338.7 619.1 L338.35 619.1 L338 619.1 L337.65 619.1 L337.3 619.1 L336.95 619.1 L336.6 619.1 L336.25 619.1 L335.9 619.1 L335.55 619.1 L335.2 619.1 L334.85 619.1 L334.5 619.1 L334.15 619.1 L333.8 619.1 L333.45 619.1 L333.1 619.1 L332.75 619.1 L332.4 619.1 L332.05 619.1 L331.7 619.1 L331.35 619.1 L331 619.1 L330.65 619.1 L330.3 619.1 L329.95 619.1 L329.6 619.1 L329.25 619.1 L328.9 619.1 L328.55 619.1 L328.2 619.1 L327.85 619.1 L327.5 619.1 L327.15 619.1 L326.8 619.1 L326.45 619.1 L326.1 619.1 L325.75 619.1 L325.4 619.1 L325.05 619.1 L324.7 619.1 L324.35 619.1 L324 619.1 L323.65 619.1 L323.3 619.1 L322.95 619.1 L322.6 619.1 L322.25 619.1 L321.9 619.1 L321.55 619.1 L321.2 619.1 L320.85 619.1 L320.5 619.1 L320.15 619.1 L319.8 619.1 L319.45 619.1 L319.1 619.1 L318.75 619.1 L318.4 619.1 L318.05 619.1 L317.7 619.1 L317.35 619.1 L317 619.1 L316.65 619.1 L316.3 619.1 L315.95 619.1 L315.6 619.1 L315.25 619.1 L314.9 619.1 L314.55 619.1 L314.2 619.1 L313.85 619.1 L313.5 619.1 L313.15 619.1 L312.8 619.1 L312.45 619.1 L312.1 619.1 L311.75 619.1 L311.4 619.1 L311.05 619.1 L310.7 619.1 L310.35 619.1 L310 619.1 L309.65 619.1 L309.3 619.1 L308.95 619.1 L308.6 619.1 L308.25 619.1 L307.9 619.1 L307.55 619.1 L307.2 619.1Z" fill="#0000ff" stroke="none" />
<path d="M309.2 519.6V528.25" stroke="#fff" stroke-opacity="0.8" stroke-width="0.72" fill="none"/>
<path d="M310.94 519.6V534.43" stroke="#fff" stroke-opacity="0.8" stroke-width="0.76" fill="none"/>
<path d="M312.03 519.6V525.1" stroke="#fff" stroke-opacity="0.8" stroke-width="0.87" fill="none"/>
<path d="M313.56 519.6V527" stroke="#fff" stroke-opacity="0.8" stroke-width="0.95" fill="none"/>
<path d="M315.57 519.6V536.57" stroke="#fff" stroke-opacity="0.8" stroke-width="0.69" fill="none"/>
<path d="M317.97 519.6V525.14" stroke="#fff" stroke-opacity="0.8" stroke-width="0.77" fill="none"/>
<path d="M320.91 519.6V528.9" stroke="#fff" stroke-opacity="0.8" stroke-width="0.82" fill="none"/>
<path d="M323.45 519.6V523.74" stroke="#fff" stroke-opacity="0.8" stroke-width="0.83" fill="none"/>
<path d="M325.85 519.6V525.24" stroke="#fff" stroke-opacity="0.8" stroke-width="0.47" fill="none"/>
<path d="M328.88 519.6V526.34" stroke="#fff" stroke-opacity="0.8" stroke-width="0.81" fill="none"/>
<path d="M331.97 519.6V528.14" stroke="#fff" stroke-opacity="0.8" stroke-width="0.91" fill="none"/>
<path d="M334.04 519.6V528.53" stroke="#fff" stroke-opacity="0.8" stroke-width="0.67" fill="none"/>
<path d="M337.32 519.6V528.5" stroke="#fff" stroke-opacity="0.8" stroke-width="0.5" fill="none"/>
<path d="M338.88 519.6V523.16" stroke="#fff" stroke-opacity="0.8" stroke-width="0.93" fill="none"/>
<path d="M341.12 519.6V525.61" stroke="#fff" stroke-opacity="0.8" stroke-width="0.6" fill="none"/>
<path d="M343.54 519.6V523.72" stroke="#fff" stroke-opacity="0.8" stroke-width="0.63" fill="none"/>
<path d="M346.16 519.6V524.69" stroke="#fff" stroke-opacity="0.8" stroke-width="0.9" fill="none"/>
<path d="M349.03 519.6V526.67" stroke="#fff" stroke-opacity="0.8" stroke-width="0.88" fill="none"/>
<path d="M352.61 519.6V524.58" stroke="#fff" stroke-opacity="0.8" stroke-width="0.53" fill="none"/>
<path d="M355.95 519.6V526" stroke="#fff" stroke-opacity="0.8" stroke-width="0.9" fill="none"/>
<path d="M358.69 519.6V524.31" stroke="#fff" stroke-opacity="0.8" stroke-width="0.56" fill="none"/>
<path d="M362.04 519.6V523.43" stroke="#fff" stroke-opacity="0.8" stroke-width="0.59" fill="none"/>
<path d="M363.73 519.6V524.67" stroke="#fff" stroke-opacity="0.8" stroke-width="0.94" fill="none"/>
<path d="M365.51 519.6V524.29" stroke="#fff" stroke-opacity="0.8" stroke-width="0.66" fill="none"/>
<path d="M367.44 519.6V522.17" stroke="#fff" stroke-opacity="0.8" stroke-width="0.83" fill="none"/>
<path d="M370.98 519.6V521.51" stroke="#fff" stroke-opacity="0.8" stroke-width="0.76" fill="none"/>
<path d="M372.75 519.6V523.57" stroke="#fff" stroke-opacity="0.8" stroke-width="0.62" fill="none"/>
<path d="M376.37 519.6V524.55" stroke="#fff" stroke-opacity="0.8" stroke-width="0.7" fill="none"/>
<path d="M380.3 519.6V521.97" stroke="#fff" stroke-opacity="0.8" stroke-width="0.49" fill="none"/>
<path d="M383.39 519.6V521.37" stroke="#fff" stroke-opacity="0.8" stroke-width="0.55" fill="none"/>
<path d="M386.1 519.6V522.8" stroke="#fff" stroke-opacity="0.8" stroke-width="0.53" fill="none"/>
<path d="M388.05 519.6V523.69" stroke="#fff" stroke-opacity="0.8" stroke-width="0.61" fill="none"/>
<path d="M472.1 518.22 L472.6 518.21 L473.1 518.25 L473.6 518.24 L474.1 518.26 L474.6 518.46 L475.1 518.29 L475.6 518.46 L476.1 518.49 L476.6 518.3 L477.1 518.58 L477.6 518.45 L478.1 518.51 L478.6 518.39 L479.1 518.46 L479.6 518.38 L480.1 518.38 L480.6 518.48 L481.1 518.67 L481.6 518.5 L482.1 518.67 L482.6 518.42 L483.1 518.46 L483.6 518.64 L484.1 518.69 L484.6 518.54 L485.1 518.53 L485.6 518.47 L486.1 518.59 L486.6 518.74 L487.1 518.57 L487.6 518.78 L488.1 518.54 L488.6 518.58 L489.1 518.58 L489.6 518.56 L490.1 518.65 L490.6 518.55 L491.1 518.64 L491.6 518.69 L492.1 518.73 L492.6 518.74 L493.1 518.85 L493.6 518.81 L494.1 518.62 L494.6 518.8 L495.1 518.67 L495.6 518.64 L496.1 518.67 L496.6 518.72 L497.1 518.79 L497.6 518.8 L498.1 518.83 L498.6 518.7 L499.1 518.69 L499.6 518.62 L500.1 518.8 L500.6 518.63 L501.1 518.63 L501.6 518.82 L502.1 518.62 L502.6 518.73 L503.1 518.63 L503.6 518.68 L504.1 518.82 L504.6 518.84 L505.1 518.77 L505.6 518.78 L506.1 518.92 L506.6 518.67 L507.1 518.77 L507.6 518.79 L508.1 518.71 L508.6 518.86 L509.1 518.88 L509.6 518.76 L510.1 518.87 L510.6 518.84 L511.1 518.92 L511.6 518.93 L512.1 518.84 L512.6 518.79 L513.1 518.66 L513.6 518.75 L514.1 518.82 L514.6 518.83 L515.1 518.88 L515.6 518.81 L516.1 518.66 L516.6 518.92 L517.1 518.82 L517.6 518.75 L518.1 518.73 L518.6 518.79 L519.1 518.76 L519.6 518.68 L520.1 518.69 L520.6 518.88 L521.1 518.8 L521.6 518.66 L522.1 518.8 L522.6 518.9 L523.1 518.73 L523.6 518.94 L524.1 518.92 L524.6 518.8 L525.1 518.88 L525.6 518.75 L526.1 518.75 L526.6 518.87 L527.1 518.73 L527.6 518.77 L528.1 518.75 L528.6 518.83 L529.1 518.84 L529.6 518.93 L530.1 518.82 L530.6 518.68 L531.1 518.7 L531.6 518.95 L532.1 518.95 L532.6 518.89 L533.1 518.76 L533.6 518.84 L534.1 518.93 L534.6 518.84 L535.1 518.8 L535.6 518.75 L536.1 518.85 L536.6 518.77 L537.1 518.77 L537.6 518.79 L538.1 518.96 L538.6 518.76 L539.1 518.93 L539.6 518.95 L540.1 518.83 L540.6 518.97 L541.1 518.95 L541.6 518.85 L541.6 520.66 L541.1 520.55 L540.6 520.51 L540.1 520.56 L539.6 520.48 L539.1 520.68 L538.6 520.52 L538.1 520.63 L537.6 520.63 L537.1 520.48 L536.6 520.68 L536.1 520.67 L535.6 520.43 L535.1 520.63 L534.6 520.57 L534.1 520.51 L533.6 520.65 L533.1 520.67 L532.6 520.45 L532.1 520.47 L531.6 520.48 L531.1 520.51 L530.6 520.71 L530.1 520.7 L529.6 520.53 L529.1 520.48 L528.6 520.64 L528.1 520.55 L527.6 520.45 L527.1 520.6 L526.6 520.55 L526.1 520.53 L525.6 520.56 L525.1 520.7 L524.6 520.66 L524.1 520.66 L523.6 520.55 L523.1 520.48 L522.6 520.69 L522.1 520.57 L521.6 520.75 L521.1 520.64 L520.6 520.77 L520.1 520.63 L519.6 520.61 L519.1 520.66 L518.6 520.52 L518.1 520.61 L517.6 520.73 L517.1 520.58 L516.6 520.69 L516.1 520.76 L515.6 520.69 L515.1 520.55 L514.6 520.65 L514.1 520.67 L513.6 520.68 L513.1 520.6 L512.6 520.81 L512.1 520.74 L511.6 520.63 L511.1 520.77 L510.6 520.58 L510.1 520.84 L509.6 520.71 L509.1 520.72 L508.6 520.77 L508.1 520.64 L507.6 520.75 L507.1 520.8 L506.6 520.82 L506.1 520.81 L505.6 520.78 L505.1 520.73 L504.6 520.87 L504.1 520.87 L503.6 520.81 L503.1 520.66 L502.6 520.92 L502.1 520.72 L501.6 520.97 L501.1 520.8 L500.6 520.75 L500.1 520.88 L499.6 520.79 L499.1 520.95 L498.6 520.86 L498.1 520.75 L497.6 520.97 L497.1 520.87 L496.6 521.08 L496.1 520.96 L495.6 521.04 L495.1 520.89 L494.6 521.04 L494.1 520.99 L493.6 521.07 L493.1 521.09 L492.6 521.19 L492.1 521.14 L491.6 521.04 L491.1 521.19 L490.6 521.19 L490.1 521.13 L489.6 521.27 L489.1 521.35 L488.6 521.35 L488.1 521.21 L487.6 521.26 L487.1 521.42 L486.6 521.32 L486.1 521.35 L485.6 521.47 L485.1 521.36 L484.6 521.42 L484.1 521.52 L483.6 521.46 L483.1 521.54 L482.6 521.57 L482.1 521.59 L481.6 521.65 L481.1 521.77 L480.6 521.84 L480.1 521.72 L479.6 521.95 L479.1 521.85 L478.6 521.91 L478.1 521.99 L477.6 522.14 L477.1 522.01 L476.6 522.09 L476.1 522.09 L475.6 522.41 L475.1 522.27 L474.6 522.42 L474.1 522.45 L473.6 522.63 L473.1 522.73 L472.6 522.55 L472.1 522.74Z" fill="#0000ff" stroke="none" />
<path d="M307.2 487.32 L307.7 487.11 L308.2 487.49 L308.7 487.52 L309.2 487.43 L309.7 487.39 L310.2 487.14 L310.7 487.52 L311.2 487.25 L311.7 487.17 L312.2 487.5 L312.7 487.5 L313.2 487.6 L313.7 487.59 L314.2 487.36 L314.7 487.59 L315.2 487.46 L315.7 487.34 L316.2 487.62 L316.7 487.65 L317.2 487.57 L317.7 487.34 L318.2 487.52 L318.7 487.54 L319.2 487.51 L319.7 487.58 L320.2 487.58 L320.7 487.56 L321.2 487.59 L321.7 487.31 L322.2 487.49 L322.7 487.31 L323.2 487.45 L323.7 487.43 L324.2 487.58 L324.7 487.54 L325.2 487.54 L325.7 487.42 L326.2 487.71 L326.7 487.69 L327.2 487.45 L327.7 487.72 L328.2 487.44 L328.7 487.54 L329.2 487.52 L329.7 487.71 L330.2 487.47 L330.7 487.47 L331.2 487.9 L331.7 487.46 L332.2 487.7 L332.7 487.54 L333.2 487.49 L333.7 487.5 L334.2 487.93 L334.7 487.7 L335.2 487.75 L335.7 487.83 L336.2 487.76 L336.7 487.98 L337.2 487.64 L337.7 487.99 L338.2 487.84 L338.7 487.84 L339.2 488.14 L339.7 487.84 L340.2 488.14 L340.7 488.03 L341.2 487.94 L341.7 487.91 L342.2 487.84 L342.7 487.89 L343.2 488.27 L343.7 488.24 L344.2 488.31 L344.7 488.11 L345.2 488.21 L345.7 487.98 L346.2 488.09 L346.7 487.96 L347.2 488.17 L347.7 488.06 L348.2 488.14 L348.7 488.27 L349.2 488.42 L349.7 488.11 L350.2 488.56 L350.7 488.49 L351.2 488.21 L351.7 488.17 L352.2 488.37 L352.7 488.35 L353.2 488.7 L353.7 488.57 L354.2 488.76 L354.7 488.32 L355.2 488.67 L355.7 488.56 L356.2 488.8 L356.7 488.66 L357.2 488.66 L357.7 488.87 L358.2 488.95 L358.7 489 L359.2 488.81 L359.7 488.76 L360.2 488.72 L360.7 489.1 L361.2 489.08 L361.7 489.16 L362.2 488.77 L362.7 489.19 L363.2 488.84 L363.7 488.83 L364.2 489.26 L364.7 489.25 L365.2 489.27 L365.7 489.32 L366.2 489.16 L366.7 489.38 L367.2 489.23 L367.7 489.28 L368.2 489.24 L368.7 489.41 L369.2 489.16 L369.7 489.44 L370.2 489.2 L370.7 489.51 L371.2 489.55 L371.7 489.32 L372.2 489.66 L372.7 489.47 L373.2 489.53 L373.7 489.82 L374.2 489.52 L374.7 489.93 L375.2 489.65 L375.7 489.88 L376.2 489.62 L376.7 489.84 L377.2 489.67 L377.7 489.88 L378.2 490.17 L378.7 490 L379.2 489.93 L379.7 490.05 L380.2 490.24 L380.7 490.34 L381.2 490.05 L381.7 490.39 L382.2 490.21 L382.7 490.17 L383.2 490.36 L383.7 490.67 L384.2 490.71 L384.7 490.62 L385.2 490.48 L385.7 490.48 L386.2 490.63 L386.7 490.48 L387.2 490.74 L387.7 490.79 L388.2 490.66 L388.7 490.73 L389.2 490.72 L389.7 491.05 L390.2 491.1 L390.7 491.02 L391.2 490.9 L391.7 490.96 L392.2 491.31 L392.7 491.36 L393.2 491 L393.7 491.18 L394.2 491.31 L394.7 491.21 L395.2 491.47 L395.7 491.57 L396.2 491.46 L396.7 491.49 L397.2 491.69 L397.7 491.59 L398.2 491.56 L398.7 491.78 L399.2 491.8 L399.7 492.07 L400.2 491.96 L400.7 492.35 L401.2 492.29 L401.7 492.24 L402.2 492.53 L402.7 492.33 L403.2 492.21 L403.7 492.63 L404.2 492.59 L404.7 492.71 L405.2 492.74 L405.7 492.81 L406.25 493.43 L409.1 493.12 L409.25 493.88 L412.5 493.49 L412.65 494.3 L416.7 493.45 L416.85 494.56 L421.2 493.62 L421.35 494.51 L426.5 493.73 L426.65 494.69 L432.5 493.84 L432.65 495.3 L439.4 493.7 L439.55 495.71 L448 494.43 L448.15 497.83 L458.5 495.57 L458.65 500.03 L472.1 497.9 L472.3 502.95 L541.8 502.7 L541.8 504.98 L472.3 505.27 L472.1 500.26 L458.65 502.92 L458.5 498.27 L448.15 500.14 L448 496.95 L439.55 498.51 L439.4 496.26 L432.65 497.77 L432.5 496.29 L426.65 497.57 L426.5 496.08 L421.35 497.32 L421.2 495.98 L416.85 497.22 L416.7 495.99 L412.65 497.08 L412.5 495.97 L409.25 496.75 L409.1 495.84 L406.25 496.55 L405.7 495.77 L405.2 495.73 L404.7 495.8 L404.2 495.72 L403.7 495.57 L403.2 495.6 L402.7 495.52 L402.2 495.33 L401.7 495.37 L401.2 495.34 L400.7 495.25 L400.2 495.19 L399.7 495.21 L399.2 495.21 L398.7 495.13 L398.2 494.99 L397.7 494.98 L397.2 494.77 L396.7 494.9 L396.2 494.67 L395.7 494.6 L395.2 494.53 L394.7 494.49 L394.2 494.47 L393.7 494.62 L393.2 494.54 L392.7 494.44 L392.2 494.31 L391.7 494.49 L391.2 494.36 L390.7 494.22 L390.2 494.14 L389.7 494.25 L389.2 494.3 L388.7 494.06 L388.2 494.1 L387.7 494.02 L387.2 493.98 L386.7 494.1 L386.2 494 L385.7 493.84 L385.2 493.76 L384.7 493.95 L384.2 493.75 L383.7 493.63 L383.2 493.67 L382.7 493.6 L382.2 493.55 L381.7 493.56 L381.2 493.67 L380.7 493.5 L380.2 493.5 L379.7 493.38 L379.2 493.29 L378.7 493.27 L378.2 493.3 L377.7 493.4 L377.2 493.33 L376.7 493.3 L376.2 493.27 L375.7 493.16 L375.2 493.19 L374.7 493.18 L374.2 493.09 L373.7 492.96 L373.2 493.06 L372.7 492.99 L372.2 492.83 L371.7 492.73 L371.2 492.87 L370.7 492.83 L370.2 492.66 L369.7 492.73 L369.2 492.71 L368.7 492.53 L368.2 492.54 L367.7 492.48 L367.2 492.53 L366.7 492.55 L366.2 492.47 L365.7 492.39 L365.2 492.48 L364.7 492.32 L364.2 492.34 L363.7 492.25 L363.2 492.36 L362.7 492.2 L362.2 492.25 L361.7 492.14 L361.2 492.14 L360.7 492.28 L360.2 492.23 L359.7 492.21 L359.2 492.21 L358.7 492.02 L358.2 492.16 L357.7 492.1 L357.2 491.95 L356.7 492.05 L356.2 491.96 L355.7 492.04 L355.2 491.82 L354.7 491.85 L354.2 491.74 L353.7 491.84 L353.2 491.81 L352.7 491.78 L352.2 491.73 L351.7 491.78 L351.2 491.76 L350.7 491.64 L350.2 491.59 L349.7 491.68 L349.2 491.56 L348.7 491.71 L348.2 491.49 L347.7 491.49 L347.2 491.5 L346.7 491.39 L346.2 491.51 L345.7 491.39 L345.2 491.38 L344.7 491.54 L344.2 491.32 L343.7 491.31 L343.2 491.44 L342.7 491.23 L342.2 491.38 L341.7 491.25 L341.2 491.19 L340.7 491.39 L340.2 491.32 L339.7 491.17 L339.2 491.15 L338.7 491.24 L338.2 491.15 L337.7 491.16 L337.2 491.2 L336.7 491.14 L336.2 491.15 L335.7 491.18 L335.2 491.22 L334.7 491 L334.2 491.05 L333.7 490.95 L333.2 490.95 L332.7 491.05 L332.2 490.99 L331.7 491.04 L331.2 490.95 L330.7 491.09 L330.2 491.11 L329.7 490.99 L329.2 490.96 L328.7 491 L328.2 491.03 L327.7 490.86 L327.2 490.95 L326.7 490.79 L326.2 490.78 L325.7 490.99 L325.2 490.89 L324.7 490.86 L324.2 490.83 L323.7 490.85 L323.2 490.88 L322.7 490.89 L322.2 490.77 L321.7 490.8 L321.2 490.71 L320.7 490.82 L320.2 490.66 L319.7 490.72 L319.2 490.73 L318.7 490.78 L318.2 490.74 L317.7 490.79 L317.2 490.68 L316.7 490.78 L316.2 490.63 L315.7 490.81 L315.2 490.83 L314.7 490.59 L314.2 490.72 L313.7 490.78 L313.2 490.74 L312.7 490.75 L312.2 490.65 L311.7 490.78 L311.2 490.61 L310.7 490.64 L310.2 490.72 L309.7 490.76 L309.2 490.66 L308.7 490.79 L308.2 490.7 L307.7 490.61 L307.2 490.7Z" fill="#ff0000" stroke="none" />
<path d="M307.2 489.9 L307.7 489.9 L308.2 489.9 L308.7 489.9 L309.2 489.9 L309.7 489.9 L310.2 489.9 L310.7 489.9 L311.2 489.91 L311.7 489.91 L312.2 489.91 L312.7 489.92 L313.2 489.92 L313.7 489.92 L314.2 489.93 L314.7 489.93 L315.2 489.94 L315.7 489.94 L316.2 489.95 L316.7 489.96 L317.2 489.96 L317.7 489.97 L318.2 489.98 L318.7 489.98 L319.2 489.99 L319.7 490 L320.2 490.01 L320.7 490.02 L321.2 490.03 L321.7 490.04 L322.2 490.05 L322.7 490.05 L323.2 490.06 L323.7 490.07 L324.2 490.08 L324.7 490.09 L325.2 490.11 L325.7 490.12 L326.2 490.13 L326.7 490.14 L327.2 490.15 L327.7 490.16 L328.2 490.17 L328.7 490.18 L329.2 490.19 L329.7 490.2 L330.2 490.22 L330.7 490.23 L331.2 490.24 L331.7 490.25 L332.2 490.26 L332.7 490.27 L333.2 490.28 L333.7 490.3 L334.2 490.31 L334.7 490.32 L335.2 490.33 L335.7 490.34 L336.2 490.36 L336.7 490.37 L337.2 490.39 L337.7 490.4 L338.2 490.42 L338.7 490.43 L339.2 490.45 L339.7 490.46 L340.2 490.48 L340.7 490.5 L341.2 490.51 L341.7 490.53 L342.2 490.55 L342.7 490.57 L343.2 490.59 L343.7 490.61 L344.2 490.63 L344.7 490.65 L345.2 490.67 L345.7 490.69 L346.2 490.71 L346.7 490.73 L347.2 490.75 L347.7 490.78 L348.2 490.8 L348.7 490.82 L349.2 490.84 L349.7 490.87 L350.2 490.89 L350.7 490.91 L351.2 490.94 L351.7 490.96 L352.2 490.98 L352.7 491.01 L353.2 491.03 L353.7 491.06 L354.2 491.08 L354.7 491.11 L355.2 491.13 L355.7 491.16 L356.2 491.19 L356.7 491.21 L357.2 491.24 L357.7 491.26 L358.2 491.29 L358.7 491.32 L359.2 491.34 L359.7 491.37 L360.2 491.4 L360.7 491.43 L361.2 491.45 L361.7 491.48 L362.2 491.51 L362.7 491.53 L363.2 491.56 L363.7 491.59 L364.2 491.62 L364.7 491.64 L365.2 491.67 L365.7 491.7 L366.2 491.73 L366.7 491.76 L367.2 491.79 L367.7 491.82 L368.2 491.85 L368.7 491.88 L369.2 491.91 L369.7 491.94 L370.2 491.97 L370.7 492.01 L371.2 492.04 L371.7 492.07 L372.2 492.11 L372.7 492.14 L373.2 492.18 L373.7 492.21 L374.2 492.25 L374.7 492.28 L375.2 492.32 L375.7 492.36 L376.2 492.39 L376.7 492.43 L377.2 492.47 L377.7 492.51 L378.2 492.55 L378.7 492.58 L379.2 492.62 L379.7 492.66 L380.2 492.7 L380.7 492.74 L381.2 492.78 L381.7 492.82 L382.2 492.86 L382.7 492.9 L383.2 492.94 L383.7 492.98 L384.2 493.01 L384.7 493.05 L385.2 493.09 L385.7 493.13 L386.2 493.17 L386.7 493.21 L387.2 493.25 L387.7 493.29 L388.2 493.33 L388.7 493.37 L389.2 493.41 L389.7 493.45 L390.2 493.49 L390.7 493.52 L391.2 493.56 L391.7 493.6 L392.2 493.64 L392.7 493.68 L393.2 493.71 L393.7 493.75 L394.2 493.79 L394.7 493.83 L395.2 493.87 L395.7 493.91 L396.2 493.95 L396.7 493.99 L397.2 494.03 L397.7 494.07 L398.2 494.11 L398.7 494.15 L399.2 494.19 L399.7 494.23 L400.2 494.27 L400.7 494.31 L401.2 494.35 L401.7 494.39 L402.2 494.43 L402.7 494.47 L403.2 494.51 L403.7 494.55 L404.2 494.59 L404.7 494.63 L405.2 494.67 L405.7 494.71 L406.25 495.56 L409.1 494.78 L409.25 495.66 L412.5 494.82 L412.65 495.84 L416.7 494.87 L416.85 495.95 L421.2 494.93 L421.35 496.15 L426.5 495 L426.65 496.34 L432.5 495.08 L432.65 496.6 L439.4 495.2 L439.55 497.38 L448 495.7 L448.15 499.08 L458.5 497.1 L458.65 501.68 L472.1 499.2 L472.3 504.2 L541.8 503.8" fill="none" stroke="#00ff00" stroke-width="1.15" stroke-linejoin="round" />
<path d="M308.1 468.14V490" stroke="#00ff00" stroke-width="0.7" stroke-opacity="0.8" fill="none"/>
<path d="M307.9 559.4 L308.4 559.28 L308.9 559.16 L309.4 559.04 L309.9 558.92 L310.4 558.8 L310.91 558.68 L311.41 558.56 L311.91 558.44 L312.41 558.31 L312.91 558.19 L313.41 558.07 L313.91 557.95 L314.41 557.82 L314.91 557.7 L315.41 557.57 L315.91 557.45 L316.41 557.32 L316.92 557.2 L317.42 557.07 L317.92 556.94 L318.42 556.82 L318.92 556.69 L319.42 556.56 L319.92 556.43 L320.42 556.3 L320.92 556.17 L321.42 556.05 L321.92 555.92 L322.42 555.79 L322.93 555.65 L323.43 555.52 L323.93 555.39 L324.43 555.26 L324.93 555.13 L325.43 555 L325.93 554.86 L326.43 554.73 L326.93 554.6 L327.43 554.46 L327.93 554.33 L328.44 554.19 L328.94 554.06 L329.44 553.92 L329.94 553.79 L330.44 553.65 L330.94 553.51 L331.44 553.38 L331.94 553.24 L332.44 553.1 L332.94 552.96 L333.44 552.83 L333.94 552.69 L334.45 552.55 L334.95 552.41 L335.45 552.27 L335.95 552.12 L336.45 551.98 L336.95 551.84 L337.45 551.69 L337.95 551.55 L338.45 551.4 L338.95 551.25 L339.45 551.1 L339.95 550.95 L340.46 550.8 L340.96 550.65 L341.46 550.5 L341.96 550.35 L342.46 550.2 L342.96 550.05 L343.46 549.9 L343.96 549.74 L344.46 549.59 L344.96 549.44 L345.46 549.28 L345.97 549.13 L346.47 548.97 L346.97 548.82 L347.47 548.66 L347.97 548.51 L348.47 548.35 L348.97 548.2 L349.47 548.04 L349.97 547.88 L350.47 547.73 L350.97 547.57 L351.47 547.42 L351.98 547.26 L352.48 547.11 L352.98 546.95 L353.48 546.8 L353.98 546.64 L354.48 546.49 L354.98 546.34 L355.48 546.18 L355.98 546.03 L356.48 545.88 L356.98 545.72 L357.48 545.57 L357.99 545.42 L358.49 545.27 L358.99 545.12 L359.49 544.97 L359.99 544.82 L360.49 544.67 L360.99 544.53 L361.49 544.38 L361.99 544.23 L362.49 544.09 L362.99 543.94 L363.5 543.8 L364 543.66 L364.5 543.51 L365 543.37 L365.5 543.23 L366 543.08 L366.5 542.94 L367 542.8 L367.5 542.65 L368 542.51 L368.5 542.37 L369 542.23 L369.51 542.09 L370.01 541.95 L370.51 541.8 L371.01 541.66 L371.51 541.52 L372.01 541.38 L372.51 541.24 L373.01 541.1 L373.51 540.96 L374.01 540.82 L374.51 540.68 L375.01 540.54 L375.52 540.4 L376.02 540.26 L376.52 540.13 L377.02 539.99 L377.52 539.85 L378.02 539.71 L378.52 539.57 L379.02 539.44 L379.52 539.3 L380.02 539.16 L380.52 539.02 L381.03 538.89 L381.53 538.75 L382.03 538.61 L382.53 538.48 L383.03 538.34 L383.53 538.21 L384.03 538.07 L384.53 537.94 L385.03 537.8 L385.53 537.67 L386.03 537.53 L386.53 537.4 L387.04 537.26 L387.54 537.13 L388.04 537 L388.54 536.86 L389.04 536.73 L389.54 536.6 L390.04 536.46 L390.54 536.33 L391.04 536.2 L391.54 536.07 L392.04 535.94 L392.54 535.8 L393.05 535.67 L393.55 535.54 L394.05 535.41 L394.55 535.29 L395.05 535.16 L395.55 535.03 L396.05 534.9 L396.55 534.77 L397.05 534.65 L397.55 534.52 L398.05 534.39 L398.56 534.27 L399.06 534.14 L399.56 534.02 L400.06 533.89 L400.56 533.76 L401.06 533.64 L401.56 533.51 L402.06 533.39 L402.56 533.27 L403.06 533.14 L403.56 533.02 L404.06 532.89 L404.57 532.77 L405.07 532.64 L405.57 532.52 L406.07 532.39 L406.57 532.27 L407.07 532.14 L407.57 532.02 L408.07 531.9 L408.57 531.77 L409.07 531.64 L409.57 531.52 L410.07 531.39 L410.58 531.27 L411.08 531.14 L411.58 531.01 L412.08 530.89 L412.58 530.76 L413.08 530.63 L413.58 530.5 L414.08 530.38 L414.58 530.25 L415.08 530.11 L415.58 529.98 L416.09 529.85 L416.59 529.71 L417.09 529.58 L417.59 529.44 L418.09 529.31 L418.59 529.17 L419.09 529.04 L419.59 528.9 L420.09 528.77 L420.59 528.63 L421.09 528.5 L421.59 528.37 L422.1 528.23 L422.6 528.1 L423.1 527.97 L423.6 527.84 L424.1 527.72 L424.6 527.59 L425.1 527.47 L425.6 527.35 L426.1 527.23 L426.6 527.11 L427.1 527 L427.6 526.89 L428.11 526.78 L428.61 526.67 L429.11 526.56 L429.61 526.45 L430.11 526.35 L430.61 526.24 L431.11 526.14 L431.61 526.04 L432.11 525.94 L432.61 525.84 L433.11 525.74 L433.61 525.64 L434.12 525.54 L434.62 525.45 L435.12 525.35 L435.62 525.25 L436.12 525.16 L436.62 525.06 L437.12 524.97 L437.62 524.88 L438.12 524.78 L438.62 524.69 L439.12 524.59 L439.63 524.5 L440.13 524.41 L440.63 524.31 L441.13 524.22 L441.63 524.13 L442.13 524.03 L442.63 523.94 L443.13 523.84 L443.63 523.75 L444.13 523.66 L444.63 523.56 L445.13 523.47 L445.64 523.37 L446.14 523.28 L446.64 523.19 L447.14 523.1 L447.64 523.01 L448.14 522.92 L448.64 522.83 L449.14 522.74 L449.64 522.65 L450.14 522.57 L450.64 522.48 L451.14 522.4 L451.65 522.31 L452.15 522.23 L452.65 522.15 L453.15 522.07 L453.65 522 L454.15 521.92 L454.65 521.85 L455.15 521.78 L455.65 521.7 L456.15 521.63 L456.65 521.56 L457.16 521.49 L457.66 521.42 L458.16 521.35 L458.66 521.28 L459.16 521.21 L459.66 521.14 L460.16 521.07 L460.66 521.01 L461.16 520.94 L461.66 520.88 L462.16 520.82 L462.66 520.76 L463.17 520.7 L463.67 520.64 L464.17 520.58 L464.67 520.52 L465.17 520.47 L465.67 520.41 L466.17 520.36 L466.67 520.31 L467.17 520.26 L467.67 520.21 L468.17 520.17 L468.67 520.12 L469.18 520.07 L469.68 520.03 L470.18 519.98 L470.68 519.93 L471.18 519.89 L471.68 519.84 L472.18 519.8 L472.68 519.76 L473.18 519.71 L473.68 519.67 L474.18 519.63 L474.69 519.59 L475.19 519.55 L475.69 519.51 L476.19 519.48 L476.69 519.44 L477.19 519.41 L477.69 519.38 L478.19 519.35 L478.69 519.32 L479.19 519.29 L479.69 519.27 L480.19 519.25 L480.7 519.23 L481.2 519.21 L481.7 519.19 L482.2 519.17 L482.7 519.16 L483.2 519.14 L483.7 519.13 L484.2 519.11 L484.7 519.1 L485.2 519.08 L485.7 519.07 L486.2 519.05 L486.71 519.04 L487.21 519.02 L487.71 519.01 L488.21 518.99 L488.71 518.98 L489.21 518.97 L489.71 518.95 L490.21 518.94 L490.71 518.93 L491.21 518.92 L491.71 518.9 L492.22 518.89 L492.72 518.88 L493.22 518.87 L493.72 518.86 L494.22 518.85 L494.72 518.84 L495.22 518.83 L495.72 518.82 L496.22 518.81 L496.72 518.8 L497.22 518.79 L497.72 518.78 L498.23 518.77 L498.73 518.77 L499.23 518.76 L499.73 518.75 L500.23 518.75 L500.73 518.74 L501.23 518.73 L501.73 518.73 L502.23 518.72 L502.73 518.72 L503.23 518.72 L503.73 518.71 L504.24 518.71 L504.74 518.71 L505.24 518.7 L505.74 518.7 L506.24 518.7 L506.74 518.7 L507.24 518.7 L507.74 518.7 L508.24 518.7 L508.74 518.7 L509.24 518.7 L509.75 518.7 L510.25 518.7 L510.75 518.7 L511.25 518.7 L511.75 518.7 L512.25 518.7 L512.75 518.7 L513.25 518.7 L513.75 518.7 L514.25 518.7 L514.75 518.7 L515.25 518.7 L515.76 518.7 L516.26 518.7 L516.76 518.7 L517.26 518.7 L517.76 518.7 L518.26 518.7 L518.76 518.7 L519.26 518.7 L519.76 518.7 L520.26 518.7 L520.76 518.7 L521.26 518.7 L521.77 518.7 L522.27 518.7 L522.77 518.7 L523.27 518.7 L523.77 518.7 L524.27 518.7 L524.77 518.7 L525.27 518.7 L525.77 518.7 L526.27 518.7 L526.77 518.7 L527.28 518.7 L527.78 518.7 L528.28 518.7 L528.78 518.7 L529.28 518.7 L529.78 518.7 L530.28 518.7 L530.78 518.7 L531.28 518.7 L531.78 518.7 L532.28 518.7 L532.78 518.7 L533.29 518.7 L533.79 518.7 L534.29 518.7 L534.79 518.7 L535.29 518.7 L535.79 518.7 L536.29 518.7 L536.79 518.7 L537.29 518.7 L537.79 518.7 L538.29 518.7 L538.79 518.7 L539.3 518.7 L539.8 518.7 L540.3 518.7 L540.8 518.7 L541.3 518.7 L541.8 518.7" fill="none" stroke="#00ff00" stroke-width="1.2" stroke-linejoin="round" />
<path d="M486.8 519.1H541.8" stroke="#0000ff" stroke-opacity="0.5" stroke-width="1.1" fill="none"/>
</g>
<text transform="translate(448.3 487.5) scale(1.25 1)" font-family='"Liberation Serif", serif' font-size="15.2" fill="#ff0000" stroke="#ff0000" stroke-width="0.42" font-style="italic" >J</text>
<text transform="translate(457.5 491.6) scale(1.25 1)" font-family='"Liberation Serif", serif' font-size="10.2" fill="#ff0000" stroke="#ff0000" stroke-width="0.42" >2</text>
<text transform="translate(448 571.8) scale(1.1 1)" font-family='"Liberation Serif", serif' font-size="14.5" fill="#0000ff" stroke="#0000ff" stroke-width="0.42" font-style="italic" >&#1013;</text>
<path d="M365.85 617.1 v-9 M365.85 437.9 v9 M424.5 617.1 v-9 M424.5 437.9 v9 M483.15 617.1 v-9 M483.15 437.9 v9" stroke="#000" stroke-width="1.8" fill="none"/>
<rect x="307.2" y="437.9" width="234.6" height="179.2" fill="none" stroke="#000" stroke-width="2"/>
<path d="M631.73 437.9 V617.1 M690.25 437.9 V617.1 M748.77 437.9 V617.1 M573.2 467.77 H807.3 M573.2 497.63 H807.3 M573.2 527.5 H807.3 M573.2 557.37 H807.3 M573.2 587.23 H807.3" stroke="#000" stroke-opacity="0.62" stroke-width="1" stroke-dasharray="1.35 3.08" fill="none"/>
<path d="M573.2 467.77 h9 M807.3 467.77 h-9 M573.2 497.63 h9 M807.3 497.63 h-9 M573.2 527.5 h9 M807.3 527.5 h-9 M573.2 557.37 h9 M807.3 557.37 h-9 M573.2 587.23 h9 M807.3 587.23 h-9" stroke="#000" stroke-width="1.8" fill="none"/>
<g clip-path="url(#cp22)">
<path d="M573.6 558.5 L574.1 558.39 L574.6 558.28 L575.1 558.17 L575.6 558.06 L576.11 557.95 L576.61 557.84 L577.11 557.72 L577.61 557.61 L578.11 557.5 L578.61 557.39 L579.11 557.27 L579.61 557.16 L580.11 557.05 L580.62 556.93 L581.12 556.82 L581.62 556.7 L582.12 556.59 L582.62 556.48 L583.12 556.36 L583.62 556.25 L584.12 556.13 L584.62 556.02 L585.13 555.9 L585.63 555.78 L586.13 555.67 L586.63 555.55 L587.13 555.44 L587.63 555.32 L588.13 555.2 L588.63 555.09 L589.13 554.97 L589.64 554.85 L590.14 554.73 L590.64 554.62 L591.14 554.5 L591.64 554.38 L592.14 554.26 L592.64 554.15 L593.14 554.03 L593.64 553.91 L594.15 553.79 L594.65 553.67 L595.15 553.55 L595.65 553.43 L596.15 553.31 L596.65 553.19 L597.15 553.07 L597.65 552.96 L598.15 552.84 L598.66 552.72 L599.16 552.6 L599.66 552.48 L600.16 552.35 L600.66 552.23 L601.16 552.11 L601.66 551.99 L602.16 551.87 L602.66 551.75 L603.17 551.63 L603.67 551.51 L604.17 551.39 L604.67 551.27 L605.17 551.14 L605.67 551.02 L606.17 550.9 L606.67 550.78 L607.17 550.66 L607.68 550.54 L608.18 550.41 L608.68 550.29 L609.18 550.17 L609.68 550.05 L610.18 549.92 L610.68 549.8 L611.18 549.68 L611.68 549.56 L612.19 549.43 L612.69 549.31 L613.19 549.19 L613.69 549.07 L614.19 548.94 L614.69 548.82 L615.19 548.7 L615.69 548.57 L616.19 548.45 L616.7 548.33 L617.2 548.2 L617.7 548.08 L618.2 547.96 L618.7 547.83 L619.2 547.71 L619.7 547.59 L620.2 547.46 L620.7 547.34 L621.21 547.21 L621.71 547.09 L622.21 546.97 L622.71 546.84 L623.21 546.72 L623.71 546.59 L624.21 546.47 L624.71 546.35 L625.21 546.22 L625.72 546.1 L626.22 545.97 L626.72 545.85 L627.22 545.73 L627.72 545.6 L628.22 545.48 L628.72 545.35 L629.22 545.23 L629.72 545.1 L630.23 544.98 L630.73 544.85 L631.23 544.73 L631.73 544.6 L632.23 544.48 L632.73 544.35 L633.23 544.23 L633.73 544.1 L634.23 543.98 L634.74 543.85 L635.24 543.73 L635.74 543.6 L636.24 543.48 L636.74 543.35 L637.24 543.22 L637.74 543.1 L638.24 542.97 L638.74 542.85 L639.25 542.72 L639.75 542.6 L640.25 542.47 L640.75 542.34 L641.25 542.22 L641.75 542.09 L642.25 541.96 L642.75 541.84 L643.25 541.71 L643.76 541.58 L644.26 541.46 L644.76 541.33 L645.26 541.2 L645.76 541.08 L646.26 540.95 L646.76 540.82 L647.26 540.7 L647.76 540.57 L648.27 540.44 L648.77 540.31 L649.27 540.19 L649.77 540.06 L650.27 539.93 L650.77 539.8 L651.27 539.67 L651.77 539.55 L652.27 539.42 L652.78 539.29 L653.28 539.16 L653.78 539.03 L654.28 538.91 L654.78 538.78 L655.28 538.65 L655.78 538.52 L656.28 538.39 L656.78 538.26 L657.29 538.13 L657.79 538 L658.29 537.87 L658.79 537.74 L659.29 537.61 L659.79 537.48 L660.29 537.36 L660.79 537.23 L661.29 537.1 L661.8 536.97 L662.3 536.83 L662.8 536.7 L663.3 536.57 L663.8 536.44 L664.3 536.31 L664.8 536.18 L665.3 536.05 L665.8 535.92 L666.31 535.79 L666.81 535.66 L667.31 535.53 L667.81 535.4 L668.31 535.27 L668.81 535.13 L669.31 535 L669.81 534.87 L670.31 534.74 L670.82 534.61 L671.32 534.48 L671.82 534.35 L672.32 534.21 L672.82 534.08 L673.32 533.95 L673.82 533.82 L674.32 533.69 L674.82 533.56 L675.33 533.43 L675.83 533.3 L676.33 533.17 L676.83 533.04 L677.33 532.91 L677.83 532.78 L678.33 532.64 L678.83 532.51 L679.33 532.38 L679.84 532.25 L680.34 532.12 L680.84 532 L681.34 531.87 L681.84 531.74 L682.34 531.61 L682.84 531.48 L683.34 531.35 L683.84 531.22 L684.35 531.09 L684.85 530.97 L685.35 530.84 L685.85 530.71 L686.35 530.58 L686.85 530.46 L687.35 530.33 L687.85 530.2 L688.35 530.08 L688.86 529.95 L689.36 529.83 L689.86 529.7 L690.36 529.58 L690.86 529.45 L691.36 529.33 L691.86 529.2 L692.36 529.08 L692.86 528.96 L693.37 528.83 L693.87 528.71 L694.37 528.59 L694.87 528.47 L695.37 528.35 L695.87 528.23 L696.37 528.11 L696.87 527.99 L697.37 527.87 L697.88 527.75 L698.38 527.63 L698.88 527.51 L699.38 527.4 L699.88 527.28 L700.38 527.16 L700.88 527.05 L701.38 526.93 L701.88 526.82 L702.39 526.7 L702.89 526.59 L703.39 526.47 L703.89 526.36 L704.39 526.25 L704.89 526.14 L705.39 526.03 L705.89 525.92 L706.39 525.81 L706.9 525.7 L707.4 525.59 L707.9 525.48 L708.4 525.37 L708.9 525.27 L709.4 525.16 L709.9 525.05 L710.4 524.95 L710.9 524.84 L711.41 524.74 L711.91 524.64 L712.41 524.54 L712.91 524.43 L713.41 524.33 L713.91 524.23 L714.41 524.13 L714.91 524.04 L715.41 523.94 L715.92 523.84 L716.42 523.75 L716.92 523.65 L717.42 523.55 L717.92 523.46 L718.42 523.37 L718.92 523.28 L719.42 523.18 L719.92 523.09 L720.43 523 L720.93 522.91 L721.43 522.82 L721.93 522.74 L722.43 522.65 L722.93 522.56 L723.43 522.48 L723.93 522.39 L724.43 522.31 L724.94 522.23 L725.44 522.15 L725.94 522.07 L726.44 521.99 L726.94 521.91 L727.44 521.83 L727.94 521.75 L728.44 521.68 L728.94 521.6 L729.45 521.53 L729.95 521.45 L730.45 521.38 L730.95 521.31 L731.45 521.24 L731.95 521.17 L732.45 521.1 L732.95 521.03 L733.45 520.96 L733.96 520.9 L734.46 520.83 L734.96 520.77 L735.46 520.71 L735.96 520.65 L736.46 520.59 L736.96 520.53 L737.46 520.47 L737.96 520.41 L738.47 520.35 L738.97 520.3 L739.47 520.24 L739.97 520.19 L740.47 520.14 L740.97 520.09 L741.47 520.04 L741.97 519.99 L742.47 519.94 L742.98 519.89 L743.48 519.85 L743.98 519.8 L744.48 519.76 L744.98 519.72 L745.48 519.68 L745.98 519.64 L746.48 519.6 L746.98 519.56 L747.49 519.52 L747.99 519.49 L748.49 519.45 L748.99 519.42 L749.49 519.39 L749.99 519.36 L750.49 519.33 L750.99 519.3 L751.49 519.28 L752 519.25 L752.5 519.23 L753 519.2 L753.5 519.18 L754 519.16" fill="none" stroke="#00ff00" stroke-width="1.2" stroke-linejoin="round" />
<path d="M573.2 576.59 L573.65 576.94 L574.1 577.69 L574.55 575.86 L575 575.9 L575.45 576.32 L575.9 575.72 L576.35 577.83 L576.8 576.34 L577.25 576.75 L577.7 575.98 L578.15 575.68 L578.6 575.89 L579.05 576.18 L579.5 575.66 L579.95 575.95 L580.4 577.65 L580.85 577.58 L581.3 576.14 L581.75 576.44 L582.2 576.42 L582.65 576.24 L583.1 574.79 L583.55 574.82 L584 575.91 L584.45 576 L584.9 575.53 L585.35 576.69 L585.8 575.52 L586.25 575.68 L586.7 577.57 L587.15 575.96 L587.6 575.75 L588.05 575.97 L588.5 576.75 L588.95 576.71 L589.4 575.67 L589.85 576.66 L590.3 576.27 L590.75 575.47 L591.2 576.23 L591.65 576.49 L592.1 576.94 L592.55 575.85 L593 577.17 L593.45 576.4 L593.9 576.18 L594.35 576.08 L594.8 575.6 L595.25 575.22 L595.7 574.34 L596.15 574.39 L596.6 575.91 L597.05 575.07 L597.5 575.08 L597.95 575.05 L598.4 577.03 L598.85 575.9 L599.3 575.67 L599.75 575.23 L600.2 574.97 L600.65 575.23 L601.1 576.98 L601.55 575.66 L602 575.23 L602.45 575.01 L602.9 575.24 L603.35 574.79 L603.8 576.11 L604.25 576.89 L604.7 575.63 L605.15 574.88 L605.6 575.28 L606.05 574.6 L606.5 576.45 L606.95 574.97 L607.4 575.05 L607.85 576.11 L608.3 574.49 L608.75 574.63 L609.2 574.92 L609.65 574.43 L610.1 575.83 L610.55 576.42 L611 574.38 L611.45 574.28 L611.9 575.03 L612.35 573.37 L612.8 574.86 L613.25 574.51 L613.7 576 L614.15 574.07 L614.6 574.66 L615.05 574.08 L615.5 574.02 L615.95 574.98 L616.4 573.04 L616.85 575.47 L617.3 573.74 L617.75 575.69 L618.2 574.63 L618.65 573.89 L619.1 573.84 L619.55 574.45 L620 574.08 L620.45 572.99 L620.9 573.41 L621.35 573.36 L621.8 573.72 L622.25 573.33 L622.7 573.28 L623.15 573.37 L623.6 573.44 L624.05 573.59 L624.5 573.24 L624.95 572.3 L625.4 575.05 L625.85 573.1 L626.3 573.01 L626.75 573.24 L627.2 572.36 L627.65 573.34 L628.1 573.23 L628.55 572.66 L629 572.98 L629.45 572.64 L629.9 572.54 L630.35 574.35 L630.8 572.44 L631.25 572.71 L631.7 572.56 L632.15 572.34 L632.6 573.75 L633.05 572.24 L633.5 572.19 L633.95 572.32 L634.4 572.31 L634.85 572.99 L635.3 573.48 L635.75 573.05 L636.2 571.16 L636.65 572.88 L637.1 571.71 L637.55 572.06 L638 571.86 L638.45 571.69 L638.9 571.67 L639.35 572.04 L639.8 573.39 L640.25 572.8 L640.7 571.44 L641.15 571.42 L641.6 571.88 L642.05 571.49 L642.5 572.51 L642.95 573.34 L643.4 570.73 L643.85 571.13 L644.3 572.86 L644.75 572.05 L645.2 570.49 L645.65 571 L646.1 571.2 L646.55 572.95 L647 571.77 L647.45 571.5 L647.9 569.89 L648.35 571.9 L648.8 570.74 L649.25 571.51 L649.7 572.02 L650.15 571.01 L650.6 571.02 L651.05 570.39 L651.5 571.1 L651.95 570.89 L652.4 570.26 L652.85 571.88 L653.3 569.37 L653.75 571.71 L654.2 570.57 L654.65 570.71 L655.1 570.54 L655.55 570.57 L656 569.75 L656.45 569.91 L656.9 569.75 L657.35 569.6 L657.8 569.56 L658.25 570.93 L658.7 571.43 L659.15 569.37 L659.6 570.32 L660.05 569.9 L660.5 569.5 L660.95 570.3 L661.4 568.47 L661.85 570.22 L662.3 569.52 L662.75 569.11 L663.2 568.86 L663.65 568.81 L664.1 570.88 L664.55 568.71 L665 568.12 L665.45 568.9 L665.9 570.61 L666.35 570.47 L666.8 569.74 L667.25 569.26 L667.7 568.66 L668.15 568.54 L668.6 568.22 L669.05 570.29 L669.5 568.54 L669.95 568.06 L670.4 569.71 L670.85 569.91 L671.3 569.68 L671.75 568.16 L672.2 569.02 L672.65 567.92 L673.1 567.88 L673.55 569.56 L674 568.1 L674.45 567.68 L674.9 567.89 L675.35 567.27 L675.8 567.65 L676.25 567.76 L676.7 569.22 L677.15 567.03 L677.6 567.28 L678.05 567.6 L678.5 567.53 L678.95 566.21 L679.4 566.86 L679.85 568.14 L680.3 566.69 L680.75 568.27 L681.2 566.32 L681.65 566.9 L682.1 566.33 L682.55 566.34 L683 565.38 L683.45 567.84 L683.9 566.79 L683.9 617.04 L683.45 618.1 L683 617.86 L682.55 618.1 L682.1 617.16 L681.65 618.1 L681.2 618.1 L680.75 618.1 L680.3 615.72 L679.85 617.36 L679.4 616.07 L678.95 615.03 L678.5 617.14 L678.05 617.07 L677.6 617.11 L677.15 615.61 L676.7 617.21 L676.25 614.6 L675.8 614.56 L675.35 617.42 L674.9 616.43 L674.45 614.93 L674 616.72 L673.55 615.5 L673.1 615.7 L672.65 616.5 L672.2 615.41 L671.75 614.48 L671.3 616.34 L670.85 616.13 L670.4 618.1 L669.95 616.06 L669.5 614.41 L669.05 615.15 L668.6 615.07 L668.15 613.84 L667.7 613.49 L667.25 617.96 L666.8 614.23 L666.35 615.62 L665.9 615.32 L665.45 615.35 L665 614.94 L664.55 615.36 L664.1 614.46 L663.65 615.02 L663.2 614.69 L662.75 612.63 L662.3 612.8 L661.85 614.13 L661.4 613.78 L660.95 612.72 L660.5 613.59 L660.05 614.45 L659.6 614.42 L659.15 613.74 L658.7 611.82 L658.25 612.48 L657.8 612.24 L657.35 614.42 L656.9 611.77 L656.45 612.45 L656 611.65 L655.55 612.15 L655.1 613.56 L654.65 613.83 L654.2 613.16 L653.75 612.79 L653.3 612.25 L652.85 611.94 L652.4 612.97 L651.95 612.63 L651.5 613.14 L651.05 610.62 L650.6 613.11 L650.15 612.69 L649.7 611.54 L649.25 610.36 L648.8 612.78 L648.35 612.26 L647.9 612.07 L647.45 611.5 L647 610.43 L646.55 609.84 L646.1 610.66 L645.65 612.76 L645.2 611.2 L644.75 610.75 L644.3 610.03 L643.85 612 L643.4 609.75 L642.95 609.61 L642.5 611.26 L642.05 610.56 L641.6 611.02 L641.15 611.67 L640.7 609.41 L640.25 610.38 L639.8 610.62 L639.35 610.24 L638.9 611.13 L638.45 609.02 L638 610.56 L637.55 608.37 L637.1 611.04 L636.65 610.96 L636.2 610.73 L635.75 608.67 L635.3 608 L634.85 609.42 L634.4 609.42 L633.95 610.5 L633.5 610.49 L633.05 609.14 L632.6 610.98 L632.15 610.24 L631.7 607.99 L631.25 608.32 L630.8 609.09 L630.35 607.66 L629.9 609.86 L629.45 609.14 L629 612.71 L628.55 609.72 L628.1 609.66 L627.65 612.24 L627.2 608.34 L626.75 611.83 L626.3 606.69 L625.85 607.53 L625.4 608.77 L624.95 610.09 L624.5 607.29 L624.05 608.97 L623.6 607.31 L623.15 610.72 L622.7 608.45 L622.25 608.1 L621.8 608.65 L621.35 606.16 L620.9 607.61 L620.45 608.53 L620 607.18 L619.55 607.55 L619.1 608.19 L618.65 607.7 L618.2 608.05 L617.75 610.74 L617.3 608.03 L616.85 607.45 L616.4 606.56 L615.95 607.79 L615.5 605.9 L615.05 606.61 L614.6 607.25 L614.15 606.51 L613.7 607.48 L613.25 606.05 L612.8 604.9 L612.35 606.78 L611.9 607.04 L611.45 604.52 L611 604.3 L610.55 607.78 L610.1 607.49 L609.65 605.37 L609.2 605.75 L608.75 604.12 L608.3 604.92 L607.85 606.1 L607.4 605.79 L606.95 604.65 L606.5 607.48 L606.05 605.9 L605.6 605.56 L605.15 605.55 L604.7 606.41 L604.25 604.56 L603.8 605.49 L603.35 605.39 L602.9 603.67 L602.45 605.54 L602 602.66 L601.55 602.59 L601.1 602.6 L600.65 605.02 L600.2 603.76 L599.75 606.88 L599.3 602.24 L598.85 604.85 L598.4 604.11 L597.95 604.24 L597.5 605.9 L597.05 604.22 L596.6 604.22 L596.15 603.53 L595.7 603.85 L595.25 603.33 L594.8 603.9 L594.35 604.1 L593.9 602.55 L593.45 601.86 L593 602.11 L592.55 603.54 L592.1 600.76 L591.65 602.94 L591.2 602.85 L590.75 602.43 L590.3 603.28 L589.85 602.71 L589.4 602.65 L588.95 601.38 L588.5 602.26 L588.05 602.74 L587.6 599.9 L587.15 601.86 L586.7 601.52 L586.25 599.45 L585.8 602.18 L585.35 600.76 L584.9 599.87 L584.45 602.04 L584 600.61 L583.55 598.95 L583.1 600.08 L582.65 601.17 L582.2 601.02 L581.75 599.78 L581.3 599.48 L580.85 600.7 L580.4 599.27 L579.95 601.69 L579.5 601.08 L579.05 600.92 L578.6 599.86 L578.15 599.09 L577.7 601.41 L577.25 598.04 L576.8 600.21 L576.35 599.92 L575.9 600.01 L575.45 598.74 L575 598.09 L574.55 599.36 L574.1 598.76 L573.65 599.8 L573.2 597.6Z" fill="#0000ff" stroke="none" />
<path d="M650.9 576.89V617.1 M659 573.49V617.1 M659.9 573.82V617.1 M662.6 571.77V617.1 M668 571.85V617.1 M676.1 569.81V617.1 M677 571.18V617.1 M678.8 572.55V617.1 M681.5 573V617.1 M682.4 568.87V617.1" stroke="#fff" stroke-opacity="0.55" stroke-width="0.4" fill="none"/>
<path d="M701.21 618.1 L701.21 612.6 L701.22 607.11 L701.23 601.61 L701.26 596.12 L701.31 590.62 L701.38 585.13 L701.48 579.63 L701.61 574.13 L701.78 568.64 L701.99 563.14 L702.12 568.64 L702.23 574.13 L702.31 579.63 L702.37 585.13 L702.41 590.62 L702.44 596.12 L702.46 601.61 L702.47 607.11 L702.47 612.6 L702.47 618.1 M703.64 618.1 L703.64 612.55 L703.64 607.01 L703.66 601.46 L703.69 595.92 L703.74 590.37 L703.81 584.83 L703.92 579.28 L704.06 573.74 L704.23 568.19 L704.46 562.64 L704.59 568.19 L704.7 573.74 L704.79 579.28 L704.85 584.83 L704.89 590.37 L704.93 595.92 L704.94 601.46 L704.95 607.01 L704.96 612.55 L704.96 618.1 M706.18 618.1 L706.18 612.5 L706.18 606.9 L706.2 601.3 L706.23 595.7 L706.28 590.1 L706.36 584.5 L706.47 578.9 L706.61 573.3 L706.8 567.7 L707.03 562.1 L707.17 567.7 L707.29 573.3 L707.38 578.9 L707.44 584.5 L707.49 590.1 L707.52 595.7 L707.54 601.3 L707.55 606.9 L707.56 612.5 L707.56 618.1 M708.83 618.1 L708.83 612.44 L708.84 606.78 L708.85 601.12 L708.89 595.46 L708.94 589.81 L709.02 584.15 L709.14 578.49 L709.29 572.83 L709.48 567.17 L709.73 561.51 L709.88 567.17 L710 572.83 L710.09 578.49 L710.16 584.15 L710.21 589.81 L710.24 595.46 L710.26 601.12 L710.27 606.78 L710.28 612.44 L710.28 618.1 M711.62 618.1 L711.62 612.38 L711.62 606.65 L711.64 600.93 L711.68 595.21 L711.73 589.48 L711.82 583.76 L711.94 578.04 L712.1 572.31 L712.3 566.59 L712.56 560.87 L712.72 566.59 L712.84 572.31 L712.94 578.04 L713.01 583.76 L713.07 589.48 L713.1 595.21 L713.12 600.93 L713.13 606.65 L713.14 612.38 L713.14 618.1 M714.54 618.1 L714.54 612.31 L714.55 606.51 L714.57 600.72 L714.61 594.92 L714.67 589.13 L714.76 583.34 L714.88 577.54 L715.05 571.75 L715.26 565.96 L715.53 560.16 L715.69 565.96 L715.82 571.75 L715.93 577.54 L716 583.34 L716.06 589.13 L716.1 594.92 L716.12 600.72 L716.13 606.51 L716.13 612.31 L716.13 618.1 M717.6 618.1 L717.6 612.23 L717.61 606.36 L717.63 600.49 L717.67 594.62 L717.73 588.75 L717.82 582.88 L717.95 577.01 L718.13 571.14 L718.35 565.27 L718.62 559.4 L718.79 565.27 L718.93 571.14 L719.04 577.01 L719.12 582.88 L719.17 588.75 L719.21 594.62 L719.23 600.49 L719.25 606.36 L719.25 612.23 L719.25 618.1 M720.77 618.1 L720.77 612.15 L720.78 606.19 L720.8 600.24 L720.84 594.28 L720.9 588.33 L721 582.38 L721.13 576.42 L721.3 570.47 L721.53 564.51 L721.81 558.56 L721.99 564.51 L722.12 570.47 L722.23 576.42 L722.31 582.38 L722.37 588.33 L722.41 594.28 L722.43 600.24 L722.45 606.19 L722.45 612.15 L722.45 618.1 M724 618.1 L724 612.05 L724.01 606.01 L724.03 599.96 L724.07 593.92 L724.14 587.87 L724.23 581.82 L724.37 575.78 L724.55 569.73 L724.78 563.68 L725.06 557.64 L725.24 563.68 L725.38 569.73 L725.49 575.78 L725.57 581.82 L725.63 587.87 L725.67 593.92 L725.69 599.96 L725.71 606.01 L725.71 612.05 L725.71 618.1 M727.29 618.1 L727.29 611.95 L727.3 605.8 L727.32 599.66 L727.36 593.51 L727.42 587.36 L727.52 581.21 L727.66 575.06 L727.84 568.92 L728.07 562.77 L728.36 556.62 L728.54 562.77 L728.68 568.92 L728.79 575.06 L728.88 581.21 L728.94 587.36 L728.98 593.51 L729 599.66 L729.01 605.8 L729.02 611.95 L729.02 618.1 M730.62 618.1 L730.62 611.84 L730.63 605.58 L730.65 599.31 L730.69 593.05 L730.75 586.79 L730.85 580.53 L730.99 574.27 L731.17 568 L731.41 561.74 L731.7 555.48 L731.89 561.74 L732.03 568 L732.14 574.27 L732.23 580.53 L732.29 586.79 L732.33 593.05 L732.35 599.31 L732.37 605.58 L732.37 611.84 L732.37 618.1 M733.99 618.1 L733.99 611.71 L734 605.33 L734.02 598.94 L734.06 592.56 L734.12 586.17 L734.22 579.78 L734.36 573.4 L734.55 567.01 L734.79 560.62 L735.08 554.24 L735.27 560.62 L735.41 567.01 L735.53 573.4 L735.61 579.78 L735.67 586.17 L735.71 592.56 L735.74 598.94 L735.75 605.33 L735.76 611.71 L735.76 618.1 M737.39 618.1 L737.39 611.57 L737.4 605.04 L737.42 598.5 L737.46 591.97 L737.53 585.44 L737.63 578.91 L737.77 572.38 L737.96 565.85 L738.2 559.31 L738.5 552.78 L738.68 559.31 L738.83 565.85 L738.94 572.38 L739.03 578.91 L739.09 585.44 L739.13 591.97 L739.15 598.5 L739.17 605.04 L739.17 611.57 L739.17 618.1 M740.82 618.1 L740.82 611.38 L740.83 604.67 L740.85 597.95 L740.89 591.23 L740.96 584.52 L741.06 577.8 L741.2 571.08 L741.39 564.37 L741.63 557.65 L741.93 550.94 L742.12 557.65 L742.26 564.37 L742.38 571.08 L742.47 577.8 L742.53 584.52 L742.57 591.23 L742.59 597.95 L742.61 604.67 L742.61 611.38 L742.61 618.1 M744.27 618.1 L744.27 611.13 L744.28 604.16 L744.3 597.2 L744.34 590.23 L744.41 583.26 L744.51 576.29 L744.65 569.32 L744.84 562.36 L745.08 555.39 L745.39 548.42 L745.57 555.39 L745.72 562.36 L745.84 569.32 L745.92 576.29 L745.98 583.26 L746.03 590.23 L746.05 597.2 L746.06 604.16 L746.07 611.13 L746.07 618.1 M747.73 618.1 L747.74 610.75 L747.74 603.39 L747.76 596.04 L747.81 588.69 L747.87 581.33 L747.98 573.98 L748.12 566.63 L748.31 559.27 L748.55 551.92 L748.86 544.57 L749.04 551.92 L749.19 559.27 L749.31 566.63 L749.4 573.98 L749.46 581.33 L749.5 588.69 L749.53 596.04 L749.54 603.39 L749.54 610.75 L749.54 618.1 M751.22 618.1 L751.22 609.99 L751.22 601.88 L751.25 593.76 L751.29 585.65 L751.36 577.54 L751.46 569.43 L751.6 561.32 L751.79 553.2 L752.04 545.09 L752.34 536.98 L752.53 545.09 L752.68 553.2 L752.79 561.32 L752.88 569.43 L752.95 577.54 L752.99 585.65 L753.01 593.76 L753.03 601.88 L753.03 609.99 L753.03 618.1" fill="none" stroke="#0000ff" stroke-width="0.8" stroke-linejoin="round"/>
<path d="M683.7 618.1 L683.7 612.92 L683.7 607.73 L683.71 602.55 L683.73 597.36 L683.77 592.18 L683.81 586.99 L683.88 581.81 L683.97 576.62 L684.08 571.44 L684.23 566.25 L684.31 571.44 L684.38 576.62 L684.44 581.81 L684.48 586.99 L684.51 592.18 L684.53 597.36 L684.54 602.55 L684.54 607.73 L684.55 612.92 L684.55 618.1 M685.33 618.1 L685.33 612.89 L685.33 607.68 L685.34 602.47 L685.36 597.26 L685.4 592.05 L685.45 586.84 L685.52 581.63 L685.61 576.41 L685.73 571.2 L685.88 565.99 L685.97 571.2 L686.04 576.41 L686.1 581.63 L686.14 586.84 L686.17 592.05 L686.19 597.26 L686.2 602.47 L686.21 607.68 L686.21 612.89 L686.21 618.1 M687.02 618.1 L687.03 612.86 L687.03 607.62 L687.04 602.39 L687.06 597.15 L687.1 591.91 L687.15 586.67 L687.22 581.43 L687.32 576.2 L687.44 570.96 L687.6 565.72 L687.69 570.96 L687.77 576.2 L687.82 581.43 L687.87 586.67 L687.9 591.91 L687.92 597.15 L687.94 602.39 L687.94 607.62 L687.94 612.86 L687.94 618.1 M688.79 618.1 L688.79 612.83 L688.8 607.57 L688.81 602.3 L688.83 597.03 L688.87 591.76 L688.92 586.5 L689 581.23 L689.1 575.96 L689.23 570.7 L689.39 565.43 L689.49 570.7 L689.57 575.96 L689.63 581.23 L689.68 586.5 L689.71 591.76 L689.73 597.03 L689.75 602.3 L689.75 607.57 L689.75 612.83 L689.76 618.1 M690.64 618.1 L690.64 612.8 L690.65 607.5 L690.66 602.21 L690.68 596.91 L690.72 591.61 L690.78 586.31 L690.86 581.01 L690.96 575.71 L691.09 570.42 L691.26 565.12 L691.37 570.42 L691.45 575.71 L691.51 581.01 L691.56 586.31 L691.6 591.61 L691.62 596.91 L691.63 602.21 L691.64 607.5 L691.64 612.8 L691.64 618.1 M692.57 618.1 L692.57 612.77 L692.57 607.44 L692.59 602.1 L692.61 596.77 L692.65 591.44 L692.71 586.11 L692.79 580.78 L692.9 575.45 L693.04 570.11 L693.22 564.78 L693.33 570.11 L693.41 575.45 L693.48 580.78 L693.53 586.11 L693.57 591.44 L693.59 596.77 L693.61 602.1 L693.61 607.44 L693.62 612.77 L693.62 618.1 M694.58 618.1 L694.58 612.73 L694.59 607.36 L694.6 602 L694.63 596.63 L694.67 591.26 L694.73 585.89 L694.82 580.52 L694.93 575.16 L695.08 569.79 L695.26 564.42 L695.38 569.79 L695.47 575.16 L695.54 580.52 L695.59 585.89 L695.63 591.26 L695.65 596.63 L695.67 602 L695.68 607.36 L695.68 612.73 L695.68 618.1 M696.69 618.1 L696.69 612.69 L696.7 607.29 L696.71 601.88 L696.74 596.47 L696.78 591.06 L696.84 585.66 L696.94 580.25 L697.06 574.84 L697.21 569.44 L697.4 564.03 L697.52 569.44 L697.62 574.84 L697.69 580.25 L697.74 585.66 L697.78 591.06 L697.81 596.47 L697.83 601.88 L697.84 607.29 L697.84 612.69 L697.84 618.1 M698.9 618.1 L698.9 612.65 L698.9 607.2 L698.92 601.75 L698.95 596.3 L698.99 590.85 L699.06 585.4 L699.15 579.95 L699.28 574.5 L699.44 569.05 L699.64 563.6 L699.77 569.05 L699.87 574.5 L699.95 579.95 L700 585.4 L700.04 590.85 L700.07 596.3 L700.09 601.75 L700.1 607.2 L700.1 612.65 L700.1 618.1" fill="none" stroke="#0000ff" stroke-width="1.0" stroke-linejoin="round"/>
<path d="M753.18 570.07 L753.48 536.09 L753.78 519 L807.3 519" fill="none" stroke="#0000ff" stroke-width="1.5" stroke-linejoin="round" />
<path d="M573.57 469.21 L573.82 469.18 L574.07 469.15 L574.32 469.12 L574.57 469.09 L574.82 469.06 L575.07 469.03 L575.32 469 L575.57 468.97 L575.82 468.94 L576.07 468.91 L576.32 468.89 L576.57 468.86 L576.82 468.83 L577.07 468.8 L577.32 468.77 L577.57 468.74 L577.82 468.72 L578.07 468.69 L578.32 468.66 L578.57 468.63 L578.82 468.61 L579.07 468.58 L579.32 468.55 L579.57 468.52 L579.82 468.5 L580.07 468.47 L580.32 468.44 L580.57 468.42 L580.82 468.39 L581.07 468.37 L581.32 468.34 L581.57 468.32 L581.82 468.29 L582.07 468.26 L582.32 468.24 L582.57 468.21 L582.82 468.19 L583.07 468.17 L583.32 468.14 L583.57 468.12 L583.82 468.09 L584.07 468.07 L584.32 468.05 L584.57 468.02 L584.82 468 L585.07 467.98 L585.32 467.95 L585.57 467.93 L585.82 467.91 L586.07 467.89 L586.32 467.87 L586.57 467.84 L586.82 467.82 L587.07 467.8 L587.32 467.78 L587.57 467.76 L587.82 467.74 L588.07 467.72 L588.32 467.7 L588.57 467.68 L588.82 467.66 L589.07 467.64 L589.32 467.62 L589.57 467.6 L589.82 467.58 L590.07 467.56 L590.32 467.54 L590.57 467.52 L590.82 467.5 L591.07 467.48 L591.32 467.46 L591.57 467.44 L591.82 467.42 L592.07 467.4 L592.32 467.38 L592.57 467.36 L592.82 467.34 L593.07 467.32 L593.32 467.31 L593.57 467.29 L593.82 467.27 L594.07 467.25 L594.32 467.23 L594.57 467.22 L594.82 467.2 L595.07 467.18 L595.33 467.16 L595.58 467.15 L595.83 467.13 L596.08 467.11 L596.33 467.1 L596.58 467.08 L596.83 467.06 L597.08 467.05 L597.33 467.03 L597.58 467.02 L597.83 467 L598.08 466.99 L598.33 466.97 L598.58 466.95 L598.83 466.94 L599.08 466.93 L599.33 466.91 L599.58 466.9 L599.83 466.88 L600.08 466.87 L600.33 466.86 L600.58 466.84 L600.83 466.83 L601.08 466.82 L601.33 466.8 L601.58 466.79 L601.83 466.78 L602.08 466.77 L602.33 466.75 L602.58 466.74 L602.83 466.73 L603.08 466.71 L603.33 466.7 L603.58 466.69 L603.83 466.68 L604.08 466.66 L604.33 466.65 L604.58 466.64 L604.83 466.62 L605.08 466.61 L605.33 466.6 L605.58 466.59 L605.83 466.57 L606.08 466.56 L606.33 466.55 L606.58 466.53 L606.83 466.52 L607.08 466.51 L607.33 466.49 L607.58 466.48 L607.83 466.47 L608.08 466.46 L608.33 466.44 L608.58 466.43 L608.83 466.42 L609.08 466.4 L609.33 466.39 L609.58 466.38 L609.83 466.37 L610.08 466.35 L610.33 466.34 L610.58 466.33 L610.83 466.32 L611.08 466.3 L611.33 466.29 L611.58 466.28 L611.83 466.27 L612.08 466.25 L612.33 466.24 L612.58 466.23 L612.83 466.22 L613.08 466.21 L613.33 466.19 L613.58 466.18 L613.83 466.17 L614.08 466.16 L614.33 466.15 L614.58 466.14 L614.83 466.12 L615.08 466.11 L615.33 466.1 L615.58 466.09 L615.83 466.08 L616.08 466.07 L616.33 466.06 L616.58 466.05 L616.83 466.04 L617.08 466.03 L617.33 466.01 L617.58 466 L617.83 465.99 L618.08 465.98 L618.33 465.97 L618.58 465.96 L618.83 465.95 L619.08 465.94 L619.33 465.93 L619.58 465.93 L619.83 465.92 L620.08 465.91 L620.34 465.9 L620.59 465.89 L620.84 465.88 L621.09 465.87 L621.34 465.86 L621.59 465.85 L621.84 465.85 L622.09 465.84 L622.34 465.83 L622.59 465.82 L622.84 465.82 L623.09 465.81 L623.34 465.8 L623.59 465.79 L623.84 465.79 L624.09 465.78 L624.34 465.77 L624.59 465.77 L624.84 465.76 L625.09 465.76 L625.34 465.75 L625.59 465.74 L625.84 465.74 L626.09 465.73 L626.34 465.73 L626.59 465.72 L626.84 465.72 L627.09 465.71 L627.34 465.71 L627.59 465.71 L627.84 465.7 L628.09 465.7 L628.34 465.7 L628.59 465.69 L628.84 465.69 L629.09 465.69 L629.34 465.68 L629.59 465.68 L629.84 465.68 L630.09 465.68 L630.34 465.68 L630.59 465.68 L630.84 465.67 L631.09 465.67 L631.34 465.67 L631.59 465.67 L631.84 465.67 L632.09 465.67 L632.34 465.67 L632.59 465.67 L632.84 465.67 L633.09 465.67 L633.34 465.67 L633.59 465.67 L633.84 465.67 L634.09 465.67 L634.34 465.67 L634.59 465.67 L634.84 465.67 L635.09 465.67 L635.34 465.67 L635.59 465.67 L635.84 465.67 L636.09 465.67 L636.34 465.67 L636.59 465.67 L636.84 465.67 L637.09 465.67 L637.34 465.67 L637.59 465.67 L637.84 465.67 L638.09 465.67 L638.34 465.67 L638.59 465.67 L638.84 465.67 L639.09 465.67 L639.34 465.67 L639.59 465.67 L639.84 465.67 L640.09 465.67 L640.34 465.67 L640.59 465.67 L640.84 465.67 L641.09 465.67 L641.34 465.67 L641.59 465.67 L641.84 465.67 L642.09 465.67 L642.34 465.67 L642.59 465.67 L642.84 465.67 L643.09 465.67 L643.34 465.67 L643.59 465.67 L643.84 465.67 L644.09 465.67 L644.34 465.67 L644.59 465.67 L644.84 465.67 L645.09 465.67 L645.35 465.67 L645.6 465.67 L645.85 465.67 L646.1 465.67 L646.35 465.67 L646.6 465.67 L646.85 465.67 L647.1 465.67 L647.35 465.67 L647.6 465.67 L647.85 465.67 L648.1 465.67 L648.35 465.67 L648.6 465.67 L648.85 465.67 L649.1 465.67 L649.35 465.67 L649.6 465.67 L649.85 465.67 L650.1 465.67 L650.35 465.67 L650.6 465.67 L650.85 465.67 L651.1 465.67 L651.35 465.67 L651.6 465.67 L651.85 465.67 L652.1 465.67 L652.35 465.67 L652.6 465.67 L652.85 465.67 L653.1 465.67 L653.35 465.67 L653.6 465.67 L653.85 465.67 L654.1 465.67 L654.35 465.67 L654.6 465.67 L654.85 465.67 L655.1 465.67 L655.35 465.67 L655.6 465.67 L655.85 465.67 L656.1 465.67 L656.35 465.67 L656.6 465.67 L656.85 465.67 L657.1 465.67 L657.35 465.67 L657.6 465.67 L657.85 465.67 L658.1 465.67 L658.35 465.67 L658.6 465.67 L658.85 465.68 L659.1 465.68 L659.35 465.68 L659.6 465.68 L659.85 465.69 L660.1 465.69 L660.35 465.7 L660.6 465.7 L660.85 465.71 L661.1 465.71 L661.35 465.72 L661.6 465.73 L661.85 465.73 L662.1 465.74 L662.35 465.75 L662.6 465.76 L662.85 465.77 L663.1 465.78 L663.35 465.79 L663.6 465.79 L663.85 465.8 L664.1 465.82 L664.35 465.83 L664.6 465.84 L664.85 465.85 L665.1 465.86 L665.35 465.87 L665.6 465.88 L665.85 465.9 L666.1 465.91 L666.35 465.92 L666.6 465.93 L666.85 465.95 L667.1 465.96 L667.35 465.97 L667.6 465.99 L667.85 466 L668.1 466.01 L668.35 466.03 L668.6 466.04 L668.85 466.05 L669.1 466.07 L669.35 466.08 L669.6 466.1 L669.85 466.11 L670.11 466.12 L670.36 466.14 L670.61 466.15 L670.86 466.17 L671.11 466.18 L671.36 466.2 L671.61 466.21 L671.86 466.22 L672.11 466.24 L672.36 466.25 L672.61 466.27 L672.86 466.28 L673.11 466.3 L673.36 466.31 L673.61 466.33 L673.86 466.35 L674.11 466.36 L674.36 466.38 L674.61 466.4 L674.86 466.41 L675.11 466.43 L675.36 466.45 L675.61 466.47 L675.86 466.49 L676.11 466.51 L676.36 466.53 L676.61 466.55 L676.86 466.57 L677.11 466.59 L677.36 466.61 L677.61 466.63 L677.86 466.65 L678.11 466.67 L678.36 466.69 L678.61 466.72 L678.86 466.74 L679.11 466.76 L679.36 466.78 L679.61 466.81 L679.86 466.83 L680.11 466.86 L680.36 466.88 L680.61 466.9 L680.86 466.93 L681.11 466.95 L681.36 466.98 L681.61 467 L681.86 467.03 L682.11 467.06 L682.36 467.08 L682.61 467.11 L682.86 467.14 L683.11 467.16 L683.36 467.19 L683.61 467.22 L683.86 467.25 L684.11 467.28 L684.36 467.3 L684.61 467.33 L684.86 467.36 L685.11 467.39 L685.36 467.42 L685.61 467.45 L685.86 467.48 L686.11 467.51 L686.36 467.54 L686.61 467.57 L686.86 467.6 L687.11 467.63 L687.36 467.67 L687.61 467.7 L687.86 467.73 L688.11 467.76 L688.36 467.79 L688.61 467.83 L688.86 467.86 L689.11 467.89 L689.36 467.93 L689.61 467.96 L689.86 467.99 L690.11 468.03 L690.36 468.06 L690.61 468.09 L690.86 468.13 L691.11 468.16 L691.36 468.2 L691.61 468.24 L691.86 468.27 L692.11 468.31 L692.36 468.35 L692.61 468.39 L692.86 468.43 L693.11 468.47 L693.36 468.51 L693.61 468.56 L693.86 468.6 L694.11 468.64 L694.36 468.68 L694.61 468.73 L694.86 468.77 L695.12 468.82 L695.37 468.87 L695.62 468.91 L695.87 468.96 L696.12 469.01 L696.37 469.06 L696.62 469.1 L696.87 469.15 L697.12 469.2 L697.37 469.25 L697.62 469.3 L697.87 469.36 L698.12 469.41 L698.37 469.46 L698.62 469.51 L698.87 469.57 L699.12 469.62 L699.37 469.68 L699.62 469.73 L699.87 469.79 L700.12 469.94 L700.37 469.94 L700.62 469.94 L700.87 469.94 L701.12 469.93 L701.37 469.92 L701.62 470.28 L701.87 470.27 L702.12 470.27 L702.37 470.26 L702.62 470.25 L702.87 470.24 L703.12 470.23 L703.37 470.64 L703.62 470.63 L703.87 470.62 L704.12 470.61 L704.37 470.6 L704.62 470.58 L704.87 470.57 L705.12 471.04 L705.37 471.03 L705.62 471.01 L705.87 471 L706.12 470.98 L706.37 470.96 L706.62 470.94 L706.87 471.48 L707.12 471.46 L707.37 471.44 L707.62 471.42 L707.87 471.4 L708.12 471.38 L708.37 471.35 L708.62 471.33 L708.87 471.93 L709.12 471.91 L709.37 471.89 L709.62 471.87 L709.87 471.84 L710.12 471.82 L710.37 471.79 L710.62 471.76 L710.87 472.44 L711.12 472.42 L711.37 472.4 L711.62 472.38 L711.87 472.35 L712.12 472.33 L712.37 472.3 L712.62 472.28 L712.87 473.03 L713.12 473.01 L713.37 472.99 L713.62 472.97 L713.87 472.94 L714.12 472.92 L714.37 472.89 L714.62 472.86 L714.87 473.69 L715.12 473.67 L715.37 473.65 L715.62 473.63 L715.87 473.61 L716.12 473.58 L716.37 473.56 L716.62 473.53 L716.87 473.51 L717.12 474.42 L717.37 474.4 L717.62 474.38 L717.87 474.36 L718.12 474.33 L718.37 474.31 L718.62 474.28 L718.87 474.26 L719.12 474.23 L719.37 475.23 L719.62 475.21 L719.88 475.19 L720.13 475.17 L720.38 475.16 L720.63 475.15 L720.88 475.13 L721.13 475.11 L721.38 475.1 L721.63 475.08 L721.88 476.18 L722.13 476.17 L722.38 476.16 L722.63 476.15 L722.88 476.13 L723.13 476.12 L723.38 476.1 L723.63 476.09 L723.88 476.07 L724.13 476.05 L724.38 477.24 L724.63 477.23 L724.88 477.22 L725.13 477.21 L725.38 477.19 L725.63 477.18 L725.88 477.16 L726.13 477.14 L726.38 477.13 L726.63 477.11 L726.88 478.39 L727.13 478.38 L727.38 478.37 L727.63 478.36 L727.88 478.34 L728.13 478.33 L728.38 478.31 L728.63 478.29 L728.88 478.27 L729.13 478.25 L729.38 478.23 L729.63 479.62 L729.88 479.61 L730.13 479.6 L730.38 479.58 L730.63 479.57 L730.88 479.55 L731.13 479.53 L731.38 479.52 L731.63 479.5 L731.88 479.48 L732.13 479.46 L732.38 480.96 L732.63 480.95 L732.88 480.94 L733.13 480.93 L733.38 480.91 L733.63 480.9 L733.88 480.89 L734.13 480.88 L734.38 480.87 L734.63 480.85 L734.88 480.84 L735.13 482.44 L735.38 482.44 L735.63 482.44 L735.88 482.43 L736.13 482.43 L736.38 482.42 L736.63 482.42 L736.88 482.42 L737.13 482.41 L737.38 482.41 L737.63 482.4 L737.88 482.4 L738.13 484.13 L738.38 484.13 L738.63 484.14 L738.88 484.14 L739.13 484.15 L739.38 484.16 L739.63 484.17 L739.88 484.17 L740.13 484.18 L740.38 484.19 L740.63 484.21 L740.88 484.22 L741.13 484.24 L741.38 486.06 L741.63 486.08 L741.88 486.1 L742.13 486.13 L742.38 486.16 L742.63 486.19 L742.88 486.22 L743.13 486.25 L743.38 486.28 L743.63 486.32 L743.88 486.35 L744.13 486.39 L744.38 486.42 L744.63 488.27 L744.89 488.31 L745.14 488.35 L745.39 488.4 L745.64 488.46 L745.89 488.52 L746.14 488.58 L746.39 488.65 L746.64 488.72 L746.89 488.8 L747.14 488.89 L747.39 488.98 L747.64 489.09 L747.89 491 L748.14 491.11 L748.39 491.24 L748.64 491.38 L748.89 491.52 L749.14 491.68 L749.39 491.84 L749.64 492.02 L749.89 492.21 L750.14 492.41 L750.39 492.66 L750.64 492.94 L750.89 493.26 L751.14 493.62 L751.39 495.8 L751.64 496.21 L751.89 496.65 L752.14 497.12 L752.39 497.61 L752.64 498.13 L752.89 498.74 L753.14 499.43 L753.39 500.17 L753.64 500.95 L753.78 503.82 L807.3 503.82" fill="none" stroke="#00ff00" stroke-width="0.6" stroke-linejoin="round" />
<path d="M573.57 469.21 L573.82 469.18 L574.07 469.15 L574.32 469.12 L574.57 469.09 L574.82 469.06 L575.07 469.03 L575.32 469 L575.57 468.97 L575.82 468.94 L576.07 468.91 L576.32 468.89 L576.57 468.86 L576.82 468.83 L577.07 468.8 L577.32 468.77 L577.57 468.74 L577.82 468.72 L578.07 468.69 L578.32 468.66 L578.57 468.63 L578.82 468.61 L579.07 468.58 L579.32 468.55 L579.57 468.52 L579.82 468.5 L580.07 468.47 L580.32 468.44 L580.57 468.42 L580.82 468.39 L581.07 468.37 L581.32 468.34 L581.57 468.32 L581.82 468.29 L582.07 468.26 L582.32 468.24 L582.57 468.21 L582.82 468.19 L583.07 468.17 L583.32 468.14 L583.57 468.12 L583.82 468.09 L584.07 468.07 L584.32 468.05 L584.57 468.02 L584.82 468 L585.07 467.98 L585.32 467.95 L585.57 467.93 L585.82 467.91 L586.07 467.89 L586.32 467.87 L586.57 467.84 L586.82 467.82 L587.07 467.8 L587.32 467.78 L587.57 467.76 L587.82 467.74 L588.07 467.72 L588.32 467.7 L588.57 467.68 L588.82 467.66 L589.07 467.64 L589.32 467.62 L589.57 467.6 L589.82 467.58 L590.07 467.56 L590.32 467.54 L590.57 467.52 L590.82 467.5 L591.07 467.48 L591.32 467.46 L591.57 467.44 L591.82 467.42 L592.07 467.4 L592.32 467.38 L592.57 467.36 L592.82 467.34 L593.07 467.32 L593.32 467.31 L593.57 467.29 L593.82 467.27 L594.07 467.25 L594.32 467.23 L594.57 467.22 L594.82 467.2 L595.07 467.18 L595.33 467.16 L595.58 467.15 L595.83 467.13 L596.08 467.11 L596.33 467.1 L596.58 467.08 L596.83 467.06 L597.08 467.05 L597.33 467.03 L597.58 467.02 L597.83 467 L598.08 466.99 L598.33 466.97 L598.58 466.95 L598.83 466.94 L599.08 466.93 L599.33 466.91 L599.58 466.9 L599.83 466.88 L600.08 466.87 L600.33 466.86 L600.58 466.84 L600.83 466.83 L601.08 466.82 L601.33 466.8 L601.58 466.79 L601.83 466.78 L602.08 466.77 L602.33 466.75 L602.58 466.74 L602.83 466.73 L603.08 466.71 L603.33 466.7 L603.58 466.69 L603.83 466.68 L604.08 466.66 L604.33 466.65 L604.58 466.64 L604.83 466.62 L605.08 466.61 L605.33 466.6 L605.58 466.59 L605.83 466.57 L606.08 466.56 L606.33 466.55 L606.58 466.53 L606.83 466.52 L607.08 466.51 L607.33 466.49 L607.58 466.48 L607.83 466.47 L608.08 466.46 L608.33 466.44 L608.58 466.43 L608.83 466.42 L609.08 466.4 L609.33 466.39 L609.58 466.38 L609.83 466.37 L610.08 466.35 L610.33 466.34 L610.58 466.33 L610.83 466.32 L611.08 466.3 L611.33 466.29 L611.58 466.28 L611.83 466.27 L612.08 466.25 L612.33 466.24 L612.58 466.23 L612.83 466.22 L613.08 466.21 L613.33 466.19 L613.58 466.18 L613.83 466.17 L614.08 466.16 L614.33 466.15 L614.58 466.14 L614.83 466.12 L615.08 466.11 L615.33 466.1 L615.58 466.09 L615.83 466.08 L616.08 466.07 L616.33 466.06 L616.58 466.05 L616.83 466.04 L617.08 466.03 L617.33 466.01 L617.58 466 L617.83 465.99 L618.08 465.98 L618.33 465.97 L618.58 465.96 L618.83 465.95 L619.08 465.94 L619.33 465.93 L619.58 465.93 L619.83 465.92 L620.08 465.91 L620.34 465.9 L620.59 465.89 L620.84 465.88 L621.09 465.87 L621.34 465.86 L621.59 465.85 L621.84 465.85 L622.09 465.84 L622.34 465.83 L622.59 465.82 L622.84 465.82 L623.09 465.81 L623.34 465.8 L623.59 465.79 L623.84 465.79 L624.09 465.78 L624.34 465.77 L624.59 465.77 L624.84 465.76 L625.09 465.76 L625.34 465.75 L625.59 465.74 L625.84 465.74 L626.09 465.73 L626.34 465.73 L626.59 465.72 L626.84 465.72 L627.09 465.71 L627.34 465.71 L627.59 465.71 L627.84 465.7 L628.09 465.7 L628.34 465.7 L628.59 465.69 L628.84 465.69 L629.09 465.69 L629.34 465.68 L629.59 465.68 L629.84 465.68 L630.09 465.68 L630.34 465.68 L630.59 465.68 L630.84 465.67 L631.09 465.67 L631.34 465.67 L631.59 465.67 L631.84 465.67 L632.09 465.67 L632.34 465.67 L632.59 465.67 L632.84 465.67 L633.09 465.67 L633.34 465.67 L633.59 465.67 L633.84 465.67 L634.09 465.67 L634.34 465.67 L634.59 465.67 L634.84 465.67 L635.09 465.67 L635.34 465.67 L635.59 465.67 L635.84 465.67 L636.09 465.67 L636.34 465.67 L636.59 465.67 L636.84 465.67 L637.09 465.67 L637.34 465.67 L637.59 465.67 L637.84 465.67 L638.09 465.67 L638.34 465.67 L638.59 465.67 L638.84 465.67 L639.09 465.67 L639.34 465.67 L639.59 465.67 L639.84 465.67 L640.09 465.67 L640.34 465.67 L640.59 465.67 L640.84 465.67 L641.09 465.67 L641.34 465.67 L641.59 465.67 L641.84 465.67 L642.09 465.67 L642.34 465.67 L642.59 465.67 L642.84 465.67 L643.09 465.67 L643.34 465.67 L643.59 465.67 L643.84 465.67 L644.09 465.67 L644.34 465.67 L644.59 465.67 L644.84 465.67 L645.09 465.67 L645.35 465.67 L645.6 465.67 L645.85 465.67 L646.1 465.67 L646.35 465.67 L646.6 465.67 L646.85 465.67 L647.1 465.67 L647.35 465.67 L647.6 465.67 L647.85 465.67 L648.1 465.67 L648.35 465.67 L648.6 465.67 L648.85 465.67 L649.1 465.67 L649.35 465.67 L649.6 465.67 L649.85 465.67 L650.1 465.67 L650.35 465.67 L650.6 465.67 L650.85 465.67 L651.1 465.67 L651.35 465.67 L651.6 465.67 L651.85 465.67 L652.1 465.67 L652.35 465.67 L652.6 465.67 L652.85 465.67 L653.1 465.67 L653.35 465.67 L653.6 465.67 L653.85 465.67 L654.1 465.67 L654.35 465.67 L654.6 465.67 L654.85 465.67 L655.1 465.67 L655.35 465.67 L655.6 465.67 L655.85 465.67 L656.1 465.67 L656.35 465.67 L656.6 465.67 L656.85 465.67 L657.1 465.67 L657.35 465.67 L657.6 465.67 L657.85 465.67 L658.1 465.67 L658.35 465.67 L658.6 465.67 L658.85 465.68 L659.1 465.68 L659.35 465.68 L659.6 465.68 L659.85 465.69 L660.1 465.69 L660.35 465.7 L660.6 465.7 L660.85 465.71 L661.1 465.71 L661.35 465.72 L661.6 465.73 L661.85 465.73 L662.1 465.74 L662.35 465.75 L662.6 465.76 L662.85 465.77 L663.1 465.78 L663.35 465.79 L663.6 465.79 L663.85 465.8 L664.1 465.82 L664.35 465.83 L664.6 465.84 L664.85 465.85 L665.1 465.86 L665.35 465.87 L665.6 465.88 L665.85 465.9 L666.1 465.91 L666.35 465.92 L666.6 465.93 L666.85 465.95 L667.1 465.96 L667.35 465.97 L667.6 465.99 L667.85 466 L668.1 466.01 L668.35 466.03 L668.6 466.04 L668.85 466.05 L669.1 466.07 L669.35 466.08 L669.6 466.1 L669.85 466.11 L670.11 466.12 L670.36 466.14 L670.61 466.15 L670.86 466.17 L671.11 466.18 L671.36 466.2 L671.61 466.21 L671.86 466.22 L672.11 466.24 L672.36 466.25 L672.61 466.27 L672.86 466.28 L673.11 466.3 L673.36 466.31 L673.61 466.33 L673.86 466.35 L674.11 466.36 L674.36 466.38 L674.61 466.4 L674.86 466.41 L675.11 466.43 L675.36 466.45 L675.61 466.47 L675.86 466.49 L676.11 466.51 L676.36 466.53 L676.61 466.55 L676.86 466.57 L677.11 466.59 L677.36 466.61 L677.61 466.63 L677.86 466.65 L678.11 466.67 L678.36 466.69 L678.61 466.72 L678.86 466.74 L679.11 466.76 L679.36 466.78 L679.61 466.81 L679.86 466.83 L680.11 466.86 L680.36 466.88 L680.61 466.9 L680.86 466.93 L681.11 466.95 L681.36 466.98 L681.61 467 L681.86 467.03 L682.11 467.06 L682.36 467.08 L682.61 467.11 L682.86 467.14 L683.11 467.16 L683.36 467.19 L683.61 467.22 L683.86 467.25 L684.11 467.28 L684.36 467.3 L684.61 467.33 L684.86 467.36 L685.11 467.39 L685.36 467.42 L685.61 467.45 L685.86 467.48 L686.11 467.51 L686.36 467.54 L686.61 467.57 L686.86 467.6 L687.11 467.63 L687.36 467.67 L687.61 467.7 L687.86 467.73 L688.11 467.76 L688.36 467.79 L688.61 467.83 L688.86 467.86 L689.11 467.89 L689.36 467.93 L689.61 467.96 L689.86 467.99 L690.11 468.03 L690.36 468.06 L690.61 468.09 L690.86 468.13 L691.11 468.16 L691.36 468.2 L691.61 468.24 L691.86 468.27 L692.11 468.31 L692.36 468.35 L692.61 468.39 L692.86 468.43 L693.11 468.47 L693.36 468.51 L693.61 468.56 L693.86 468.6 L694.11 468.64 L694.36 468.68 L694.61 468.73 L694.86 468.77 L695.12 468.82 L695.37 468.87 L695.62 468.91 L695.87 468.96 L696.12 469.01 L696.37 469.06 L696.62 469.1 L696.87 469.15 L697.12 469.2 L697.37 469.25 L697.62 469.3 L697.87 469.36 L698.12 469.41 L698.37 469.46 L698.62 469.51 L698.87 469.57 L699.12 469.62 L699.37 469.68 L699.62 469.73 L699.87 469.79 L700.12 469.94 L700.37 469.94 L700.62 469.94 L700.87 469.94 L701.12 469.93 L701.37 469.92 L701.62 470.28 L701.87 470.27 L702.12 470.27 L702.37 470.26 L702.62 470.25 L702.87 470.24 L703.12 470.23 L703.37 470.64 L703.62 470.63 L703.87 470.62 L704.12 470.61 L704.37 470.6 L704.62 470.58 L704.87 470.57 L705.12 471.04 L705.37 471.03 L705.62 471.01 L705.87 471 L706.12 470.98 L706.37 470.96 L706.62 470.94 L706.87 471.48 L707.12 471.46 L707.37 471.44 L707.62 471.42 L707.87 471.4 L708.12 471.38 L708.37 471.35 L708.62 471.33 L708.87 471.93 L709.12 471.91 L709.37 471.89 L709.62 471.87 L709.87 471.84 L710.12 471.82 L710.37 471.79 L710.62 471.76 L710.87 472.44 L711.12 472.42 L711.37 472.4 L711.62 472.38 L711.87 472.35 L712.12 472.33 L712.37 472.3 L712.62 472.28 L712.87 473.03 L713.12 473.01 L713.37 472.99 L713.62 472.97 L713.87 472.94 L714.12 472.92 L714.37 472.89 L714.62 472.86 L714.87 473.69 L715.12 473.67 L715.37 473.65 L715.62 473.63 L715.87 473.61 L716.12 473.58 L716.37 473.56 L716.62 473.53 L716.87 473.51 L717.12 474.42 L717.37 474.4 L717.62 474.38 L717.87 474.36 L718.12 474.33 L718.37 474.31 L718.62 474.28 L718.87 474.26 L719.12 474.23 L719.37 475.23 L719.62 475.21 L719.88 475.19 L720.13 475.17 L720.38 475.16 L720.63 475.15 L720.88 475.13 L721.13 475.11 L721.38 475.1 L721.63 475.08 L721.88 476.18 L722.13 476.17 L722.38 476.16 L722.63 476.15 L722.88 476.13 L723.13 476.12 L723.38 476.1 L723.63 476.09 L723.88 476.07 L724.13 476.05 L724.38 477.24 L724.63 477.23 L724.88 477.22 L725.13 477.21 L725.38 477.19 L725.63 477.18 L725.88 477.16 L726.13 477.14 L726.38 477.13 L726.63 477.11 L726.88 478.39 L727.13 478.38 L727.38 478.37 L727.63 478.36 L727.88 478.34 L728.13 478.33 L728.38 478.31 L728.63 478.29 L728.88 478.27 L729.13 478.25 L729.38 478.23 L729.63 479.62 L729.88 479.61 L730.13 479.6 L730.38 479.58 L730.63 479.57 L730.88 479.55 L731.13 479.53 L731.38 479.52 L731.63 479.5 L731.88 479.48 L732.13 479.46 L732.38 480.96 L732.63 480.95 L732.88 480.94 L733.13 480.93 L733.38 480.91 L733.63 480.9 L733.88 480.89 L734.13 480.88 L734.38 480.87 L734.63 480.85 L734.88 480.84 L735.13 482.44 L735.38 482.44 L735.63 482.44 L735.88 482.43 L736.13 482.43 L736.38 482.42 L736.63 482.42 L736.88 482.42 L737.13 482.41 L737.38 482.41 L737.63 482.4 L737.88 482.4 L738.13 484.13 L738.38 484.13 L738.63 484.14 L738.88 484.14 L739.13 484.15 L739.38 484.16 L739.63 484.17 L739.88 484.17 L740.13 484.18 L740.38 484.19 L740.63 484.21 L740.88 484.22 L741.13 484.24 L741.38 486.06 L741.63 486.08 L741.88 486.1 L742.13 486.13 L742.38 486.16 L742.63 486.19 L742.88 486.22 L743.13 486.25 L743.38 486.28 L743.63 486.32 L743.88 486.35 L744.13 486.39 L744.38 486.42 L744.63 488.27 L744.89 488.31 L745.14 488.35 L745.39 488.4 L745.64 488.46 L745.89 488.52 L746.14 488.58 L746.39 488.65 L746.64 488.72 L746.89 488.8 L747.14 488.89 L747.39 488.98 L747.64 489.09 L747.89 491 L748.14 491.11 L748.39 491.24 L748.64 491.38 L748.89 491.52 L749.14 491.68 L749.39 491.84 L749.64 492.02 L749.89 492.21 L750.14 492.41 L750.39 492.66 L750.64 492.94 L750.89 493.26 L751.14 493.62 L751.39 495.8 L751.64 496.21 L751.89 496.65 L752.14 497.12 L752.39 497.61 L752.64 498.13 L752.89 498.74 L753.14 499.43 L753.39 500.17 L753.64 500.95 L753.78 503.82 L807.3 503.82" fill="none" stroke="#f40800" stroke-width="1.15" stroke-linejoin="round" stroke-linejoin="miter"/>
<path d="M574.1 456.82V468.71" stroke="#ff0000" stroke-width="0.8" stroke-opacity="0.35" fill="none"/>
</g>
<text transform="translate(713 490.4) scale(1.25 1)" font-family='"Liberation Serif", serif' font-size="15.2" fill="#ff0000" stroke="#ff0000" stroke-width="0.42" font-style="italic" >J</text>
<text transform="translate(722.2 494.5) scale(1.25 1)" font-family='"Liberation Serif", serif' font-size="10.2" fill="#ff0000" stroke="#ff0000" stroke-width="0.42" >2</text>
<text transform="translate(713.1 550.8) scale(1.1 1)" font-family='"Liberation Serif", serif' font-size="14.5" fill="#0000ff" stroke="#0000ff" stroke-width="0.42" font-style="italic" >&#1013;</text>
<path d="M631.73 617.1 v-9 M631.73 437.9 v9 M690.25 617.1 v-9 M690.25 437.9 v9 M748.77 617.1 v-9 M748.77 437.9 v9" stroke="#000" stroke-width="1.8" fill="none"/>
<rect x="573.2" y="437.9" width="234.1" height="179.2" fill="none" stroke="#000" stroke-width="2"/>
<text x="44.4" y="636.8" text-anchor="middle" font-family='"Liberation Sans", sans-serif' font-size="14.67" fill="#000" >0</text>
<text x="102.5" y="636.8" text-anchor="middle" font-family='"Liberation Sans", sans-serif' font-size="14.67" fill="#000" >1</text>
<text x="160.6" y="636.8" text-anchor="middle" font-family='"Liberation Sans", sans-serif' font-size="14.67" fill="#000" >2</text>
<text x="218.7" y="636.8" text-anchor="middle" font-family='"Liberation Sans", sans-serif' font-size="14.67" fill="#000" >3</text>
<text x="276.8" y="636.8" text-anchor="middle" font-family='"Liberation Sans", sans-serif' font-size="14.67" fill="#000" >4</text>
<text x="158.8" y="660" text-anchor="middle" font-family='"Liberation Sans", sans-serif' font-size="14.67" fill="#000" >time (Myr)</text>
<text x="309" y="636.8" text-anchor="middle" font-family='"Liberation Sans", sans-serif' font-size="14.67" fill="#000" >0</text>
<text x="367.65" y="636.8" text-anchor="middle" font-family='"Liberation Sans", sans-serif' font-size="14.67" fill="#000" >0.5</text>
<text x="426.3" y="636.8" text-anchor="middle" font-family='"Liberation Sans", sans-serif' font-size="14.67" fill="#000" >1</text>
<text x="484.95" y="636.8" text-anchor="middle" font-family='"Liberation Sans", sans-serif' font-size="14.67" fill="#000" >1.5</text>
<text x="543.6" y="636.8" text-anchor="middle" font-family='"Liberation Sans", sans-serif' font-size="14.67" fill="#000" >2</text>
<text x="424.5" y="660" text-anchor="middle" font-family='"Liberation Sans", sans-serif' font-size="14.67" fill="#000" >time (Myr)</text>
<text x="575" y="636.8" text-anchor="middle" font-family='"Liberation Sans", sans-serif' font-size="14.67" fill="#000" >0</text>
<text x="633.52" y="636.8" text-anchor="middle" font-family='"Liberation Sans", sans-serif' font-size="14.67" fill="#000" >40</text>
<text x="692.05" y="636.8" text-anchor="middle" font-family='"Liberation Sans", sans-serif' font-size="14.67" fill="#000" >80</text>
<text x="750.57" y="636.8" text-anchor="middle" font-family='"Liberation Sans", sans-serif' font-size="14.67" fill="#000" >120</text>
<text x="809.1" y="636.8" text-anchor="middle" font-family='"Liberation Sans", sans-serif' font-size="14.67" fill="#000" >160</text>
<text x="690.25" y="660" text-anchor="middle" font-family='"Liberation Sans", sans-serif' font-size="14.67" fill="#000" >time (Myr)</text>
<text x="33.9" y="216.7" text-anchor="end" font-family='"Liberation Sans", sans-serif' font-size="14.67" fill="#000" >0</text>
<text x="33.9" y="180.78" text-anchor="end" font-family='"Liberation Sans", sans-serif' font-size="14.67" fill="#000" >0.2</text>
<text x="33.9" y="144.86" text-anchor="end" font-family='"Liberation Sans", sans-serif' font-size="14.67" fill="#000" >0.4</text>
<text x="33.9" y="108.94" text-anchor="end" font-family='"Liberation Sans", sans-serif' font-size="14.67" fill="#000" >0.6</text>
<text x="33.9" y="73.02" text-anchor="end" font-family='"Liberation Sans", sans-serif' font-size="14.67" fill="#000" >0.8</text>
<text x="33.9" y="37.1" text-anchor="end" font-family='"Liberation Sans", sans-serif' font-size="14.67" fill="#000" >1.0</text>
<text x="33.9" y="415.9" text-anchor="end" font-family='"Liberation Sans", sans-serif' font-size="14.67" fill="#000" >1</text>
<text x="33.9" y="390.83" text-anchor="end" font-family='"Liberation Sans", sans-serif' font-size="14.67" fill="#000" >2</text>
<text x="33.9" y="365.76" text-anchor="end" font-family='"Liberation Sans", sans-serif' font-size="14.67" fill="#000" >4</text>
<text x="33.9" y="340.69" text-anchor="end" font-family='"Liberation Sans", sans-serif' font-size="14.67" fill="#000" >8</text>
<text x="33.9" y="315.61" text-anchor="end" font-family='"Liberation Sans", sans-serif' font-size="14.67" fill="#000" >16</text>
<text x="33.9" y="290.54" text-anchor="end" font-family='"Liberation Sans", sans-serif' font-size="14.67" fill="#000" >32</text>
<text x="33.9" y="265.47" text-anchor="end" font-family='"Liberation Sans", sans-serif' font-size="14.67" fill="#000" >64</text>
<text x="33.9" y="240.4" text-anchor="end" font-family='"Liberation Sans", sans-serif' font-size="14.67" fill="#000" >128</text>
<text x="22" y="623.1" text-anchor="end" font-family='"Liberation Sans", sans-serif' font-size="14.67" fill="#000">10</text>
<text x="22.3" y="616.5" text-anchor="start" font-family='"Liberation Sans", sans-serif' font-size="11.74" fill="#000">-8</text>
<text x="22" y="593.23" text-anchor="end" font-family='"Liberation Sans", sans-serif' font-size="14.67" fill="#000">10</text>
<text x="22.3" y="586.63" text-anchor="start" font-family='"Liberation Sans", sans-serif' font-size="11.74" fill="#000">-7</text>
<text x="22" y="563.37" text-anchor="end" font-family='"Liberation Sans", sans-serif' font-size="14.67" fill="#000">10</text>
<text x="22.3" y="556.77" text-anchor="start" font-family='"Liberation Sans", sans-serif' font-size="11.74" fill="#000">-6</text>
<text x="22" y="533.5" text-anchor="end" font-family='"Liberation Sans", sans-serif' font-size="14.67" fill="#000">10</text>
<text x="22.3" y="526.9" text-anchor="start" font-family='"Liberation Sans", sans-serif' font-size="11.74" fill="#000">-5</text>
<text x="22" y="503.63" text-anchor="end" font-family='"Liberation Sans", sans-serif' font-size="14.67" fill="#000">10</text>
<text x="22.3" y="497.03" text-anchor="start" font-family='"Liberation Sans", sans-serif' font-size="11.74" fill="#000">-4</text>
<text x="22" y="473.77" text-anchor="end" font-family='"Liberation Sans", sans-serif' font-size="14.67" fill="#000">10</text>
<text x="22.3" y="467.17" text-anchor="start" font-family='"Liberation Sans", sans-serif' font-size="11.74" fill="#000">-3</text>
<text x="22" y="443.9" text-anchor="end" font-family='"Liberation Sans", sans-serif' font-size="14.67" fill="#000">10</text>
<text x="22.3" y="437.3" text-anchor="start" font-family='"Liberation Sans", sans-serif' font-size="11.74" fill="#000">-2</text>
<text transform="translate(129.8 20.8) scale(1.36 1)" font-family='"Liberation Serif", serif' font-size="13.9" font-style="italic" fill="#000" stroke="#000" stroke-width="0.35">&#964;</text>
<text x="141.1" y="20.8" text-anchor="start" font-family='"Liberation Sans", sans-serif' font-size="14.67" fill="#000" >=</text>
<text x="155.4" y="20.8" text-anchor="start" font-family='"Liberation Sans", sans-serif' font-size="14.67" fill="#000" >10</text>
<text x="171.6" y="13.7" text-anchor="start" font-family='"Liberation Sans", sans-serif' font-size="11.5" fill="#000" >-4</text>
<text x="185.4" y="20.8" text-anchor="start" font-family='"Liberation Sans", sans-serif' font-size="14.67" fill="#000" >yr</text>
<text transform="translate(395.5 20.8) scale(1.36 1)" font-family='"Liberation Serif", serif' font-size="13.9" font-style="italic" fill="#000" stroke="#000" stroke-width="0.35">&#964;</text>
<text x="406.8" y="20.8" text-anchor="start" font-family='"Liberation Sans", sans-serif' font-size="14.67" fill="#000" >=</text>
<text x="421.1" y="20.8" text-anchor="start" font-family='"Liberation Sans", sans-serif' font-size="14.67" fill="#000" >10</text>
<text x="437.3" y="13.7" text-anchor="start" font-family='"Liberation Sans", sans-serif' font-size="11.5" fill="#000" >-2</text>
<text x="451.1" y="20.8" text-anchor="start" font-family='"Liberation Sans", sans-serif' font-size="14.67" fill="#000" >yr</text>
<text transform="translate(661.25 20.8) scale(1.36 1)" font-family='"Liberation Serif", serif' font-size="13.9" font-style="italic" fill="#000" stroke="#000" stroke-width="0.35">&#964;</text>
<text x="672.55" y="20.8" text-anchor="start" font-family='"Liberation Sans", sans-serif' font-size="14.67" fill="#000" >=</text>
<text x="686.85" y="20.8" text-anchor="start" font-family='"Liberation Sans", sans-serif' font-size="14.67" fill="#000" >10</text>
<text x="703.05" y="13.7" text-anchor="start" font-family='"Liberation Sans", sans-serif' font-size="11.5" fill="#000" >0</text>
<text x="713.15" y="20.8" text-anchor="start" font-family='"Liberation Sans", sans-serif' font-size="14.67" fill="#000" >yr</text>
</g>
</svg></body></html>
